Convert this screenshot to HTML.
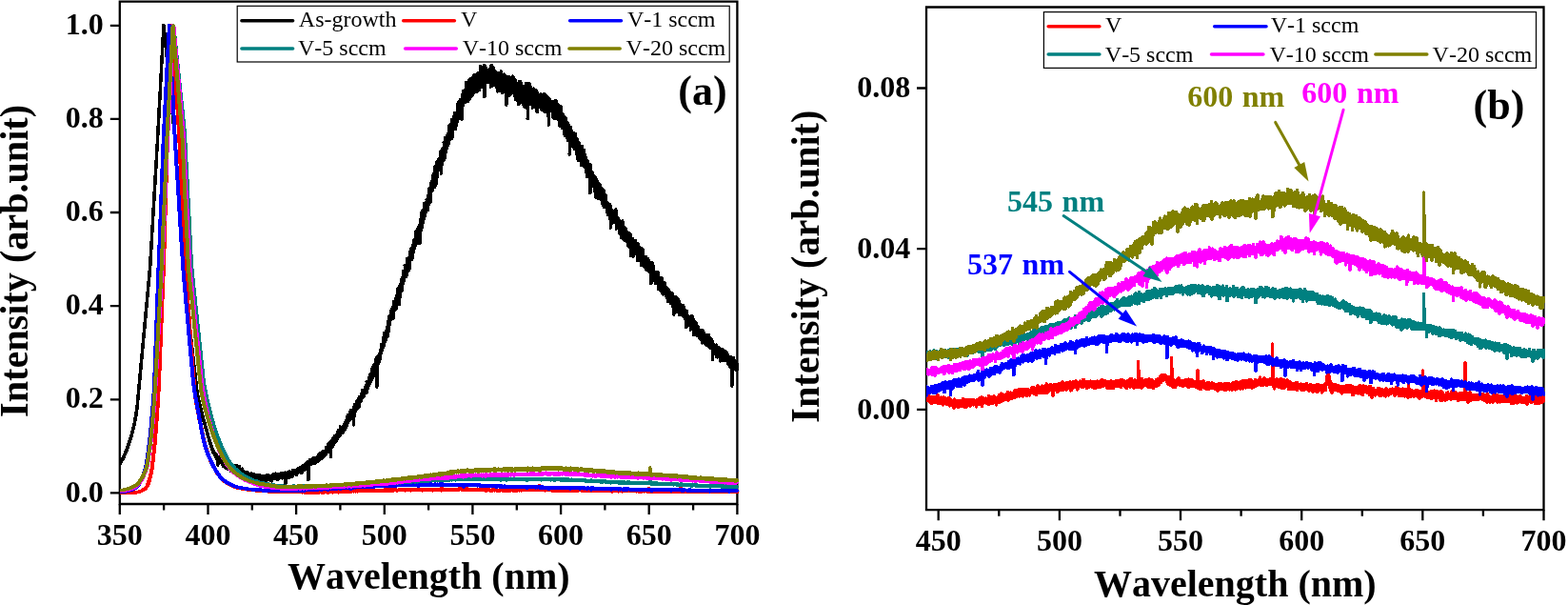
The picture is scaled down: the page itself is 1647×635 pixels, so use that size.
<!DOCTYPE html>
<html lang="en"><head><meta charset="utf-8"><title>PL spectra</title>
<style>
html,body{margin:0;padding:0;background:#fff;overflow:hidden;}
svg{display:block;}
text{font-family:"Liberation Serif","Times New Roman",serif;font-kerning:none;}
.tk{font-weight:bold;font-size:32px;}
.ti{font-weight:bold;font-size:40px;}
.lg{font-size:24px;}
.pl{font-weight:bold;font-size:44px;}
.an{word-spacing:1.6px;}
.c{fill:none;stroke-width:3.6;stroke-linejoin:round;stroke-linecap:butt;shape-rendering:crispEdges;}
.ax{stroke:#000;stroke-width:2.3;fill:none;}
</style></head>
<body>
<svg width="1647" height="635" viewBox="0 0 1647 635">
<rect width="1647" height="635" fill="#fff"/>
<defs><clipPath id="cl"><rect x="125.8" y="1.7" width="650.6" height="527.3"/></clipPath><clipPath id="cr"><rect x="973.0" y="7.5" width="650.3" height="527.7"/></clipPath></defs>
<g id="panel-a">
<path class="ax" stroke-linejoin="miter" d="M125.8 529.0V1.7H774.4V529.0Z"/>
<path class="ax" d="M125.8 529.0v11.1M218.5 529.0v11.1M311.1 529.0v11.1M403.8 529.0v11.1M496.4 529.0v11.1M589.1 529.0v11.1M681.7 529.0v11.1M774.4 529.0v11.1M172.1 529.0v6.6M264.8 529.0v6.6M357.4 529.0v6.6M450.1 529.0v6.6M542.8 529.0v6.6M635.4 529.0v6.6M728.1 529.0v6.6M125.8 517.4h-10M125.8 419.3h-10M125.8 321.2h-10M125.8 223.0h-10M125.8 124.9h-10M125.8 26.8h-10"/>
<text class="tk" x="125.8" y="571.8" text-anchor="middle">350</text>
<text class="tk" x="218.5" y="571.8" text-anchor="middle">400</text>
<text class="tk" x="311.1" y="571.8" text-anchor="middle">450</text>
<text class="tk" x="403.8" y="571.8" text-anchor="middle">500</text>
<text class="tk" x="496.4" y="571.8" text-anchor="middle">550</text>
<text class="tk" x="589.1" y="571.8" text-anchor="middle">600</text>
<text class="tk" x="681.7" y="571.8" text-anchor="middle">650</text>
<text class="tk" x="774.4" y="571.8" text-anchor="middle">700</text>
<text class="tk" x="108.7" y="526.5" text-anchor="end">0.0</text>
<text class="tk" x="108.7" y="428.4" text-anchor="end">0.2</text>
<text class="tk" x="108.7" y="330.3" text-anchor="end">0.4</text>
<text class="tk" x="108.7" y="232.1" text-anchor="end">0.6</text>
<text class="tk" x="108.7" y="134.0" text-anchor="end">0.8</text>
<text class="tk" x="108.7" y="35.9" text-anchor="end">1.0</text>
<text class="ti" x="450.2" y="618" text-anchor="middle">Wavelength (nm)</text>
<text class="ti" transform="translate(29.2 273.9) rotate(-90) scale(1.004 1.07)" text-anchor="middle">Intensity (arb.unit)</text>
<g clip-path="url(#cl)">
<path class="c" stroke="#000000" d="M125.8 487.0L125.8 487.0V486.7L126.3 486.6V485.9L126.8 485.7V485.1L127.3 485.0V484.3L127.8 484.2V483.3L128.3 483.1V482.4L128.8 482.3V481.3L129.3 481.2V480.4L129.8 480.2V479.4L130.3 479.2V478.2L130.8 478.0V477.2L131.3 477.0V475.9L131.8 475.6V474.7L132.3 474.5V473.5L132.8 473.3V472.0L133.3 471.7V470.7L133.8 470.4V469.1L134.3 468.8V467.7L134.8 467.4V466.3L135.3 466.0V464.6L135.8 464.3V463.2L136.3 462.9V461.5L136.8 461.2V460.0L137.3 459.7V458.5L137.8 458.2V456.7L138.3 456.4V455.1L138.8 454.7V453.0L139.3 452.7V451.2L139.8 450.8V449.3L140.3 448.9V446.9L140.8 446.5V444.8L141.3 444.3V442.5L141.8 442.0V439.5L142.3 439.0V436.8L142.8 436.3V433.3L143.3 432.7V430.0L143.8 429.2V425.9L144.3 425.1V420.5L144.8 419.5V415.7L145.3 414.7V409.9L145.8 408.9V404.9L146.3 403.9V399.9L146.8 398.8V393.8L147.3 392.8V388.8L147.8 387.8V382.7L148.3 381.7V377.7L148.8 376.7V372.7L149.3 371.6V366.6L149.8 365.6V361.6L150.3 360.6V355.5L150.8 354.5V350.5L151.3 349.5V345.4L151.8 344.4V339.4L152.3 338.4V334.4L152.8 333.4V328.3L153.3 327.3V323.3L153.8 322.3V318.2L154.3 317.2V312.2L154.8 311.2V307.2L155.3 306.1V301.1L155.8 300.1V296.1L156.3 295.1V291.0L156.8 290.0V285.0L157.3 284.0V279.9L157.8 278.4V270.5L158.3 268.9V262.6L158.8 261.1V254.8L159.3 253.2V245.3L159.8 243.7V237.4L160.3 235.9V228.0L160.8 226.4V220.1L161.3 218.5V212.2L161.8 210.7V202.8L162.3 201.2V194.9L162.8 193.4V185.5L163.3 183.9V177.6L163.8 176.0V169.7L164.3 168.2V160.3L164.8 158.7V152.4L165.3 150.8V142.8L165.8 141.1V134.2L166.3 132.4V125.5L166.8 123.8V115.1L167.3 113.4V106.5L167.8 104.7V97.8L168.3 96.1V87.4L168.8 85.7V78.7L169.3 77.0V68.4L169.8 66.6V59.7L170.3 58.0V51.0L170.8 49.3V40.7L171.3 38.9V32.0L171.8 30.3V26.8L172.3 30.5V34.1L172.8 35.0V38.7L173.3 39.6V44.2L173.8 45.1V48.7L174.3 49.6V54.2L174.8 55.1V58.8L175.3 59.7V63.4L175.8 64.3V68.8L176.3 69.8V73.4L176.8 74.3V78.9L177.3 79.8V83.5L177.8 84.4V88.0L178.3 88.9V93.5L178.8 94.4V98.1L179.3 99.0V103.6L179.8 104.5V108.1L180.3 109.1V112.7L180.8 113.6V118.2L181.3 119.1V122.8L181.8 123.7V128.2L182.3 129.2V132.8L182.8 133.7V137.4L183.3 138.3V144.6L183.8 146.1V152.0L184.3 153.5V161.0L184.8 162.4V168.4L185.3 169.9V175.8L185.8 177.3V184.8L186.3 186.2V192.2L186.8 193.7V201.1L187.3 202.6V208.6L187.8 210.0V216.0L188.3 217.5V224.9L188.8 226.4V232.4L189.3 233.8V241.3L189.8 242.8V248.7L190.3 250.2V256.2L190.8 257.6V265.1L191.3 266.6V272.5L191.8 274.0V280.8L192.3 281.6V284.9L192.8 285.7V289.0L193.3 289.8V293.9L193.8 294.8V298.1L194.3 298.9V302.2L194.8 303.0V307.1L195.3 307.9V311.2L195.8 312.0V316.2L196.3 317.0V320.3L196.8 321.1V324.4L197.3 325.2V329.3L197.8 330.1V333.4L198.3 334.3V338.4L198.8 339.2V342.5L199.3 343.3V346.6L199.8 347.4V351.5L200.3 352.4V355.7L200.8 356.5V360.6L201.3 361.4V364.7L201.8 365.5V368.8L202.3 369.6V373.8L202.8 374.6V377.9L203.3 378.7V382.8L203.8 383.6V386.9L204.3 387.7V391.0L204.8 391.9V396.0L205.3 396.8V400.1L205.8 400.9V405.0L206.3 405.8V409.1L206.8 410.0V412.0L207.3 412.5V414.9L207.8 415.4V417.2L208.3 417.7V419.9L208.8 420.3V422.0L209.3 422.5V424.1L209.8 424.5V426.5L210.3 426.9V428.4L210.8 428.8V430.7L211.3 431.0V432.5L211.8 432.9V434.3L212.3 434.6V436.3L212.8 436.7V438.0L213.3 438.4V440.0L213.8 440.4V441.7L214.3 442.0V443.3L214.8 443.7V445.3L215.3 445.6V446.9L215.8 447.2V448.9L216.3 449.2V450.5L216.8 450.9V452.2L217.3 452.5V454.1L217.8 454.5V455.8L218.3 456.1V457.7L218.8 458.0V459.3L219.3 459.6V460.9L219.8 461.2V462.6L220.3 462.9V464.5L220.8 464.3V465.8L221.3 466.1V467.6L221.8 467.5V468.9L222.3 468.8V469.9L222.8 470.4V471.6L223.3 471.3V472.3L223.8 472.6V474.2L224.3 474.1V475.2L224.8 474.6V475.9L225.3 476.6V475.0L225.8 476.3V477.9L226.3 477.1V479.0L226.8 479.4V477.1L227.3 477.6V480.4L227.8 481.3V479.2L228.3 480.1V481.8L228.8 479.6V488.1L229.3 482.3V479.6L229.8 480.6V482.8L230.3 482.9V481.8L230.8 480.9V483.8L231.3 485.4V481.6L231.8 483.0V485.3L232.3 485.4V484.0L232.8 482.6V486.0L233.3 486.6V484.9L233.8 485.6V488.0L234.3 488.6V486.5L234.8 485.3V489.3L235.3 488.0V484.8L235.8 485.5V488.3L236.3 489.2V486.3L236.8 487.1V489.1L237.3 491.3V486.8L237.8 486.7V489.4L238.3 489.4V485.8L238.8 486.9V490.9L239.3 489.9V487.6L239.8 488.7V492.3L240.3 490.8V486.4L240.8 487.1V491.3L241.3 492.7V487.4L241.8 490.1V492.2L242.3 494.0V489.9L242.8 489.6V491.4L243.3 492.4V488.8L243.8 489.3V493.3L244.3 491.2V489.1L244.8 489.2V495.2L245.3 491.9V488.5L245.8 489.6V493.8L246.3 494.2V491.9L246.8 489.1V495.1L247.3 493.1V491.0L247.8 490.7V495.0L248.3 493.0V488.9L248.8 492.2V495.2L249.3 494.7V491.8L249.8 491.6V494.6L250.3 495.0V491.5L250.8 492.7V495.9L251.3 494.6V489.7L251.8 493.5V497.3L252.3 495.3V491.9L252.8 492.3V497.3L253.3 497.0V494.8L253.8 494.4V496.9L254.3 496.5V492.1L254.8 493.1V497.1L255.3 496.4V498.7L255.8 497.4V495.7L256.3 495.1V497.0L256.8 497.4V495.8L257.3 496.1V498.0L257.8 498.7V495.8L258.3 496.3V498.6L258.8 498.1V495.6L259.3 497.4V499.6L259.8 499.8V497.9L260.3 496.1V499.8L260.8 500.3V498.1L261.3 499.0V502.4L261.8 499.8V498.1L262.3 498.1V500.3L262.8 500.8V497.7L263.3 498.8V500.7L263.8 499.5V496.9L264.3 497.3V502.2L264.8 501.3V498.1L265.3 499.9V504.8L265.8 502.0V498.1L266.3 499.1V500.9L266.8 500.1V497.9L267.3 498.2V502.6L267.8 502.8V498.3L268.3 499.2V500.7L268.8 498.3V503.8L269.3 500.8V499.3L269.8 499.6V501.9L270.3 502.3V499.5L270.8 498.6V503.4L271.3 503.1V499.1L271.8 499.6V503.4L272.3 502.9V500.3L272.8 498.8V502.5L273.3 503.8V499.5L273.8 500.9V504.0L274.3 503.3V499.6L274.8 501.1V503.7L275.3 504.9V500.1L275.8 501.4V505.2L276.3 503.6V499.7L276.8 499.4V504.1L277.3 503.8V500.6L277.8 501.0V506.1L278.3 504.4V500.5L278.8 499.8V504.1L279.3 505.0V500.4L279.8 498.9V504.1L280.3 501.9V498.9L280.8 498.9V502.4L281.3 503.1V500.3L281.8 498.6V502.6L282.3 503.6V499.9L282.8 500.1V503.6L283.3 502.8V500.6L283.8 501.5V502.5L284.3 504.0V500.6L284.8 499.9V503.7L285.3 504.7V500.0L285.8 499.7V503.0L286.3 500.9V499.7L286.8 501.0V498.3L287.3 497.6V501.6L287.8 501.8V498.2L288.3 499.3V501.3L288.8 500.7V498.1L289.3 497.3V500.8L289.8 502.5V498.3L290.3 499.1V502.3L290.8 502.9V497.8L291.3 498.8V500.8L291.8 499.5V503.1L292.3 500.3V498.5L292.8 498.3V501.5L293.3 500.5V497.6L293.8 497.4V501.7L294.3 501.7V497.7L294.8 497.6V500.6L295.3 499.6V497.5L295.8 496.5V500.8L296.3 501.8V497.1L296.8 497.3V499.3L297.3 500.4V498.0L297.8 496.9V499.9L298.3 501.5V496.7L298.8 498.4V500.1L299.3 499.6V496.1L299.8 497.0V507.4L300.3 499.2V497.1L300.8 497.1V499.5L301.3 498.5V501.7L301.8 499.7V497.2L302.3 495.9V499.4L302.8 500.2V495.9L303.3 496.6V501.4L303.8 498.9V496.7L304.3 498.3V494.9L304.8 495.4V499.3L305.3 498.1V495.3L305.8 496.7V499.0L306.3 498.2V496.2L306.8 495.0V500.4L307.3 497.4V493.3L307.8 494.6V497.3L308.3 496.5V494.2L308.8 495.3V497.7L309.3 497.7V493.6L309.8 495.7V496.8L310.3 495.4V493.7L310.8 494.6V496.6L311.3 498.5V494.1L311.8 493.8V496.0L312.3 495.0V492.5L312.8 492.5V496.0L313.3 494.5V492.0L313.8 492.6V494.8L314.3 495.1V492.0L314.8 491.0V494.7L315.3 493.5V492.0L315.8 492.8V494.2L316.3 492.9V490.2L316.8 491.1V496.7L317.3 493.8V490.0L317.8 489.8V494.2L318.3 492.9V488.8L318.8 489.7V492.2L319.3 493.6V490.1L319.8 487.9V492.5L320.3 491.1V487.9L320.8 487.5V490.6L321.3 491.8V486.4L321.8 487.7V489.7L322.3 489.4V486.1L322.8 487.6V488.7L323.3 487.8V484.5L323.8 484.6V503.7L324.3 488.5V485.3L324.8 485.1V488.8L325.3 486.4V484.0L325.8 482.7V487.0L326.3 487.1V484.6L326.8 484.3V487.2L327.3 486.6V482.5L327.8 483.0V485.5L328.3 485.3V481.7L328.8 482.0V484.8L329.3 485.7V480.5L329.8 480.9V486.7L330.3 482.8V482.0L330.8 481.4V486.2L331.3 483.7V481.4L331.8 482.0V485.8L332.3 484.1V480.9L332.8 480.4V484.9L333.3 483.4V479.3L333.8 480.3V482.8L334.3 484.1V478.9L334.8 477.4V482.0L335.3 480.4V478.3L335.8 476.2V481.6L336.3 481.7V478.1L336.8 477.3V480.4L337.3 479.6V475.4L337.8 475.8V479.3L338.3 481.1V475.8L338.8 473.9V479.2L339.3 479.2V475.1L339.8 473.5V477.0L340.3 478.8V473.4L340.8 475.2V477.6L341.3 476.5V474.9L341.8 473.2V477.6L342.3 476.2V474.5L342.8 473.9V469.6L343.3 470.5V474.3L343.8 473.9V469.8L344.3 469.4V474.3L344.8 472.2V468.4L345.3 465.7V471.5L345.8 469.5V467.0L346.3 466.6V469.3L346.8 469.0V464.8L347.3 465.5V479.4L347.8 467.7V463.4L348.3 463.6V468.2L348.8 465.3V462.5L349.3 461.0V468.8L349.8 466.9V462.5L350.3 459.5V466.3L350.8 463.7V459.7L351.3 460.0V463.3L351.8 460.0V457.5L352.3 459.8V464.1L352.8 462.2V459.3L353.3 457.6V462.3L353.8 461.4V456.7L354.3 459.3V453.5L354.8 453.2V459.5L355.3 457.1V454.1L355.8 456.9V451.3L356.3 451.8V457.6L356.8 457.0V452.6L357.3 454.8V448.0L357.8 450.4V455.3L358.3 454.9V448.3L358.8 448.3V454.6L359.3 454.6V449.5L359.8 450.5V452.4L360.3 454.1V448.5L360.8 447.1V452.9L361.3 450.7V445.6L361.8 445.4V450.0L362.3 451.2V444.0L362.8 442.9V448.4L363.3 449.0V443.1L363.8 441.5V445.7L364.3 446.8V441.3L364.8 443.1V436.9L365.3 437.0V443.4L365.8 442.9V435.4L366.3 436.9V439.8L366.8 440.0V435.6L367.3 436.4V441.1L367.8 440.7V432.6L368.3 431.1V438.1L368.8 437.8V432.6L369.3 430.9V438.4L369.8 435.1V431.0L370.3 433.2V438.5L370.8 435.6V430.8L371.3 429.3V445.8L371.8 436.5V429.2L372.3 425.9V433.6L372.8 432.7V424.6L373.3 426.9V431.7L373.8 430.4V424.6L374.3 423.3V430.0L374.8 428.3V422.7L375.3 420.5V426.0L375.8 428.8V423.0L376.3 423.8V421.1L376.8 417.9V427.1L377.3 426.4V419.2L377.8 421.1V416.7L378.3 417.2V421.8L378.8 421.2V416.0L379.3 417.4V414.5L379.8 413.3V418.7L380.3 416.2V409.6L380.8 412.4V415.5L381.3 416.5V412.0L381.8 410.8V416.9L382.3 412.9V409.2L382.8 409.4V412.7L383.3 410.8V406.6L383.8 406.2V412.4L384.3 409.3V405.2L384.8 404.1V412.4L385.3 411.5V400.5L385.8 402.4V408.5L386.3 407.4V402.0L386.8 403.2V405.8L387.3 401.5V396.4L387.8 395.9V403.7L388.3 401.8V398.4L388.8 401.5V393.7L389.3 392.3V400.5L389.8 399.5V393.8L390.3 393.6V398.0L390.8 394.4V388.4L391.3 385.8V397.0L391.8 395.4V387.6L392.3 389.1V393.1L392.8 391.3V383.4L393.3 385.0V389.9L393.8 392.4V382.3L394.3 381.4V386.3L394.8 384.6V379.0L395.3 375.8V389.5L395.8 377.0V406.1L396.3 382.2V377.5L396.8 374.0V383.0L397.3 377.6V373.9L397.8 373.0V380.2L398.3 378.1V371.7L398.8 372.6V377.7L399.3 374.3V367.3L399.8 366.9V371.6L400.3 371.1V366.0L400.8 368.8V361.5L401.3 362.5V367.9L401.8 365.2V362.0L402.3 363.2V358.8L402.8 354.5V363.9L403.3 359.1V354.8L403.8 359.7V349.3L404.3 351.9V358.3L404.8 357.2V350.1L405.3 350.2V355.7L405.8 353.9V346.9L406.3 347.4V350.6L406.8 353.9V344.0L407.3 341.9V349.5L407.8 347.8V337.8L408.3 339.3V347.4L408.8 341.2V332.6L409.3 334.4V337.7L409.8 336.2V332.7L410.3 330.5V336.1L410.8 335.2V326.8L411.3 324.8V331.4L411.8 332.2V327.9L412.3 324.7V333.9L412.8 334.5V322.2L413.3 323.0V328.7L413.8 324.4V316.7L414.3 317.3V326.1L414.8 324.2V317.4L415.3 318.5V320.7L415.8 324.4V313.8L416.3 312.1V323.2L416.8 314.6V310.3L417.3 310.0V316.4L417.8 311.7V305.3L418.3 302.2V311.7L418.8 311.8V306.5L419.3 300.8V319.7L419.8 310.9V301.0L420.3 298.9V304.4L420.8 303.5V300.6L421.3 302.8V293.2L421.8 296.3V305.9L422.3 300.2V292.3L422.8 291.1V297.2L423.3 298.2V290.6L423.8 293.4V284.7L424.3 286.0V295.1L424.8 291.1V284.4L425.3 285.9V278.5L425.8 281.9V288.8L426.3 283.5V279.5L426.8 280.5V290.0L427.3 285.0V271.7L427.8 274.9V283.4L428.3 281.3V273.1L428.8 276.2V284.9L429.3 280.6V270.2L429.8 271.2V282.3L430.3 274.7V267.1L430.8 264.6V272.7L431.3 268.9V261.6L431.8 261.9V271.5L432.3 270.4V260.5L432.8 261.7V272.1L433.3 267.8V259.6L433.8 257.2V265.3L434.3 261.7V255.4L434.8 256.4V251.8L435.3 251.6V260.9L435.8 258.5V251.2L436.3 250.2V254.3L436.8 253.2V243.7L437.3 245.1V254.5L437.8 255.7V243.0L438.3 240.9V250.7L438.8 250.4V245.7L439.3 249.7V238.3L439.8 238.8V245.1L440.3 243.9V236.2L440.8 236.2V255.4L441.3 240.1V238.6L441.8 243.2V230.6L442.3 233.0V238.8L442.8 235.2V223.0L443.3 226.9V238.9L443.8 233.5V224.7L444.3 220.1V231.5L444.8 228.2V226.6L445.3 229.5V218.5L445.8 213.5V227.4L446.3 227.1V219.3L446.8 219.4V223.8L447.3 218.6V214.5L447.8 212.4V219.1L448.3 221.1V209.5L448.8 210.3V214.0L449.3 220.3V205.8L449.8 206.2V215.4L450.3 210.4V205.4L450.8 211.4V198.2L451.3 202.5V211.1L451.8 212.8V201.0L452.3 201.7V210.0L452.8 200.7V195.3L453.3 190.8V199.9L453.8 200.8V190.0L454.3 191.2V198.3L454.8 196.5V184.6L455.3 190.5V196.5L455.8 194.8V182.3L456.3 185.5V196.4L456.8 194.0V177.6L457.3 174.4V194.6L457.8 193.4V176.9L458.3 183.3V170.4L458.8 175.3V179.8L459.3 186.0V171.9L459.8 169.4V180.0L460.3 176.2V167.6L460.8 168.5V176.7L461.3 173.4V166.3L461.8 170.1V174.3L462.3 176.9V160.0L462.8 159.0V172.5L463.3 163.6V182.0L463.8 171.8V160.5L464.3 158.8V172.7L464.8 166.7V156.5L465.3 155.4V165.4L465.8 168.6V158.5L466.3 159.7V149.5L466.8 154.1V162.0L467.3 165.2V150.8L467.8 144.4V161.0L468.3 153.1V146.2L468.8 147.5V151.4L469.3 155.9V145.2L469.8 142.2V153.3L470.3 146.5V143.6L470.8 140.6V152.0L471.3 146.7V138.4L471.8 132.3V147.7L472.3 139.8V132.4L472.8 131.7V142.7L473.3 140.3V130.1L473.8 130.1V137.6L474.3 136.7V125.4L474.8 127.8V145.1L475.3 140.9V126.3L475.8 126.2V134.2L476.3 135.9V123.2L476.8 121.8V133.2L477.3 134.8V119.0L477.8 122.4V130.0L478.3 135.2V123.2L478.8 121.7V133.0L479.3 129.1V118.9L479.8 120.3V129.0L480.3 126.4V121.0L480.8 122.0V109.6L481.3 112.5V123.5L481.8 118.6V111.2L482.3 106.1V118.0L482.8 112.5V109.6L483.3 105.6V124.4L483.8 116.4V104.4L484.3 106.2V117.1L484.8 112.1V105.1L485.3 103.3V125.0L485.8 109.6V98.9L486.3 100.5V110.0L486.8 107.0V95.8L487.3 97.8V106.7L487.8 100.1V96.5L488.3 96.2V105.0L488.8 107.0V94.1L489.3 101.5V105.9L489.8 100.2V86.3L490.3 94.9V103.1L490.8 101.0V90.8L491.3 96.0V106.7L491.8 98.8V91.4L492.3 89.6V100.9L492.8 100.8V93.0L493.3 83.6V103.9L493.8 101.2V86.8L494.3 96.1V101.4L494.8 97.1V82.5L495.3 86.2V95.4L495.8 100.2V82.0L496.3 85.4V99.1L496.8 95.5V87.9L497.3 79.8V97.7L497.8 90.8V85.4L498.3 78.4V96.3L498.8 90.3V83.7L499.3 80.1V94.0L499.8 96.1V83.2L500.3 83.4V95.3L500.8 95.9V83.8L501.3 78.7V95.9L501.8 89.2V77.2L502.3 76.5V91.0L502.8 93.2V78.2L503.3 76.8V94.6L503.8 90.8V82.1L504.3 85.0V73.3L504.8 69.5V85.1L505.3 85.7V79.5L505.8 74.4V91.0L506.3 88.8V77.6L506.8 76.4V82.8L507.3 89.1V72.1L507.8 77.1V83.5L508.3 87.9V68.9L508.8 68.4V101.3L509.3 83.2V72.9L509.8 78.4V84.1L510.3 87.2V71.4L510.8 74.2V86.8L511.3 82.9V76.7L511.8 74.0V84.8L512.3 83.8V75.9L512.8 76.5V80.2L513.3 77.4V86.3L513.8 85.2V78.3L514.3 78.7V84.7L514.8 84.9V72.1L515.3 73.6V91.0L515.8 88.5V79.0L516.3 68.6V90.3L516.8 82.4V73.9L517.3 74.4V82.5L517.8 85.8V70.5L518.3 75.0V87.1L518.8 85.9V77.3L519.3 74.1V85.3L519.8 89.6V74.2L520.3 78.6V89.2L520.8 88.5V77.6L521.3 79.9V91.3L521.8 85.4V79.7L522.3 76.5V95.9L522.8 90.3V81.6L523.3 76.4V95.2L523.8 94.2V80.2L524.3 79.5V95.4L524.8 85.3V78.3L525.3 79.5V90.0L525.8 93.8V81.5L526.3 74.9V90.1L526.8 90.0V82.3L527.3 79.1V88.6L527.8 83.3V97.4L528.3 88.8V82.9L528.8 82.7V92.9L529.3 93.3V86.1L529.8 78.1V95.1L530.3 92.5V87.2L530.8 82.7V93.3L531.3 87.7V80.0L531.8 84.0V110.0L532.3 100.1V84.5L532.8 83.9V93.2L533.3 97.1V85.2L533.8 80.5V95.8L534.3 100.2V88.0L534.8 89.7V95.9L535.3 95.8V85.3L535.8 81.2V99.5L536.3 94.6V84.2L536.8 84.4V90.3L537.3 93.7V81.3L537.8 85.3V94.2L538.3 97.3V80.3L538.8 80.2V91.3L539.3 92.0V83.8L539.8 86.4V91.1L540.3 95.5V84.2L540.8 83.9V99.6L541.3 101.2V87.6L541.8 89.6V104.2L542.3 94.4V89.9L542.8 87.8V100.9L543.3 102.0V93.8L543.8 93.9V100.3L544.3 107.3V90.1L544.8 95.1V109.8L545.3 103.7V85.7L545.8 94.3V101.4L546.3 105.5V94.1L546.8 86.0V102.8L547.3 99.9V95.3L547.8 97.2V104.1L548.3 102.8V93.5L548.8 97.4V107.5L549.3 104.5V94.0L549.8 91.0V110.0L550.3 104.1V95.6L550.8 92.1V112.0L551.3 101.4V94.2L551.8 98.4V103.0L552.3 104.7V87.8L552.8 90.4V103.7L553.3 113.1V93.6L553.8 96.4V100.3L554.3 89.3V124.6L554.8 99.6V91.0L555.3 91.6V107.1L555.8 109.8V87.4L556.3 93.6V108.0L556.8 108.9V92.8L557.3 90.8V102.8L557.8 105.2V97.4L558.3 93.2V106.2L558.8 104.0V97.5L559.3 93.7V113.2L559.8 112.4V99.6L560.3 97.3V105.5L560.8 101.2V93.2L561.3 95.1V104.7L561.8 99.2V112.6L562.3 107.5V95.9L562.8 94.8V109.4L563.3 112.3V97.5L563.8 97.0V111.0L564.3 117.7V97.7L564.8 100.0V109.4L565.3 111.0V102.3L565.8 100.5V112.9L566.3 110.2V100.1L566.8 102.3V111.9L567.3 103.9V100.2L567.8 98.8V110.1L568.3 112.2V102.9L568.8 104.7V115.0L569.3 115.4V106.3L569.8 102.3V112.9L570.3 112.8V102.1L570.8 101.1V114.5L571.3 107.9V101.2L571.8 98.6V115.5L572.3 117.3V107.7L572.8 102.3V114.4L573.3 116.0V108.0L573.8 103.9V114.7L574.3 115.9V101.0L574.8 103.7V113.2L575.3 107.5V121.6L575.8 117.7V102.9L576.3 105.3V131.0L576.8 111.6V103.6L577.3 111.5V116.6L577.8 113.5V107.7L578.3 107.2V116.5L578.8 114.9V107.8L579.3 106.8V115.8L579.8 114.6V111.8L580.3 109.1V116.8L580.8 122.8V106.8L581.3 110.7V116.8L581.8 118.7V109.6L582.3 108.2V124.3L582.8 117.7V110.8L583.3 114.7V119.3L583.8 120.3V105.4L584.3 110.0V119.6L584.8 115.5V124.0L585.3 118.5V110.8L585.8 109.6V121.7L586.3 121.0V125.0L586.8 125.7V114.0L587.3 114.4V131.1L587.8 131.7V111.4L588.3 117.4V126.9L588.8 126.7V111.6L589.3 114.8V132.0L589.8 128.1V118.5L590.3 123.1V133.5L590.8 134.5V121.4L591.3 119.9V131.9L591.8 130.3V125.5L592.3 126.6V140.6L592.8 132.2V124.8L593.3 123.2V142.4L593.8 140.7V123.7L594.3 130.9V139.1L594.8 141.7V133.3L595.3 134.0V144.5L595.8 141.8V133.4L596.3 129.3V147.1L596.8 141.2V130.6L597.3 133.7V146.3L597.8 145.1V134.4L598.3 134.3V162.0L598.8 143.5V134.7L599.3 133.7V147.0L599.8 148.2V136.3L600.3 138.3V146.4L600.8 153.0V138.9L601.3 140.6V147.9L601.8 148.9V140.3L602.3 142.8V149.8L602.8 154.1V142.0L603.3 140.3V156.5L603.8 155.1V142.0L604.3 140.4V156.0L604.8 155.1V151.3L605.3 150.8V161.8L605.8 162.0V145.6L606.3 150.1V166.7L606.8 163.6V152.7L607.3 150.8V163.6L607.8 168.1V149.3L608.3 158.8V164.7L608.8 164.4V159.1L609.3 157.9V166.4L609.8 167.6V154.8L610.3 160.3V170.6L610.8 173.3V162.3L611.3 170.7V153.5L611.8 160.2V168.3L612.3 167.7V161.2L612.8 168.6V170.6L613.3 172.6V157.5L613.8 166.7V174.3L614.3 174.9V162.8L614.8 167.2V171.3L615.3 165.7V180.1L615.8 178.3V169.1L616.3 169.8V185.0L616.8 182.9V169.1L617.3 169.4V180.0L617.8 181.1V174.9L618.3 177.3V172.2L618.8 176.0V186.0L619.3 185.5V174.5L619.8 172.7V202.3L620.3 187.7V179.2L620.8 181.0V188.5L621.3 192.1V180.2L621.8 184.6V188.4L622.3 192.7V181.6L622.8 183.1V195.4L623.3 195.1V185.6L623.8 187.2V195.6L624.3 196.1V187.1L624.8 185.7V197.5L625.3 201.3V187.5L625.8 187.3V203.1L626.3 207.3V188.2L626.8 189.4V200.6L627.3 198.4V207.8L627.8 205.3V194.0L628.3 195.4V200.8L628.8 194.8V208.6L629.3 207.6V197.6L629.8 193.2V203.8L630.3 201.1V208.2L630.8 206.8V196.6L631.3 200.3V209.8L631.8 207.8V198.9L632.3 200.9V213.3L632.8 212.6V204.8L633.3 200.2V211.1L633.8 215.3V199.2L634.3 205.9V217.5L634.8 213.2V203.2L635.3 209.8V215.7L635.8 217.3V207.2L636.3 205.0V216.9L636.8 216.9V210.9L637.3 216.0V220.0L637.8 223.1V212.4L638.3 214.1V222.6L638.8 225.5V214.2L639.3 214.6V223.8L639.8 221.4V218.9L640.3 218.1V224.4L640.8 230.0V215.0L641.3 220.1V239.0L641.8 229.3V224.8L642.3 228.7V220.7L642.8 223.3V228.9L643.3 233.8V223.0L643.8 222.0V231.4L644.3 231.8V222.6L644.8 221.4V231.0L645.3 232.8V226.2L645.8 224.1V230.1L646.3 232.4V223.6L646.8 220.0V232.1L647.3 230.2V240.0L647.8 239.6V228.3L648.3 228.3V237.5L648.8 238.8V228.2L649.3 230.9V239.0L649.8 239.6V232.4L650.3 237.4V243.1L650.8 244.9V232.0L651.3 232.2V242.1L651.8 243.1V240.0L652.3 242.9V232.9L652.8 234.5V249.3L653.3 245.8V233.0L653.8 232.0V241.5L654.3 244.2V237.8L654.8 239.5V247.8L655.3 251.7V240.5L655.8 239.9V248.3L656.3 246.9V240.9L656.8 239.2V252.8L657.3 251.4V246.3L657.8 246.8V242.2L658.3 247.6V253.6L658.8 253.3V247.5L659.3 244.0V251.3L659.8 250.0V252.9L660.3 258.4V246.9L660.8 250.5V257.4L661.3 257.0V248.4L661.8 245.2V259.4L662.3 257.6V250.9L662.8 251.4V268.8L663.3 261.5V251.5L663.8 250.4V257.8L664.3 260.4V250.8L664.8 253.0V260.8L665.3 254.4V269.1L665.8 264.2V253.8L666.3 255.7V263.0L666.8 266.3V258.5L667.3 264.0V252.3L667.8 258.7V266.3L668.3 265.3V255.6L668.8 257.7V265.1L669.3 262.6V273.1L669.8 272.1V256.0L670.3 258.1V265.6L670.8 260.4V271.0L671.3 273.1V265.0L671.8 269.3V259.1L672.3 263.6V270.8L672.8 271.3V265.0L673.3 265.4V274.8L673.8 278.4V267.2L674.3 267.3V273.0L674.8 274.8V261.1L675.3 265.9V272.1L675.8 272.0V278.0L676.3 275.0V269.1L676.8 269.1V277.8L677.3 280.4V270.0L677.8 269.7V278.5L678.3 274.4V269.9L678.8 275.0V283.1L679.3 283.5V275.8L679.8 277.2V283.1L680.3 282.7V274.0L680.8 272.0V282.1L681.3 281.5V274.3L681.8 275.5V282.6L682.3 285.7V275.2L682.8 275.4V285.9L683.3 283.6V276.9L683.8 278.2V297.5L684.3 286.5V278.0L684.8 275.5V285.1L685.3 285.3V283.3L685.8 285.0V291.8L686.3 285.0V279.6L686.8 285.7V294.2L687.3 290.6V286.9L687.8 285.5V290.9L688.3 291.4V286.9L688.8 287.0V297.7L689.3 295.5V291.7L689.8 290.8V297.2L690.3 296.2V290.3L690.8 285.5V295.9L691.3 296.3V287.0L691.8 290.3V303.3L692.3 296.0V292.2L692.8 296.5V301.8L693.3 304.3V296.7L693.8 296.1V302.7L694.3 304.9V292.4L694.8 291.4V303.5L695.3 303.4V297.3L695.8 296.6V304.8L696.3 308.8V299.6L696.8 301.3V305.5L697.3 302.5V297.1L697.8 296.6V306.6L698.3 307.8V302.3L698.8 301.6V305.9L699.3 305.0V307.3L699.8 310.6V301.3L700.3 305.4V312.0L700.8 313.1V305.1L701.3 305.7V309.5L701.8 303.4V316.4L702.3 313.9V306.4L702.8 308.5V315.4L703.3 315.9V306.0L703.8 307.1V310.7L704.3 312.0V318.0L704.8 317.4V310.9L705.3 308.7V315.4L705.8 314.9V307.9L706.3 308.3V321.7L706.8 320.6V311.3L707.3 311.6V314.4L707.8 314.7V330.0L708.3 321.6V312.4L708.8 311.5V320.9L709.3 322.3V313.3L709.8 315.9V320.5L710.3 323.8V312.0L710.8 312.3V324.2L711.3 326.9V319.3L711.8 318.3V325.8L712.3 324.5V317.7L712.8 314.9V325.9L713.3 327.3V319.5L713.8 319.7V330.5L714.3 328.9V319.3L714.8 319.2V329.2L715.3 328.5V324.0L715.8 320.5V330.1L716.3 328.7V322.4L716.8 322.8V329.3L717.3 330.9V325.1L717.8 320.8V330.7L718.3 331.0V324.3L718.8 327.7V331.1L719.3 334.1V325.0L719.8 326.4V330.7L720.3 327.4V335.4L720.8 331.5V343.8L721.3 335.3V326.6L721.8 331.0V334.2L722.3 334.8V337.3L722.8 337.7V334.5L723.3 333.7V340.8L723.8 339.7V332.9L724.3 334.0V336.4L724.8 335.4V338.7L725.3 335.4V346.0L725.8 340.9V334.8L726.3 333.9V341.6L726.8 338.3V331.6L727.3 338.6V345.6L727.8 341.6V336.2L728.3 335.5V342.6L728.8 339.4V351.8L729.3 345.3V338.8L729.8 337.5V348.9L730.3 350.9V339.4L730.8 344.6V347.8L731.3 349.0V339.4L731.8 344.2V351.6L732.3 349.8V342.6L732.8 343.7V352.4L733.3 348.2V343.6L733.8 345.5V351.6L734.3 350.2V345.8L734.8 346.4V354.9L735.3 355.1V346.3L735.8 348.6V356.1L736.3 354.0V348.5L736.8 350.5V355.9L737.3 354.6V348.9L737.8 347.4V359.9L738.3 357.3V347.0L738.8 349.7V357.9L739.3 355.7V351.2L739.8 350.0V356.3L740.3 356.5V351.4L740.8 353.3V357.6L741.3 361.9V352.7L741.8 352.0V359.2L742.3 360.8V353.1L742.8 351.6V360.4L743.3 362.1V354.5L743.8 355.3V362.8L744.3 359.2V351.7L744.8 360.3V363.3L745.3 362.2V357.4L745.8 359.5V363.6L746.3 365.4V360.5L746.8 362.3V355.2L747.3 358.1V364.1L747.8 366.1V357.9L748.3 359.3V377.4L748.8 366.7V363.7L749.3 365.0V361.4L749.8 361.4V368.3L750.3 367.2V363.4L750.8 364.3V371.5L751.3 370.1V366.5L751.8 364.9V370.1L752.3 373.0V362.2L752.8 366.0V374.5L753.3 374.9V366.3L753.8 367.1V373.6L754.3 374.4V369.3L754.8 365.2V374.3L755.3 373.3V364.9L755.8 365.2V372.1L756.3 367.7V378.9L756.8 373.8V369.5L757.3 370.3V374.0L757.8 375.6V368.2L758.3 373.1V375.2L758.8 377.2V366.6L759.3 370.9V378.2L759.8 375.6V369.5L760.3 371.9V378.5L760.8 376.7V372.0L761.3 369.3V376.4L761.8 378.7V370.0L762.3 370.0V378.3L762.8 378.6V369.1L763.3 374.5V377.4L763.8 378.1V371.9L764.3 374.7V380.0L764.8 382.0V373.9L765.3 374.9V379.2L765.8 381.6V375.0L766.3 377.5V381.7L766.8 384.8V378.3L767.3 374.7V383.8L767.8 383.8V376.4L768.3 381.3V387.2L768.8 377.8V405.0L769.3 386.1V376.2L769.8 376.4V386.7L770.3 387.4V375.5L770.8 378.2V381.9L771.3 380.8V384.5L771.8 387.6V378.7L772.3 379.8V384.5L772.8 383.4V387.8L773.3 387.4V381.1L773.8 381.4V388.6L774.3 386.2V381.9"/>
<path class="c" stroke="#ff0000" stroke-width="3.5" d="M125.8 517.4L125.8 517.4L126.8 517.4L127.8 517.4L128.8 517.4L129.8 517.4L130.8 517.4L131.8 517.3L132.8 517.3L133.8 517.3L134.8 517.3L135.8 517.2L136.8 517.2L137.8 517.1L138.8 517.1L139.8 517.1L140.8 517.0L141.8 516.9L142.8 516.9L143.8 516.8V516.6L144.8 516.6V516.4L145.8 516.4V516.1L146.8 516.1V515.7L147.8 515.7V515.4L148.8 515.3V514.9L149.8 514.8V514.3L150.8 514.3V513.7L151.8 513.7V513.0L152.8 513.0V512.3L153.8 512.2V510.9L154.8 510.8V508.7L155.8 508.4V505.7L156.8 505.4V502.4L157.8 502.1V498.4L158.8 498.0V493.3L159.8 492.7V485.7L160.8 484.9V476.5L161.8 475.6V467.5L162.8 466.6V456.1L163.8 454.9V443.1L164.8 441.9V429.0L165.8 427.6V412.6L166.8 410.9V390.6L167.8 388.4V365.8L168.8 363.5V340.9L169.8 338.7V316.1L170.8 313.8V291.2L171.8 289.0V264.1L172.8 260.9V229.1L173.8 225.9V194.2L174.8 191.0V159.2L175.8 156.0V129.2L176.8 127.1V107.4L177.8 105.3V83.5L178.8 81.3V59.5L179.8 57.3V35.5L180.8 35.5V26.8L181.8 37.0V51.5L182.8 53.0V67.5L183.8 68.9V83.5L184.8 84.9V99.4L185.8 100.9V114.0L186.8 115.4V130.0L187.8 131.4V148.1L188.8 150.1V170.1L189.8 172.1V192.1L190.8 194.1V212.0L191.8 214.0V234.0L192.8 236.0V256.0L193.8 258.0V278.0L194.8 279.9V292.2L195.8 293.4V304.5L196.8 305.7V318.0L197.8 319.2V331.5L198.8 332.7V345.0L199.8 346.2V358.4L200.8 359.7V370.7L201.8 371.9V384.2L202.8 385.4V397.7L203.8 398.9V410.7L204.8 411.4V417.8L205.8 418.4V423.5L206.8 424.0V429.0L207.8 429.5V434.2L208.8 434.7V439.4L209.8 439.9V444.1L210.8 444.6V449.3L211.8 449.7V454.3L212.8 454.7V459.0L213.8 459.4V463.3L214.8 463.7V466.8L215.8 467.1V470.1L216.8 470.4V473.2L217.8 473.5V476.1L218.8 476.3V478.7L219.8 479.0V481.0L220.8 481.2V483.4L221.8 483.6V485.5L222.8 485.7V487.6L223.8 487.7V489.5L224.8 489.6V491.1L225.8 491.3V492.9L226.8 493.1V494.6L227.8 494.8V496.3L228.8 496.5V497.9L229.8 498.0V499.2L230.8 499.4V500.6L231.8 500.8V501.9L232.8 502.0V503.0L233.8 503.1V503.9L234.8 504.0V504.7L235.8 504.8V505.4L236.8 505.5V506.1L237.8 506.2V506.8L238.8 506.9V507.4L239.8 507.4V508.0L240.8 508.0V508.6L241.8 508.6V509.1L242.8 509.2V509.6L243.8 509.7V510.1L244.8 510.1V510.5L245.8 510.5V510.9L246.8 510.9V511.3L247.8 511.3V511.6L248.8 511.6V511.9L249.8 511.9V512.2L250.8 512.2V512.4L251.8 512.4V512.6L252.8 512.6V512.8L253.8 512.8L254.8 512.9L255.8 513.1L256.8 513.2L257.8 513.4L258.8 513.5V513.7L259.8 513.7L260.8 513.7V513.9L261.8 513.8V514.1L262.8 514.1L263.8 514.0V514.3L264.8 514.3V514.1L265.8 514.1V514.4L266.8 514.6V514.3L267.8 514.3V514.7L268.8 514.7V514.4L269.8 514.5V514.9L270.8 514.8V514.5L271.8 514.5V515.0L272.8 515.1V514.6L273.8 514.9V515.2L274.8 515.2V514.8L275.8 514.9V515.4L276.8 515.2V514.8L277.8 514.8V515.3L278.8 515.5V514.9L279.8 515.1V515.6L280.8 515.6V515.1L281.8 515.3V515.9L282.8 515.8V515.4L283.8 515.3V516.0L284.8 515.8V515.2L285.8 515.4V516.1L286.8 516.0V515.2L287.8 515.3V516.0L288.8 516.0V515.2L289.8 515.4V516.0L290.8 516.1V515.5L291.8 515.7V516.4L292.8 516.2V515.5L293.8 515.4V516.1L294.8 515.7V516.6L295.8 516.4V515.8L296.8 515.7V516.3L297.8 516.2V515.8L298.8 515.7V516.4L299.8 516.3V515.7L300.8 515.8V516.6L301.8 516.6V515.9L302.8 515.7V516.3L303.8 516.4V515.8L304.8 516.0V516.5L305.8 516.6V515.9L306.8 516.0V516.5L307.8 516.5V515.8L308.8 515.8V516.4L309.8 516.5V515.8L310.8 515.7V516.7L311.8 516.6V516.1L312.8 515.9V516.7L313.8 516.6V516.0L314.8 515.9V516.8L315.8 516.4V516.0L316.8 516.0V516.7L317.8 516.8V516.0L318.8 516.0V516.7L319.8 516.9V516.0L320.8 516.2V516.9L321.8 516.8V516.3L322.8 516.1V517.2L323.8 516.8V516.3L324.8 516.4V516.9L325.8 517.1V516.3L326.8 516.4V517.1L327.8 517.0V516.3L328.8 516.3V517.0L329.8 516.9V516.1L330.8 516.2V517.0L331.8 517.1V516.2L332.8 516.2V517.0L333.8 516.9V516.2L334.8 516.3V516.9L335.8 516.9V516.2L336.8 516.3V516.7L337.8 516.8V516.2L338.8 516.3V516.8L339.8 517.1V516.5L340.8 516.2V516.7L341.8 516.6V516.1L342.8 516.0V516.8L343.8 516.8V515.9L344.8 516.1V517.0L345.8 516.7V516.0L346.8 516.1V516.4L347.8 516.6V516.1L348.8 516.1V516.5L349.8 516.8V515.7L350.8 516.0V516.5L351.8 516.3V515.8L352.8 516.0V516.7L353.8 516.4V515.8L354.8 516.0V516.5L355.8 516.8V515.9L356.8 515.8V516.5L357.8 516.5V515.6L358.8 515.5V516.4L359.8 516.3V515.5L360.8 515.7V516.3L361.8 516.2V515.7L362.8 515.5V516.0L363.8 516.0V515.2L364.8 515.4V516.3L365.8 516.0V515.5L366.8 515.3V516.0L367.8 516.0V515.5L368.8 515.4V515.9L369.8 515.9V515.0L370.8 515.1V515.8L371.8 515.7V515.1L372.8 515.0V515.8L373.8 515.7V514.9L374.8 515.2V515.7L375.8 515.8V514.9L376.8 514.9V515.6L377.8 515.6V515.1L378.8 515.0V515.7L379.8 515.6V515.0L380.8 515.1V515.7L381.8 515.4V514.8L382.8 514.7V515.3L383.8 515.3V514.9L384.8 514.7V515.4L385.8 515.6V514.7L386.8 514.5V515.3L387.8 515.4V514.8L388.8 514.8V515.4L389.8 515.1V514.7L390.8 514.5V515.1L391.8 515.4V514.5L392.8 514.7V515.0L393.8 515.4V514.3L394.8 514.5V515.0L395.8 515.1V514.5L396.8 514.3V515.0L397.8 515.0V514.5L398.8 514.5V515.7L399.8 515.1V514.3L400.8 514.5V515.0L401.8 515.2V514.4L402.8 514.6V515.2L403.8 515.0V514.2L404.8 514.4V514.9L405.8 515.1V514.1L406.8 514.1V514.8L407.8 514.8V514.2L408.8 514.1V515.0L409.8 514.8V514.1L410.8 514.3V514.7L411.8 515.1V514.0L412.8 514.1V515.0L413.8 514.8V514.2L414.8 514.0V514.7L415.8 514.6V513.9L416.8 514.2V515.0L417.8 514.7V514.3L418.8 514.1V514.6L419.8 514.5V513.9L420.8 514.0V514.6L421.8 514.6V513.8L422.8 513.8V514.5L423.8 514.5V514.0L424.8 514.1V514.8L425.8 514.7V514.1L426.8 514.0V514.6L427.8 514.6V513.9L428.8 514.0V514.7L429.8 514.6V514.0L430.8 514.0V514.7L431.8 514.7V514.0L432.8 513.9V514.7L433.8 514.5V514.1L434.8 514.0V514.7L435.8 514.5V513.8L436.8 514.0V514.5L437.8 514.5V513.8L438.8 514.0V514.5L439.8 514.7V514.0L440.8 514.0V514.7L441.8 514.4V514.0L442.8 513.9V514.8L443.8 514.8V514.0L444.8 514.0V514.8L445.8 514.6V514.2L446.8 514.4V513.9L447.8 514.0V514.5L448.8 514.6V513.9L449.8 513.9V514.4L450.8 514.7V513.8L451.8 513.8V514.5L452.8 514.5V513.9L453.8 514.0V514.6L454.8 514.8V514.1L455.8 513.9V514.5L456.8 514.2V513.9L457.8 513.7V514.6L458.8 514.3V513.6L459.8 514.1V514.5L460.8 514.7V514.0L461.8 513.8V514.5L462.8 514.4V513.9L463.8 514.7V511.5L464.8 513.8V514.5L465.8 514.6V513.8L466.8 513.7V514.7L467.8 514.6V513.9L468.8 513.8V514.4L469.8 514.4V513.7L470.8 514.0V514.5L471.8 514.7V514.0L472.8 513.7V514.6L473.8 514.7V513.9L474.8 513.8V514.4L475.8 514.7V513.9L476.8 514.1V514.6L477.8 514.5V513.8L478.8 513.6V514.4L479.8 514.4V513.7L480.8 514.1V513.4L481.8 513.2V514.1L482.8 513.9V513.2L483.8 513.2V513.7L484.8 513.7V513.2L485.8 513.3V513.9L486.8 514.3V513.4L487.8 513.8V514.3L488.8 514.4V513.8L489.8 514.6V511.0L490.8 513.7V514.6L491.8 514.4V513.9L492.8 513.9V514.7L493.8 514.4V513.8L494.8 513.6V514.3L495.8 514.4V513.8L496.8 513.9V514.5L497.8 514.5V514.1L498.8 513.9V514.5L499.8 514.4V514.1L500.8 513.7V514.4L501.8 514.3V514.0L502.8 513.7V514.6L503.8 514.6V513.9L504.8 513.7V514.5L505.8 514.6V514.0L506.8 514.0V514.6L507.8 514.7V514.0L508.8 514.0V514.7L509.8 514.8V512.7L510.8 514.2V514.9L511.8 514.9V514.0L512.8 514.1V514.7L513.8 514.6V513.9L514.8 514.1V514.8L515.8 514.9V514.3L516.8 514.1V514.9L517.8 514.9V514.1L518.8 514.2V514.8L519.8 514.7V514.2L520.8 514.1V514.7L521.8 514.8V514.3L522.8 514.4V514.9L523.8 514.9V514.4L524.8 514.3V515.1L525.8 514.8V514.2L526.8 514.3V514.7L527.8 514.9V514.5L528.8 514.3V514.9L529.8 514.9V514.4L530.8 514.2V515.0L531.8 514.7V514.2L532.8 514.2V514.8L533.8 514.9V514.3L534.8 514.4V514.9L535.8 515.0V514.3L536.8 514.1V514.8L537.8 514.6V514.1L538.8 514.3V514.9L539.8 514.8V514.0L540.8 514.2V514.8L541.8 514.9V514.2L542.8 514.0V514.7L543.8 514.8V514.0L544.8 513.8V514.7L545.8 514.7V513.8L546.8 514.0V514.7L547.8 514.7V513.9L548.8 513.8V514.6L549.8 514.6V513.9L550.8 513.8V514.6L551.8 514.7V514.0L552.8 514.0V514.7L553.8 514.5V513.8L554.8 513.8V514.4L555.8 514.4V513.7L556.8 513.8V514.3L557.8 514.4V513.5L558.8 513.9V514.4L559.8 514.4V513.7L560.8 513.5V514.3L561.8 514.3V513.9L562.8 513.8V514.4L563.8 514.2V513.7L564.8 513.7V514.3L565.8 514.3V513.7L566.8 514.3V509.4L567.8 513.6V514.8L568.8 514.5V513.9L569.8 513.7V514.5L570.8 514.3V513.8L571.8 513.8V514.7L572.8 514.7V513.7L573.8 514.0V514.8L574.8 514.4V513.8L575.8 513.8V514.8L576.8 514.5V513.9L577.8 513.8V514.5L578.8 514.5V514.1L579.8 514.0V514.9L580.8 514.9V514.1L581.8 514.3V514.9L582.8 514.7V514.2L583.8 514.3V514.9L584.8 515.0V514.1L585.8 514.1V515.0L586.8 514.7V514.3L587.8 514.4V514.8L588.8 515.0V514.3L589.8 514.6V515.0L590.8 515.0V514.6L591.8 514.3V514.9L592.8 514.9V514.2L593.8 514.4V515.0L594.8 515.1V514.5L595.8 514.4V514.9L596.8 514.9V514.4L597.8 514.4V515.2L598.8 515.0V514.5L599.8 514.5V515.2L600.8 515.2V514.3L601.8 514.3V515.2L602.8 515.1V514.6L603.8 514.4V515.1L604.8 515.3V514.4L605.8 514.6V515.1L606.8 515.0V514.4L607.8 514.4V513.7L608.8 513.3V514.0L609.8 513.8V513.1L610.8 513.8V514.7L611.8 514.2V515.3L612.8 515.2V514.7L613.8 515.0V514.4L614.8 514.3V515.1L615.8 514.9V514.6L616.8 514.4V515.1L617.8 515.1V514.6L618.8 514.6V515.2L619.8 515.4V514.8L620.8 514.6V515.2L621.8 515.2V514.7L622.8 514.5V515.2L623.8 515.2V514.4L624.8 514.5V515.2L625.8 515.3V514.4L626.8 514.5V515.2L627.8 515.6V514.5L628.8 514.7V515.4L629.8 515.3V514.7L630.8 514.7V515.3L631.8 515.4V514.6L632.8 514.8V515.3L633.8 515.1V514.5L634.8 514.5V515.4L635.8 515.6V514.6L636.8 514.5V515.3L637.8 515.2V514.5L638.8 514.8V515.3L639.8 515.4V514.7L640.8 514.7V515.6L641.8 515.5V514.6L642.8 514.8V515.9L643.8 515.6V514.8L644.8 515.1V515.5L645.8 515.6V515.1L646.8 515.0V515.5L647.8 515.4V514.8L648.8 514.9V515.7L649.8 515.7V515.1L650.8 514.9V515.6L651.8 515.5V515.1L652.8 515.0V515.8L653.8 515.7V514.9L654.8 515.1V515.5L655.8 515.6V515.0L656.8 514.9V515.5L657.8 515.4V515.0L658.8 514.9V515.3L659.8 515.5V515.1L660.8 514.8V515.7L661.8 515.5V514.7L662.8 514.8V515.5L663.8 515.7V515.0L664.8 514.9V515.6L665.8 515.7V515.1L666.8 514.9V515.4L667.8 515.1V515.8L668.8 515.7V514.9L669.8 515.0V515.6L670.8 515.9V514.4L671.8 514.9V515.8L672.8 515.9V515.2L673.8 515.1V515.7L674.8 515.8V515.1L675.8 515.2V515.7L676.8 515.7V515.0L677.8 515.1V515.8L678.8 515.5V515.2L679.8 515.2V516.0L680.8 515.8V515.1L681.8 515.8V512.7L682.8 515.2V515.8L683.8 515.7V515.1L684.8 515.3V515.9L685.8 515.9V515.3L686.8 515.3V515.9L687.8 515.7V515.2L688.8 515.3V516.0L689.8 515.8V515.2L690.8 515.1V516.0L691.8 516.3V515.2L692.8 515.2V516.0L693.8 515.9V515.4L694.8 515.5V516.2L695.8 516.3V515.1L696.8 515.3V515.9L697.8 515.9V515.6L698.8 515.7V516.3L699.8 516.1V515.3L700.8 515.3V516.1L701.8 516.0V515.6L702.8 515.5V516.0L703.8 516.2V515.2L704.8 515.3V516.0L705.8 515.8V515.2L706.8 515.3V516.0L707.8 516.1V515.5L708.8 515.5V516.3L709.8 516.2V515.5L710.8 515.4V516.1L711.8 516.0V515.6L712.8 515.4V516.2L713.8 516.0V515.5L714.8 516.1V511.7L715.8 515.5V516.2L716.8 516.5V515.7L717.8 515.3V516.3L718.8 516.2V515.6L719.8 515.7V516.2L720.8 516.2V515.6L721.8 515.6V516.2L722.8 516.2V515.6L723.8 515.6V516.2L724.8 516.1V515.7L725.8 515.6V516.1L726.8 516.1V515.5L727.8 515.5V516.2L728.8 516.2V515.6L729.8 515.7V516.4L730.8 516.5V515.8L731.8 515.5V516.3L732.8 516.3V515.8L733.8 515.8V516.5L734.8 516.2V515.9L735.8 515.7V516.5L736.8 516.3V515.5L737.8 515.8V516.1L738.8 516.5V515.6L739.8 515.7V516.4L740.8 516.5V515.9L741.8 515.8V516.3L742.8 516.4V515.8L743.8 515.7V516.3L744.8 516.3V515.7L745.8 515.5V516.5L746.8 516.3V515.7L747.8 515.9V516.4L748.8 516.5V515.6L749.8 515.8V516.6L750.8 516.2V515.9L751.8 515.7V516.6L752.8 516.5V515.7L753.8 515.9V516.6L754.8 516.5V516.2L755.8 516.5V515.8L756.8 515.8V516.4L757.8 516.5V516.0L758.8 516.0V516.5L759.8 516.5V516.0L760.8 516.0V516.5L761.8 516.7V515.7L762.8 515.9V516.4L763.8 516.3V515.9L764.8 516.0V516.5L765.8 516.4V515.9L766.8 515.7V516.3L767.8 516.0V516.7L768.8 516.5V515.8L769.8 516.0V516.6L770.8 516.6V515.8L771.8 516.0V516.5L772.8 516.5V515.9L773.8 515.8V516.3L774.8 516.1V516.0"/>
<path class="c" stroke="#0000ff" stroke-width="3.5" d="M125.8 516.4L125.8 516.4L126.8 516.4L127.8 516.4L128.8 516.3L129.8 516.2L130.8 516.1L131.8 515.9V515.7L132.8 515.7V515.5L133.8 515.5V515.3L134.8 515.3V515.0L135.8 515.0V514.7L136.8 514.7V514.4L137.8 514.3V514.0L138.8 514.0V513.6L139.8 513.6V513.2L140.8 513.2V512.8L141.8 512.7V512.3L142.8 512.3V511.7L143.8 511.6V510.7L144.8 510.6V509.4L145.8 509.3V507.9L146.8 507.7V506.1L147.8 505.9V504.2L148.8 504.0V501.9L149.8 501.7V499.4L150.8 499.2V496.6L151.8 496.4V493.4L152.8 493.0V489.1L153.8 488.6V483.0L154.8 482.4V475.8L155.8 475.1V468.1L156.8 467.3V460.3L157.8 459.4V449.9L158.8 448.8V438.3L159.8 437.3V426.8L160.8 425.8V414.2L161.8 412.8V392.5L162.8 390.0V365.0L163.8 362.5V337.5L164.8 335.0V310.0L165.8 307.5V282.4L166.8 279.9V258.3L167.8 255.8V231.7L168.8 229.3V205.2L169.8 202.8V178.7L170.8 176.3V152.2L171.8 149.8V131.3L172.8 129.5V111.8L173.8 110.0V92.3L174.8 90.5V72.8L175.8 71.1V53.4L176.8 51.6V35.7L177.8 38.1V26.8L178.8 40.0V58.9L179.8 60.8V79.7L180.8 81.6V98.6L181.8 100.5V119.4L182.8 121.2V140.1L183.8 141.6V156.5L184.8 158.0V172.9L185.8 174.3V187.7L186.8 189.2V204.1L187.8 205.6V220.5L188.8 221.9V236.8L189.8 238.3V253.2L190.8 254.7V268.0L191.8 269.5V283.1L192.8 284.1V294.5L193.8 295.5V305.9L194.8 306.9V317.3L195.8 318.3V327.6L196.8 328.7V339.0L197.8 340.0V350.4L198.8 351.4V361.8L199.8 362.8V373.2L200.8 374.2V383.6L201.8 384.6V395.0L202.8 396.0V404.2L203.8 404.8V410.9L204.8 411.5V416.9L205.8 417.5V422.1L206.8 422.6V427.5L207.8 428.0V433.0L208.8 433.5V438.7L209.8 439.2V443.9L210.8 444.5V449.6L211.8 450.1V455.0L212.8 455.5V460.0L213.8 460.4V464.2L214.8 464.6V467.4L215.8 467.7V470.6L216.8 470.9V473.6L217.8 473.9V476.3L218.8 476.6V478.9L219.8 479.1V481.0L220.8 481.2V483.2L221.8 483.4V485.3L222.8 485.5V487.3L223.8 487.5V489.2L224.8 489.3V490.8L225.8 491.0V492.6L226.8 492.8V494.4L227.8 494.5V496.0L228.8 496.2V497.6L229.8 497.7V498.9L230.8 499.1V500.3L231.8 500.4V501.5L232.8 501.6V502.6L233.8 502.6V503.4L234.8 503.5V504.1L235.8 504.2V504.9L236.8 504.9V505.5L237.8 505.6V506.2L238.8 506.3V506.8L239.8 506.8V507.4L240.8 507.4V507.9L241.8 508.0V508.5L242.8 508.5V509.0L243.8 509.0V509.4L244.8 509.4V509.8L245.8 509.9V510.3L246.8 510.3V510.6L247.8 510.7V511.0L248.8 511.0V511.3L249.8 511.3V511.5L250.8 511.6V511.8L251.8 511.8V512.0L252.8 512.0V512.2L253.8 512.2L254.8 512.4V512.5L255.8 512.5L256.8 512.7L257.8 512.9L258.8 513.0L259.8 513.1V513.3L260.8 513.2V513.4L261.8 513.4V513.6L262.8 513.6V513.5L263.8 513.6L264.8 513.6V514.0L265.8 514.1V513.8L266.8 513.9V514.1L267.8 514.1V513.9L268.8 514.0V514.3L269.8 514.4V514.1L270.8 514.2V514.5L271.8 514.6V514.2L272.8 514.3V514.6L273.8 514.6V514.2L274.8 514.3V514.6L275.8 514.8V514.3L276.8 514.3V514.9L277.8 515.1V514.4L278.8 514.6V514.9L279.8 515.0V514.2L280.8 514.5V515.0L281.8 515.0V514.5L282.8 514.5V515.1L283.8 515.1V514.5L284.8 514.3V514.9L285.8 515.1V514.5L286.8 514.7V515.4L287.8 515.5V514.6L288.8 514.5V515.2L289.8 515.4V514.6L290.8 514.6V515.2L291.8 515.3V514.8L292.8 514.8V515.4L293.8 515.5V514.9L294.8 514.9V515.4L295.8 515.4V514.7L296.8 515.0V515.5L297.8 515.5V514.8L298.8 514.8V515.4L299.8 515.5V514.9L300.8 514.8V515.5L301.8 515.6V515.0L302.8 514.6V515.3L303.8 515.3V515.0L304.8 514.8V515.4L305.8 515.3V514.6L306.8 514.6V515.4L307.8 515.3V514.7L308.8 514.4V515.4L309.8 515.0V514.7L310.8 514.4V515.1L311.8 515.0V514.4L312.8 514.5V515.0L313.8 514.8V514.1L314.8 514.1V514.9L315.8 515.3V514.0L316.8 514.3V514.8L317.8 514.8V514.2L318.8 514.1V514.6L319.8 513.9V515.6L320.8 514.4V514.1L321.8 514.0V514.8L322.8 514.4V513.8L323.8 513.8V514.3L324.8 514.5V514.0L325.8 513.9V514.4L326.8 514.6V513.7L327.8 513.9V514.3L328.8 514.5V513.7L329.8 513.6V514.3L330.8 514.4V513.6L331.8 513.5V514.2L332.8 514.0V513.5L333.8 513.5V514.0L334.8 513.7V513.2L335.8 513.4V513.8L336.8 513.8V513.3L337.8 513.2V513.9L338.8 513.7V513.2L339.8 513.2V513.7L340.8 513.6V512.9L341.8 512.7V513.8L342.8 513.6V513.1L343.8 513.0V513.6L344.8 514.4V512.8L345.8 512.6V513.4L346.8 513.5V512.8L347.8 512.6V513.1L348.8 513.1V512.6L349.8 512.8V513.4L350.8 513.0V512.4L351.8 512.5V513.1L352.8 512.9V512.3L353.8 512.2V513.0L354.8 512.8V512.1L355.8 512.2V512.7L356.8 512.7V512.3L357.8 512.4V512.9L358.8 512.7V512.2L359.8 512.5V511.8L360.8 511.9V512.4L361.8 512.3V511.8L362.8 511.8V512.2L363.8 512.3V511.8L364.8 511.6V512.1L365.8 512.3V511.7L366.8 511.4V512.1L367.8 512.3V511.3L368.8 511.5V513.2L369.8 512.0V511.3L370.8 511.5V511.7L371.8 511.7V511.1L372.8 511.3V511.7L373.8 511.8V511.2L374.8 510.9V511.5L375.8 511.6V510.8L376.8 510.8V511.4L377.8 511.4V510.8L378.8 510.8V511.4L379.8 511.5V510.8L380.8 510.8V511.3L381.8 511.2V510.5L382.8 510.5V511.5L383.8 511.3V510.6L384.8 510.4V511.0L385.8 510.8V510.2L386.8 510.3V511.2L387.8 511.0V510.3L388.8 510.2V511.1L389.8 510.7V510.3L390.8 510.2V510.9L391.8 511.0V510.0L392.8 510.1V511.7L393.8 510.5V510.2L394.8 510.2V510.7L395.8 510.5V510.0L396.8 510.1V510.8L397.8 510.4V509.8L398.8 510.0V510.4L399.8 510.5V509.9L400.8 509.6V510.3L401.8 510.3V509.8L402.8 509.7V510.4L403.8 510.2V509.6L404.8 509.8V510.1L405.8 510.2V509.4L406.8 509.4V510.1L407.8 510.1V509.3L408.8 509.5V510.0L409.8 509.9V509.5L410.8 509.4V510.0L411.8 510.0V509.2L412.8 509.1V509.7L413.8 510.0V509.2L414.8 509.4V509.9L415.8 509.5V510.5L416.8 509.7V509.0L417.8 509.3V509.7L418.8 509.6V509.2L419.8 509.0V509.5L420.8 509.6V508.9L421.8 509.0V509.4L422.8 509.7V508.9L423.8 509.0V509.5L424.8 509.3V508.6L425.8 508.9V509.4L426.8 509.2V508.8L427.8 508.8V509.4L428.8 509.1V508.7L429.8 508.6V509.3L430.8 509.2V508.6L431.8 508.9V509.4L432.8 509.1V508.6L433.8 508.4V509.4L434.8 509.0V508.4L435.8 508.5V509.1L436.8 509.0V508.4L437.8 508.5V509.2L438.8 509.1V508.5L439.8 508.5V510.3L440.8 509.4V508.6L441.8 508.5V509.0L442.8 509.1V508.4L443.8 508.3V509.0L444.8 508.9V508.4L445.8 508.4V508.8L446.8 509.0V508.3L447.8 508.2V508.9L448.8 509.0V508.5L449.8 508.4V509.0L450.8 509.0V508.4L451.8 508.2V508.8L452.8 508.9V508.1L453.8 508.4V509.0L454.8 509.1V508.3L455.8 508.3V508.9L456.8 509.1V508.2L457.8 508.4V509.0L458.8 509.1V508.5L459.8 508.2V508.9L460.8 509.0V508.5L461.8 508.2V508.9L462.8 509.5V508.1L463.8 508.3V508.8L464.8 509.0V508.2L465.8 508.4V509.0L466.8 509.0V508.3L467.8 508.3V509.1L468.8 508.9V508.5L469.8 508.5V509.0L470.8 509.1V508.4L471.8 508.4V509.0L472.8 509.0V508.4L473.8 508.5V508.9L474.8 509.0V508.6L475.8 508.3V509.1L476.8 509.2V508.4L477.8 508.6V509.1L478.8 509.1V508.4L479.8 508.6V508.9L480.8 509.2V508.4L481.8 508.6V509.3L482.8 509.2V508.7L483.8 508.4V509.3L484.8 509.2V508.8L485.8 508.6V509.4L486.8 508.5V511.1L487.8 509.3V509.0L488.8 508.8V509.4L489.8 509.5V508.8L490.8 508.7V509.3L491.8 509.4V508.8L492.8 508.6V509.4L493.8 509.7V508.9L494.8 509.0V509.7L495.8 509.6V509.1L496.8 508.9V509.6L497.8 509.5V509.0L498.8 509.1V509.6L499.8 509.6V509.1L500.8 509.2V509.6L501.8 509.8V509.1L502.8 509.1V509.8L503.8 509.8V509.1L504.8 509.3V510.0L505.8 510.2V509.5L506.8 509.4V510.0L507.8 510.2V509.5L508.8 509.4V510.2L509.8 509.7V510.8L510.8 510.1V509.4L511.8 509.7V510.1L512.8 509.8V510.5L513.8 510.3V509.6L514.8 509.8V510.3L515.8 510.2V509.9L516.8 509.9V510.6L517.8 510.3V509.8L518.8 510.1V510.4L519.8 510.6V509.8L520.8 510.1V510.6L521.8 511.2V510.0L522.8 510.1V510.5L523.8 510.7V510.1L524.8 510.2V511.0L525.8 510.8V510.2L526.8 510.1V511.0L527.8 510.8V510.3L528.8 510.4V510.9L529.8 511.1V510.2L530.8 510.3V510.9L531.8 511.3V510.4L532.8 510.4V511.0L533.8 511.0V510.5L534.8 510.5V511.1L535.8 511.2V510.5L536.8 510.6V511.1L537.8 511.2V510.7L538.8 510.8V511.3L539.8 511.4V510.8L540.8 510.6V511.2L541.8 511.2V510.6L542.8 510.6V511.3L543.8 511.2V510.8L544.8 510.6V511.2L545.8 511.3V510.9L546.8 510.7V511.4L547.8 511.2V510.8L548.8 510.7V511.3L549.8 511.5V510.8L550.8 510.8V511.5L551.8 511.4V510.9L552.8 510.8V511.4L553.8 510.9V512.6L554.8 511.4V510.9L555.8 511.0V511.6L556.8 511.5V511.0L557.8 510.9V511.5L558.8 511.5V511.1L559.8 511.0V511.3L560.8 511.6V511.0L561.8 510.8V511.7L562.8 511.8V511.2L563.8 510.8V511.8L564.8 511.8V510.9L565.8 511.1V511.6L566.8 512.0V511.2L567.8 511.4V511.7L568.8 511.8V511.2L569.8 511.1V512.0L570.8 511.8V511.5L571.8 511.5V511.9L572.8 512.0V511.4L573.8 511.4V512.2L574.8 512.0V511.4L575.8 511.4V512.2L576.8 511.6V513.2L577.8 512.2V511.5L578.8 511.7V512.2L579.8 512.1V511.6L580.8 511.5V512.2L581.8 512.2V511.6L582.8 511.4V512.2L583.8 512.2V511.6L584.8 511.6V512.2L585.8 512.6V511.6L586.8 511.7V512.3L587.8 512.3V511.6L588.8 511.7V512.5L589.8 512.3V511.7L590.8 511.8V512.3L591.8 512.3V511.8L592.8 511.7V512.2L593.8 512.3V511.8L594.8 511.8V512.2L595.8 512.2V511.7L596.8 511.9V512.5L597.8 512.5V511.9L598.8 511.9V513.1L599.8 512.5V511.7L600.8 512.0V512.5L601.8 512.7V511.7L602.8 511.9V512.4L603.8 512.3V511.7L604.8 511.9V512.6L605.8 512.4V511.9L606.8 512.0V512.4L607.8 512.7V512.1L608.8 512.1V512.9L609.8 512.7V512.2L610.8 512.1V512.8L611.8 512.6V511.9L612.8 512.3V512.7L613.8 512.8V512.2L614.8 512.2V512.7L615.8 512.8V512.3L616.8 512.2V512.9L617.8 512.7V512.1L618.8 512.3V512.7L619.8 513.0V512.3L620.8 512.1V513.9L621.8 512.8V512.2L622.8 512.1V512.9L623.8 512.9V512.5L624.8 512.5V513.3L625.8 513.1V512.5L626.8 512.6V513.2L627.8 513.0V512.4L628.8 512.5V513.1L629.8 513.1V512.4L630.8 512.6V513.3L631.8 513.2V512.6L632.8 512.5V513.3L633.8 513.1V512.4L634.8 512.8V513.4L635.8 513.4V512.7L636.8 512.8V513.8L637.8 513.4V512.7L638.8 512.9V513.5L639.8 513.4V512.8L640.8 512.7V513.4L641.8 512.9V514.1L642.8 513.5V513.0L643.8 512.7V513.4L644.8 513.4V512.9L645.8 513.0V513.6L646.8 513.5V513.1L647.8 513.1V513.5L648.8 513.2V513.8L649.8 513.8V513.2L650.8 513.1V513.7L651.8 513.8V513.1L652.8 513.3V513.7L653.8 513.9V513.3L654.8 513.1V513.7L655.8 513.8V513.1L656.8 513.3V513.8L657.8 514.2V513.1L658.8 513.4V513.8L659.8 513.7V513.1L660.8 513.2V513.8L661.8 513.8V513.3L662.8 513.3V514.4L663.8 513.9V513.4L664.8 513.3V513.8L665.8 513.9V513.4L666.8 513.3V514.1L667.8 513.8V513.5L668.8 513.3V513.9L669.8 514.0V513.5L670.8 513.4V514.1L671.8 514.0V513.4L672.8 513.3V513.9L673.8 514.0V513.3L674.8 513.3V513.9L675.8 514.0V513.4L676.8 513.5V514.1L677.8 514.2V513.6L678.8 513.6V514.1L679.8 514.2V513.3L680.8 513.5V514.4L681.8 514.0V513.5L682.8 513.5V514.2L683.8 514.1V513.4L684.8 513.7V515.2L685.8 514.2V513.7L686.8 513.6V514.2L687.8 514.2V513.6L688.8 513.5V514.3L689.8 514.3V513.6L690.8 513.9V514.3L691.8 514.2V513.8L692.8 513.7V514.1L693.8 513.9V514.4L694.8 514.3V514.0L695.8 513.7V514.3L696.8 514.4V513.7L697.8 513.9V514.6L698.8 514.6V514.1L699.8 513.9V514.8L700.8 514.5V513.9L701.8 514.0V514.7L702.8 514.6V514.0L703.8 513.7V514.6L704.8 515.0V513.9L705.8 514.0V514.6L706.8 514.4V513.9L707.8 513.8V514.5L708.8 514.5V513.9L709.8 514.0V514.5L710.8 514.5V514.0L711.8 514.0V514.6L712.8 514.5V514.1L713.8 514.0V514.6L714.8 514.7V514.1L715.8 514.2V514.9L716.8 514.8V514.2L717.8 514.2V514.9L718.8 514.9V514.2L719.8 514.2V514.6L720.8 514.7V514.4L721.8 514.3V514.9L722.8 515.0V514.4L723.8 514.2V515.0L724.8 514.8V514.0L725.8 514.3V515.5L726.8 514.9V514.3L727.8 514.5V514.9L728.8 515.2V514.5L729.8 514.4V514.9L730.8 515.1V514.6L731.8 514.4V514.8L732.8 515.1V514.6L733.8 514.4V515.3L734.8 515.3V514.4L735.8 514.6V515.0L736.8 515.3V514.6L737.8 514.6V514.9L738.8 515.0V514.5L739.8 514.6V515.1L740.8 515.3V514.6L741.8 514.5V515.2L742.8 515.2V514.6L743.8 514.5V515.1L744.8 514.9V515.5L745.8 515.8V514.7L746.8 514.7V515.0L747.8 515.2V514.6L748.8 514.6V515.4L749.8 515.3V514.5L750.8 514.7V515.5L751.8 515.4V514.7L752.8 514.7V515.4L753.8 515.2V514.7L754.8 514.7V515.3L755.8 515.3V514.8L756.8 514.7V515.3L757.8 515.4V514.8L758.8 514.8V515.2L759.8 515.2V514.8L760.8 514.7V515.3L761.8 515.1V514.6L762.8 514.8V515.3L763.8 515.4V514.7L764.8 515.0V515.4L765.8 516.1V514.6L766.8 514.8V515.5L767.8 515.5V514.8L768.8 514.7V515.5L769.8 515.7V514.9L770.8 514.8V515.6L771.8 515.6V514.9L772.8 515.0V515.4L773.8 515.5V514.8L774.8 515.2V515.5"/>
<path class="c" stroke="#008080" stroke-width="3.5" d="M125.8 514.5L125.8 514.5L126.8 514.5L127.8 514.4L128.8 514.3L129.8 514.2L130.8 514.0V513.9L131.8 513.9V513.6L132.8 513.6V513.4L133.8 513.4V513.1L134.8 513.1V512.8L135.8 512.8V512.4L136.8 512.4V512.1L137.8 512.0V511.7L138.8 511.7V511.3L139.8 511.2V510.8L140.8 510.8V510.4L141.8 510.3V509.8L142.8 509.8V509.3L143.8 509.2V508.4L144.8 508.4V507.4L145.8 507.3V506.2L146.8 506.1V504.8L147.8 504.7V503.3L148.8 503.2V501.5L149.8 501.4V499.5L150.8 499.3V497.3L151.8 497.1V494.8L152.8 494.6V492.3L153.8 492.0V488.1L154.8 487.6V482.1L155.8 481.5V475.0L156.8 474.3V468.0L157.8 467.3V459.9L158.8 459.1V450.4L159.8 449.4V439.5L160.8 438.4V427.1L161.8 425.8V413.5L162.8 412.0V396.7L163.8 395.0V377.8L164.8 376.1V358.9L165.8 357.2V340.0L166.8 338.3V322.9L167.8 321.2V304.0L168.8 302.3V285.1L169.8 283.4V262.5L170.8 260.3V238.4L171.8 236.3V216.6L172.8 214.4V192.6L173.8 190.4V168.5L174.8 166.3V144.5L175.8 142.3V126.0L176.8 124.4V110.2L177.8 108.6V92.9L178.8 91.3V75.6L179.8 74.0V58.3L180.8 56.7V42.5L181.8 41.0V26.8L182.8 28.6V37.6L183.8 38.5V47.5L184.8 48.4V57.4L185.8 58.3V66.4L186.8 67.3V76.3L187.8 77.2V86.2L188.8 87.1V96.1L189.8 97.0V106.0L190.8 106.8V114.9L191.8 115.8V124.8L192.8 125.7V134.7L193.8 135.6V149.1L194.8 150.9V168.8L195.8 170.6V186.7L196.8 188.5V206.5L197.8 208.2V226.2L198.8 228.0V245.9L199.8 247.7V265.6L200.8 267.4V281.7L201.8 282.6V291.4L202.8 292.3V301.2L203.8 302.0V310.9L204.8 311.8V320.6L205.8 321.5V329.4L206.8 330.3V339.2L207.8 340.0V348.9L208.8 349.8V358.6L209.8 359.5V367.4L210.8 368.3V377.2L211.8 378.1V386.9L212.8 387.8V396.6L213.8 397.5V404.0L214.8 404.5V408.9L215.8 409.4V413.9L216.8 414.3V418.5L217.8 418.9V422.8L218.8 423.2V427.0L219.8 427.4V430.8L220.8 431.1V434.8L221.8 435.1V438.6L222.8 438.9V442.2L223.8 442.6V445.7L224.8 446.0V448.7L225.8 449.0V451.8L226.8 452.1V454.7L227.8 455.0V457.6L228.8 457.9V460.4L229.8 460.6V462.8L230.8 463.0V465.3L231.8 465.5V467.7L232.8 467.9V470.0L233.8 470.2V472.0L234.8 472.2V474.1L235.8 474.3V476.1L236.8 476.3V478.1L237.8 478.3V480.0L238.8 480.2V481.7L239.8 481.9V483.4L240.8 483.6V485.0L241.8 485.2V486.5L242.8 486.6V487.8L243.8 487.9V488.8L244.8 488.9V489.9L245.8 490.0V491.0L246.8 491.0V492.0L247.8 492.1V492.9L248.8 493.0V493.8L249.8 493.9V494.7L250.8 494.8V495.5L251.8 495.6V496.3L252.8 496.4V497.1L253.8 497.2V497.8L254.8 497.8V498.5L255.8 498.5V499.1L256.8 499.2V499.8L257.8 499.8V500.3L258.8 500.4V500.9L259.8 500.9V501.4L260.8 501.4V502.0L261.8 501.9V502.4L262.8 502.3V502.8L263.8 502.8V503.2L264.8 503.2V503.7L265.8 503.7V504.1L266.8 504.1V504.5L267.8 504.3V505.0L268.8 504.8V505.3L269.8 505.1V505.7L270.8 505.5V506.0L271.8 505.8V506.3L272.8 506.2V506.6L273.8 506.5V507.0L274.8 506.8V507.2L275.8 507.4V506.8L276.8 507.1V507.5L277.8 507.8V507.2L278.8 507.5V508.1L279.8 508.2V507.7L280.8 507.7V508.8L281.8 508.8V507.9L282.8 508.2V508.9L283.8 509.1V508.4L284.8 508.7V509.2L285.8 508.9V509.6L286.8 509.6V508.8L287.8 509.0V509.9L288.8 509.8V509.3L289.8 509.4V510.1L290.8 510.0V509.4L291.8 509.7V510.4L292.8 510.4V509.8L293.8 510.1V510.7L294.8 510.7V510.1L295.8 509.9V510.7L296.8 510.7V510.2L297.8 510.2V510.9L298.8 511.1V510.4L299.8 510.2V511.0L300.8 511.0V510.4L301.8 510.4V510.9L302.8 511.0V510.4L303.8 510.3V510.9L304.8 511.0V510.3L305.8 510.4V510.8L306.8 510.8V510.3L307.8 510.2V510.9L308.8 511.0V510.2L309.8 510.3V511.1L310.8 510.9V510.4L311.8 510.3V511.0L312.8 510.7V510.2L313.8 510.2V510.7L314.8 510.8V510.2L315.8 510.4V511.0L316.8 510.9V510.2L317.8 510.2V510.8L318.8 511.1V510.2L319.8 510.4V510.7L320.8 510.8V510.0L321.8 510.0V510.6L322.8 510.8V510.1L323.8 510.2V510.5L324.8 510.6V510.1L325.8 510.1V510.6L326.8 510.5V510.0L327.8 510.1V510.6L328.8 510.7V510.1L329.8 510.0V510.6L330.8 510.7V510.1L331.8 510.2V510.7L332.8 510.8V510.1L333.8 510.2V510.5L334.8 510.5V510.1L335.8 509.8V510.5L336.8 510.5V509.8L337.8 509.8V510.4L338.8 510.2V509.6L339.8 509.8V510.3L340.8 510.2V509.7L341.8 509.6V510.4L342.8 510.3V509.7L343.8 509.4V510.2L344.8 509.6V510.9L345.8 510.2V509.6L346.8 509.4V510.3L347.8 510.1V509.2L348.8 509.5V510.1L349.8 510.0V509.5L350.8 509.2V510.2L351.8 509.9V509.3L352.8 509.3V510.0L353.8 509.8V509.3L354.8 509.2V510.0L355.8 509.7V509.0L356.8 508.8V509.6L357.8 509.6V509.2L358.8 509.5V508.9L359.8 508.8V509.4L360.8 509.6V508.8L361.8 508.9V509.4L362.8 509.2V508.7L363.8 508.7V509.5L364.8 509.2V508.9L365.8 508.9V509.3L366.8 509.4V508.8L367.8 508.7V509.3L368.8 509.5V508.6L369.8 508.5V509.3L370.8 509.2V508.5L371.8 508.5V509.0L372.8 508.5V509.6L373.8 509.0V508.3L374.8 508.4V508.9L375.8 509.0V508.3L376.8 508.1V508.8L377.8 508.7V508.3L378.8 508.2V508.8L379.8 508.8V508.2L380.8 508.1V508.9L381.8 508.6V508.1L382.8 507.9V508.6L383.8 508.6V507.8L384.8 507.7V508.5L385.8 508.7V507.8L386.8 507.8V508.5L387.8 508.2V507.6L388.8 507.6V508.0L389.8 508.2V507.4L390.8 507.4V507.9L391.8 508.2V507.4L392.8 507.2V507.9L393.8 507.8V507.3L394.8 507.3V508.0L395.8 508.0V507.4L396.8 507.7V507.0L397.8 507.1V507.8L398.8 507.5V507.0L399.8 507.1V507.5L400.8 507.5V507.0L401.8 506.9V507.5L402.8 507.8V506.8L403.8 506.8V507.6L404.8 507.4V506.9L405.8 506.8V507.6L406.8 507.4V506.6L407.8 506.4V507.2L408.8 507.3V506.4L409.8 506.7V507.2L410.8 507.3V506.2L411.8 506.3V507.2L412.8 507.5V506.4L413.8 506.3V507.1L414.8 506.9V506.2L415.8 506.0V507.3L416.8 506.8V506.3L417.8 506.4V506.9L418.8 506.7V505.9L419.8 506.1V506.8L420.8 506.8V505.7L421.8 505.7V506.6L422.8 506.5V505.9L423.8 505.6V506.3L424.8 506.3V505.6L425.8 505.6V506.5L426.8 506.5V505.7L427.8 505.4V506.2L428.8 506.1V505.4L429.8 505.4V506.1L430.8 506.0V505.3L431.8 505.3V506.0L432.8 505.8V505.2L433.8 505.0V505.6L434.8 505.7V505.1L435.8 504.8V506.0L436.8 505.7V505.0L437.8 504.8V505.8L438.8 505.7V504.9L439.8 504.9V505.5L440.8 505.6V504.7L441.8 504.8V505.4L442.8 505.1V504.5L443.8 504.4V505.3L444.8 505.0V504.5L445.8 504.4V505.2L446.8 504.9V504.2L447.8 504.0V504.8L448.8 504.9V504.2L449.8 504.2V504.7L450.8 504.7V504.0L451.8 503.9V504.6L452.8 504.4V503.8L453.8 503.9V504.5L454.8 504.7V503.8L455.8 503.9V504.4L456.8 504.3V503.6L457.8 503.7V504.7L458.8 504.6V503.6L459.8 503.7V504.2L460.8 504.4V503.4L461.8 503.2V504.3L462.8 504.5V503.6L463.8 503.4V504.1L464.8 504.4V503.1L465.8 503.3V504.1L466.8 504.1V503.3L467.8 503.4V504.0L468.8 504.2V503.3L469.8 503.2V503.9L470.8 503.8V502.9L471.8 503.1V503.9L472.8 503.9V503.0L473.8 502.9V503.8L474.8 503.8V502.9L475.8 502.6V503.7L476.8 503.5V502.9L477.8 502.8V503.4L478.8 503.8V502.9L479.8 503.0V503.5L480.8 503.5V502.7L481.8 502.9V503.8L482.8 503.4V502.7L483.8 502.7V503.3L484.8 503.3V502.6L485.8 502.7V503.5L486.8 503.3V502.6L487.8 502.6V503.3L488.8 503.3V502.6L489.8 502.6V503.1L490.8 503.3V502.7L491.8 502.5V503.0L492.8 503.0V502.4L493.8 502.6V502.9L494.8 503.0V502.3L495.8 502.5V503.1L496.8 503.1V502.3L497.8 502.6V503.3L498.8 502.9V502.6L499.8 502.6V503.0L500.8 503.1V502.5L501.8 502.4V503.3L502.8 503.2V502.6L503.8 502.4V503.4L504.8 503.3V502.2L505.8 502.4V503.1L506.8 503.1V502.3L507.8 502.3V502.9L508.8 502.9V502.4L509.8 502.2V503.2L510.8 503.0V502.4L511.8 502.5V503.2L512.8 503.4V502.3L513.8 502.8V503.5L514.8 503.3V502.6L515.8 502.5V503.1L516.8 503.1V502.4L517.8 502.4V503.1L518.8 503.3V502.5L519.8 502.6V503.5L520.8 503.2V502.5L521.8 502.8V503.4L522.8 503.3V502.5L523.8 502.6V503.4L524.8 503.5V502.3L525.8 502.7V503.9L526.8 503.3V502.4L527.8 502.5V503.3L528.8 503.5V502.3L529.8 502.6V502.9L530.8 502.6V503.3L531.8 504.1V502.3L532.8 502.8V503.3L533.8 503.5V502.6L534.8 502.7V503.5L535.8 503.4V502.7L536.8 502.4V503.5L537.8 503.6V502.8L538.8 502.7V503.4L539.8 503.3V502.6L540.8 502.8V503.7L541.8 503.5V502.8L542.8 502.7V503.5L543.8 503.7V502.5L544.8 502.5V503.4L545.8 503.6V502.9L546.8 502.8V503.6L547.8 503.5V502.7L548.8 502.9V503.7L549.8 503.6V502.8L550.8 502.8V503.6L551.8 503.4V502.7L552.8 502.9V503.6L553.8 502.8V504.4L554.8 503.5V502.8L555.8 502.9V503.7L556.8 503.5V502.7L557.8 502.5V503.3L558.8 503.3V502.5L559.8 502.8V503.6L560.8 503.7V502.7L561.8 502.4V503.4L562.8 503.5V502.5L563.8 502.6V503.5L564.8 503.6V502.8L565.8 503.0V503.7L566.8 503.6V502.6L567.8 502.8V503.6L568.8 503.8V502.7L569.8 503.0V503.7L570.8 503.6V502.9L571.8 502.9V503.7L572.8 503.4V502.9L573.8 502.8V503.6L574.8 503.5V502.7L575.8 502.7V503.8L576.8 503.5V502.9L577.8 502.6V503.8L578.8 503.7V503.0L579.8 502.7V503.5L580.8 503.4V502.7L581.8 502.8V503.8L582.8 504.1V502.8L583.8 503.0V503.5L584.8 503.7V502.8L585.8 502.8V503.5L586.8 503.6V502.9L587.8 502.7V503.7L588.8 503.8V503.0L589.8 502.9V504.2L590.8 503.6V502.9L591.8 502.7V503.9L592.8 504.1V502.9L593.8 503.3V503.6L594.8 503.9V503.0L595.8 503.3V504.0L596.8 504.0V503.0L597.8 503.1V504.0L598.8 503.9V503.4L599.8 503.4V504.0L600.8 504.3V503.2L601.8 503.5V504.5L602.8 504.2V503.6L603.8 503.6V504.3L604.8 504.5V503.6L605.8 503.8V504.5L606.8 504.6V503.8L607.8 503.6V504.3L608.8 504.5V503.5L609.8 503.8V504.6L610.8 504.7V503.8L611.8 503.7V504.5L612.8 504.6V504.1L613.8 504.1V504.7L614.8 504.7V503.9L615.8 504.4V504.9L616.8 504.9V504.3L617.8 504.4V505.0L618.8 505.0V504.5L619.8 504.3V504.8L620.8 505.0V504.1L621.8 504.5V505.1L622.8 505.3V504.3L623.8 504.6V505.0L624.8 505.3V504.7L625.8 504.6V505.3L626.8 505.7V504.8L627.8 504.9V505.6L628.8 505.6V504.9L629.8 505.0V505.7L630.8 505.7V505.1L631.8 505.0V505.9L632.8 506.0V505.4L633.8 505.7V505.0L634.8 505.0V505.7L635.8 506.0V505.0L636.8 505.1V506.0L637.8 506.1V505.3L638.8 505.3V506.3L639.8 506.3V505.3L640.8 505.5V506.3L641.8 506.8V505.3L642.8 505.5V506.2L643.8 506.4V505.8L644.8 505.7V506.3L645.8 506.4V505.7L646.8 505.9V506.4L647.8 506.6V505.8L648.8 505.7V506.8L649.8 506.8V506.1L650.8 506.2V506.9L651.8 506.7V506.0L652.8 505.9V506.9L653.8 506.7V506.0L654.8 506.2V506.9L655.8 506.7V506.0L656.8 506.4V506.8L657.8 506.9V506.3L658.8 506.1V507.1L659.8 506.9V506.3L660.8 506.1V506.9L661.8 507.3V506.5L662.8 506.6V507.4L663.8 507.2V506.6L664.8 506.6V507.1L665.8 507.6V506.4L666.8 506.7V507.3L667.8 507.4V506.4L668.8 506.5V507.2L669.8 507.4V506.5L670.8 506.5V507.3L671.8 507.2V506.5L672.8 506.6V507.2L673.8 507.6V506.6L674.8 506.6V507.2L675.8 507.5V506.8L676.8 506.8V507.6L677.8 507.4V506.9L678.8 506.9V507.6L679.8 507.5V507.0L680.8 506.9V507.4L681.8 507.6V506.9L682.8 507.6V503.3L683.8 507.2V507.7L684.8 507.3V508.5L685.8 507.5V507.1L686.8 507.2V507.9L687.8 507.7V507.1L688.8 507.3V508.1L689.8 508.1V507.2L690.8 507.4V508.1L691.8 508.2V507.5L692.8 507.4V508.1L693.8 508.1V507.5L694.8 507.4V508.4L695.8 508.1V507.6L696.8 507.7V508.3L697.8 508.0V507.6L698.8 507.7V508.4L699.8 508.3V507.8L700.8 507.9V508.4L701.8 508.4V507.7L702.8 507.7V508.5L703.8 508.6V507.7L704.8 507.8V508.5L705.8 508.4V507.8L706.8 507.8V508.7L707.8 508.8V508.0L708.8 508.1V508.6L709.8 508.7V508.0L710.8 508.1V508.9L711.8 508.8V508.1L712.8 508.3V508.9L713.8 508.8V508.3L714.8 508.1V509.0L715.8 509.2V508.4L716.8 508.2V509.1L717.8 509.3V508.3L718.8 508.5V509.4L719.8 508.9V508.5L720.8 508.7V509.2L721.8 509.3V508.9L722.8 508.8V509.4L723.8 509.7V508.8L724.8 508.8V509.5L725.8 509.9V508.9L726.8 509.0V509.7L727.8 509.7V509.0L728.8 509.1V509.5L729.8 509.6V508.9L730.8 509.0V509.9L731.8 509.8V509.1L732.8 509.2V509.9L733.8 509.8V509.3L734.8 509.3V509.9L735.8 509.9V509.4L736.8 509.5V510.2L737.8 510.0V509.3L738.8 509.3V510.1L739.8 510.1V509.7L740.8 509.4V510.2L741.8 510.0V509.7L742.8 509.6V510.2L743.8 510.4V509.5L744.8 509.4V510.4L745.8 511.1V509.7L746.8 509.6V510.3L747.8 510.2V509.8L748.8 509.7V510.3L749.8 509.9V510.8L750.8 510.5V509.9L751.8 509.9V510.7L752.8 510.6V510.0L753.8 510.0V510.8L754.8 510.6V510.3L755.8 509.9V510.8L756.8 510.5V510.2L757.8 510.2V510.9L758.8 511.0V510.2L759.8 510.1V510.6L760.8 510.9V510.1L761.8 510.3V510.9L762.8 510.9V510.2L763.8 510.0V510.8L764.8 510.9V510.4L765.8 510.3V511.5L766.8 511.0V510.1L767.8 510.4V511.1L768.8 510.9V510.4L769.8 510.2V511.1L770.8 511.0V510.4L771.8 510.1V510.9L772.8 510.8V510.1L773.8 510.2V511.1L774.8 510.3"/>
<path class="c" stroke="#ff00ff" stroke-width="3.5" d="M125.8 515.4L125.8 515.4L126.8 515.4L127.8 515.4L128.8 515.3L129.8 515.2L130.8 515.1V514.9L131.8 514.9V514.7L132.8 514.7V514.5L133.8 514.5V514.3L134.8 514.2V514.0L135.8 514.0V513.7L136.8 513.6V513.3L137.8 513.3V513.0L138.8 513.0V512.6L139.8 512.6V512.2L140.8 512.2V511.8L141.8 511.8V511.3L142.8 511.3V510.8L143.8 510.7V509.9L144.8 509.8V508.9L145.8 508.8V507.6L146.8 507.5V506.1L147.8 506.0V504.6L148.8 504.4V502.7L149.8 502.5V500.6L150.8 500.4V498.3L151.8 498.1V495.8L152.8 495.6V493.4L153.8 493.1V489.9L154.8 489.5V484.8L155.8 484.3V478.5L156.8 477.9V472.0L157.8 471.3V464.5L158.8 463.8V455.8L159.8 454.9V445.6L160.8 444.6V434.1L161.8 433.0V421.8L162.8 420.5V406.1L163.8 404.6V388.5L164.8 386.8V370.1L165.8 368.4V351.7L166.8 350.1V335.0L167.8 333.4V316.7L168.8 315.0V298.3L169.8 296.6V279.9L170.8 277.8V255.9L171.8 253.7V234.1L172.8 231.9V210.0L173.8 207.9V186.0L174.8 183.8V162.0L175.8 159.8V138.4L176.8 136.6V120.7L177.8 118.9V101.2L178.8 99.4V81.7L179.8 79.9V62.2L180.8 60.4V44.5L181.8 42.7V26.8L182.8 28.8V38.9L183.8 40.0V50.1L184.8 51.1V61.2L185.8 62.2V71.3L186.8 72.3V82.5L187.8 83.5V93.6L188.8 94.6V104.7L189.8 105.7V115.8L190.8 116.9V126.0L191.8 127.0V137.1L192.8 138.1V155.7L193.8 157.6V177.0L194.8 179.0V198.4L195.8 200.3V217.8L196.8 219.7V239.2L197.8 241.1V260.5L198.8 262.5V280.8L199.8 281.7V290.7L200.8 291.6V299.7L201.8 300.6V309.6L202.8 310.4V319.4L203.8 320.3V329.3L204.8 330.2V339.2L205.8 340.0V348.1L206.8 349.0V358.0L207.8 358.9V367.9L208.8 368.8V377.7L209.8 378.6V386.7L210.8 387.6V396.6L211.8 397.5V404.4L212.8 405.0V410.7L213.8 411.3V416.5L214.8 417.0V421.4L215.8 421.9V426.4L216.8 426.9V431.1L217.8 431.5V435.5L218.8 435.9V439.7L219.8 440.1V443.3L220.8 443.6V447.0L221.8 447.3V450.5L222.8 450.8V453.8L223.8 454.1V456.9L224.8 457.2V459.6L225.8 459.8V462.4L226.8 462.7V465.1L227.8 465.4V467.7L228.8 468.0V470.2L229.8 470.4V472.3L230.8 472.5V474.5L231.8 474.7V476.6L232.8 476.8V478.6L233.8 478.8V480.3L234.8 480.5V482.2L235.8 482.4V484.0L236.8 484.2V485.7L237.8 485.9V487.3L238.8 487.5V488.7L239.8 488.8V490.1L240.8 490.2V491.3L241.8 491.4V492.4L242.8 492.5V493.4L243.8 493.5V494.3L244.8 494.4V495.3L245.8 495.3V496.2L246.8 496.2V497.0L247.8 497.1V497.9L248.8 498.0V498.6L249.8 498.7V499.4L250.8 499.4V500.1L251.8 500.2V500.8L252.8 500.9V501.4L253.8 501.5V502.0L254.8 502.1V502.6L255.8 502.6V503.1L256.8 503.2V503.7L257.8 503.7V504.2L258.8 504.2V504.6L259.8 504.6V505.0L260.8 505.1V505.5L261.8 505.5V506.0L262.8 505.9V506.3L263.8 506.4V506.8L264.8 506.7V507.1L265.8 507.2V507.5L266.8 507.4V507.9L267.8 507.8V508.3L268.8 508.1V508.6L269.8 508.3V509.1L270.8 509.2V508.8L271.8 509.0V509.7L272.8 509.9V509.3L273.8 509.4V509.9L274.8 509.8V510.1L275.8 510.4V509.8L276.8 510.0V510.7L277.8 510.9V510.1L278.8 510.4V510.8L279.8 510.5V511.3L280.8 511.3V510.7L281.8 510.6V511.4L282.8 511.7V510.8L283.8 511.2V511.7L284.8 511.9V511.3L285.8 511.4V512.1L286.8 512.1V511.5L287.8 511.5V512.0L288.8 512.2V511.7L289.8 511.8V512.3L290.8 512.4V511.7L291.8 511.9V512.4L292.8 512.6V512.1L293.8 512.2V512.6L294.8 512.8V512.2L295.8 512.2V513.0L296.8 513.0V512.3L297.8 512.5V513.1L298.8 513.0V512.3L299.8 512.4V513.0L300.8 513.0V512.5L301.8 512.5V513.0L302.8 513.0V512.6L303.8 512.6V513.1L304.8 513.0V512.5L305.8 512.3V513.0L306.8 513.1V512.2L307.8 512.3V512.9L308.8 513.2V512.3L309.8 512.3V512.9L310.8 512.9V512.5L311.8 512.4V512.9L312.8 512.8V512.3L313.8 512.3V512.8L314.8 512.7V512.1L315.8 512.1V513.0L316.8 512.7V512.2L317.8 512.1V512.7L318.8 512.9V512.0L319.8 512.1V512.6L320.8 512.6V512.2L321.8 512.1V512.9L322.8 512.7V512.1L323.8 511.9V512.7L324.8 512.5V511.9L325.8 512.0V512.6L326.8 512.4V511.9L327.8 511.8V512.5L328.8 512.3V511.9L329.8 512.2V511.6L330.8 512.0V512.4L331.8 512.4V511.6L332.8 511.6V512.3L333.8 512.4V511.7L334.8 511.7V512.3L335.8 512.3V511.4L336.8 511.5V512.1L337.8 512.2V511.3L338.8 511.6V512.0L339.8 511.9V511.3L340.8 511.3V511.9L341.8 511.9V511.5L342.8 511.3V512.0L343.8 511.8V511.3L344.8 511.1V512.5L345.8 511.7V511.3L346.8 511.1V511.8L347.8 511.8V511.1L348.8 511.0V511.7L349.8 511.6V510.7L350.8 510.9V511.4L351.8 511.4V510.7L352.8 510.6V511.3L353.8 511.2V510.7L354.8 510.7V511.5L355.8 511.1V510.4L356.8 510.6V511.2L357.8 511.2V510.6L358.8 510.6V511.2L359.8 511.0V510.5L360.8 510.2V510.8L361.8 510.9V510.3L362.8 510.1V510.8L363.8 510.5V510.0L364.8 510.1V510.9L365.8 510.6V509.8L366.8 510.0V510.5L367.8 510.6V510.1L368.8 509.5V511.1L369.8 510.3V509.7L370.8 509.6V510.2L371.8 510.4V509.7L372.8 509.8V510.3L373.8 510.0V509.4L374.8 509.5V510.2L375.8 510.3V509.3L376.8 509.5V510.0L377.8 509.9V509.4L378.8 509.2V510.0L379.8 509.9V509.2L380.8 509.1V509.8L381.8 509.6V509.0L382.8 508.9V510.1L383.8 509.5V508.9L384.8 508.8V509.5L385.8 509.1V508.7L386.8 508.5V509.2L387.8 509.0V508.2L388.8 508.6V509.2L389.8 509.3V508.5L390.8 508.2V508.8L391.8 508.8V508.4L392.8 508.3V508.7L393.8 508.4V508.0L394.8 508.0V508.6L395.8 508.7V508.0L396.8 507.9V508.3L397.8 508.4V507.5L398.8 507.8V508.6L399.8 508.2V507.5L400.8 507.5V508.2L401.8 508.2V507.4L402.8 507.4V508.0L403.8 507.9V507.4L404.8 507.2V508.0L405.8 508.0V507.2L406.8 507.0V507.8L407.8 507.8V507.1L408.8 507.0V507.7L409.8 507.6V506.8L410.8 506.8V507.6L411.8 507.3V506.4L412.8 506.3V507.1L413.8 507.1V506.3L414.8 506.5V506.9L415.8 506.9V506.2L416.8 506.0V506.7L417.8 506.7V506.0L418.8 505.7V506.8L419.8 506.2V505.6L420.8 505.5V506.3L421.8 506.2V505.4L422.8 505.2V506.1L423.8 505.7V505.1L424.8 504.9V505.4L425.8 505.3V504.9L426.8 504.4V505.3L427.8 505.2V504.4L428.8 504.3V505.1L429.8 505.2V504.4L430.8 504.1V505.0L431.8 504.5V503.9L432.8 503.9V504.7L433.8 504.6V503.7L434.8 503.2V504.3L435.8 503.9V503.1L436.8 503.1V504.4L437.8 504.2V503.2L438.8 502.8V504.1L439.8 504.4V503.0L440.8 502.6V503.6L441.8 503.5V502.7L442.8 502.6V503.4L443.8 503.3V502.6L444.8 502.8V503.5L445.8 503.6V502.5L446.8 502.4V503.3L447.8 503.2V502.5L448.8 502.9V502.0L449.8 502.1V503.0L450.8 503.0V502.0L451.8 501.9V502.8L452.8 502.7V502.0L453.8 501.9V502.5L454.8 502.6V501.5L455.8 501.8V502.8L456.8 502.5V501.8L457.8 501.4V502.5L458.8 502.4V501.3L459.8 501.5V502.2L460.8 502.2V501.3L461.8 501.2V501.9L462.8 501.8V501.2L463.8 500.8V501.7L464.8 502.1V500.8L465.8 500.9V501.7L466.8 501.5V500.6L467.8 501.0V502.3L468.8 501.6V500.7L469.8 500.8V501.6L470.8 502.4V500.4L471.8 500.3V501.2L472.8 501.4V500.0L473.8 500.3V500.9L474.8 500.7V500.0L475.8 500.1V501.1L476.8 501.1V499.9L477.8 499.9V501.2L478.8 501.0V499.5L479.8 499.7V500.4L480.8 500.6V499.5L481.8 499.4V500.4L482.8 500.1V499.4L483.8 499.1V500.1L484.8 500.4V499.3L485.8 499.0V500.7L486.8 500.7V499.1L487.8 499.0V500.2L488.8 500.0V499.0L489.8 499.1V499.8L490.8 499.8V499.0L491.8 498.9V499.6L492.8 499.6V498.9L493.8 498.7V499.6L494.8 499.9V498.6L495.8 498.7V499.6L496.8 499.2V498.5L497.8 498.4V499.5L498.8 499.6V498.6L499.8 498.2V499.7L500.8 499.3V498.5L501.8 498.7V499.5L502.8 499.2V498.5L503.8 498.4V499.4L504.8 499.3V498.4L505.8 498.2V499.0L506.8 499.7V498.3L507.8 498.2V499.3L508.8 499.5V498.3L509.8 498.1V500.0L510.8 499.3V497.9L511.8 498.1V499.4L512.8 499.0V498.4L513.8 498.5V499.2L514.8 499.6V497.9L515.8 498.1V498.8L516.8 499.0V498.0L517.8 497.9V499.0L518.8 498.8V497.6L519.8 497.9V498.9L520.8 498.7V497.8L521.8 497.9V498.9L522.8 499.1V498.1L523.8 498.3V498.9L524.8 498.9V498.2L525.8 498.2V498.7L526.8 499.2V497.7L527.8 498.1V498.7L528.8 498.7V498.0L529.8 497.8V498.8L530.8 498.9V497.6L531.8 498.0V498.9L532.8 499.1V497.7L533.8 497.5V498.7L534.8 498.8V497.5L535.8 497.4V498.4L536.8 498.8V497.6L537.8 497.8V498.5L538.8 498.7V497.6L539.8 497.9V498.9L540.8 498.6V497.7L541.8 497.8V498.7L542.8 498.5V497.6L543.8 497.7V498.5L544.8 498.7V497.5L545.8 497.4V498.8L546.8 498.5V497.4L547.8 497.4V498.4L548.8 498.4V497.4L549.8 497.4V498.6L550.8 498.4V497.4L551.8 497.3V498.3L552.8 498.2V497.3L553.8 497.6V498.8L554.8 498.3V497.3L555.8 497.3V498.0L556.8 498.2V496.9L557.8 497.1V498.5L558.8 498.0V497.2L559.8 496.9V498.3L560.8 498.2V497.2L561.8 497.3V498.2L562.8 498.5V497.6L563.8 497.4V498.6L564.8 498.4V497.4L565.8 497.1V498.2L566.8 498.4V497.5L567.8 497.5V498.5L568.8 497.9V497.2L569.8 496.8V497.9L570.8 497.9V497.1L571.8 496.9V497.7L572.8 497.6V496.8L573.8 496.3V497.5L574.8 498.0V496.8L575.8 496.7V497.7L576.8 498.2V496.5L577.8 496.4V497.7L578.8 497.7V496.3L579.8 496.5V497.6L580.8 497.6V496.6L581.8 496.8V497.9L582.8 497.6V496.6L583.8 496.6V497.7L584.8 498.1V496.6L585.8 496.9V497.7L586.8 498.1V496.8L587.8 496.8V498.0L588.8 497.9V496.8L589.8 496.7V497.7L590.8 497.8V496.8L591.8 497.0V497.7L592.8 497.6V496.5L593.8 496.6V497.7L594.8 498.2V497.1L595.8 497.0V497.9L596.8 498.0V497.0L597.8 497.0V497.9L598.8 498.4V496.9L599.8 497.1V497.9L600.8 497.9V497.1L601.8 497.1V497.8L602.8 497.9V497.1L603.8 497.0V498.4L604.8 498.1V497.1L605.8 497.1V498.1L606.8 498.3V497.2L607.8 497.4V498.4L608.8 498.5V497.2L609.8 497.7V498.3L610.8 498.4V497.4L611.8 497.8V498.5L612.8 498.7V497.7L613.8 498.0V498.7L614.8 499.3V498.2L615.8 498.1V499.5L616.8 499.1V498.2L617.8 498.2V499.3L618.8 499.3V498.3L619.8 498.4V499.1L620.8 499.2V498.3L621.8 498.6V499.2L622.8 499.7V498.5L623.8 498.4V499.4L624.8 499.3V498.6L625.8 498.6V500.3L626.8 499.6V498.6L627.8 498.8V499.5L628.8 499.6V498.7L629.8 498.9V499.7L630.8 499.7V498.9L631.8 498.7V499.9L632.8 499.6V499.1L633.8 498.9V500.3L634.8 500.0V499.0L635.8 499.0V500.0L636.8 500.3V499.3L637.8 499.2V500.3L638.8 500.6V499.6L639.8 499.3V500.4L640.8 500.3V499.6L641.8 499.3V501.0L642.8 500.2V499.4L643.8 499.4V500.8L644.8 500.6V499.4L645.8 499.9V500.9L646.8 500.6V499.9L647.8 499.6V500.3L648.8 500.8V499.8L649.8 499.8V500.4L650.8 500.7V500.0L651.8 499.8V501.1L652.8 501.2V499.9L653.8 500.2V500.8L654.8 500.7V500.0L655.8 500.5V501.3L656.8 501.0V500.3L657.8 500.2V501.2L658.8 500.9V500.4L659.8 500.4V501.1L660.8 501.3V500.2L661.8 500.0V500.8L662.8 501.4V500.1L663.8 500.6V501.4L664.8 501.5V500.2L665.8 500.5V501.4L666.8 501.4V500.6L667.8 500.5V501.3L668.8 501.3V500.5L669.8 500.4V502.1L670.8 501.4V500.8L671.8 500.6V501.2L672.8 501.0V501.5L673.8 501.5V500.7L674.8 500.9V501.6L675.8 502.0V501.0L676.8 500.7V501.5L677.8 501.5V500.9L678.8 501.0V502.0L679.8 501.8V501.1L680.8 501.1V502.0L681.8 502.0V501.3L682.8 501.9V497.9L683.8 501.4V502.0L684.8 502.5V501.4L685.8 501.3V502.0L686.8 502.2V501.5L687.8 501.4V502.1L688.8 502.1V501.4L689.8 501.6V502.2L690.8 502.4V501.7L691.8 502.0V502.6L692.8 502.7V502.0L693.8 501.7V502.3L694.8 502.4V501.7L695.8 501.6V502.9L696.8 502.9V502.1L697.8 501.9V502.8L698.8 502.8V502.1L699.8 501.9V503.0L700.8 502.8V502.3L701.8 502.3V503.1L702.8 503.3V502.3L703.8 502.4V503.0L704.8 502.5V504.1L705.8 503.3V502.6L706.8 502.6V503.4L707.8 503.5V502.6L708.8 502.6V503.5L709.8 503.4V502.8L710.8 502.5V503.5L711.8 503.7V502.9L712.8 502.9V503.8L713.8 503.7V502.9L714.8 502.8V504.0L715.8 503.8V503.0L716.8 503.0V503.9L717.8 503.9V502.9L718.8 503.3V503.9L719.8 503.9V503.4L720.8 503.1V504.2L721.8 504.1V503.5L722.8 503.2V504.4L723.8 504.4V503.3L724.8 503.5V504.4L725.8 504.3V503.8L726.8 503.7V504.5L727.8 504.8V503.9L728.8 503.8V504.7L729.8 504.9V504.0L730.8 504.0V504.8L731.8 504.8V503.9L732.8 504.0V504.6L733.8 504.7V504.1L734.8 504.3V504.9L735.8 505.0V504.2L736.8 504.0V505.0L737.8 505.4V504.2L738.8 504.3V505.1L739.8 505.4V504.6L740.8 504.3V505.7L741.8 505.4V504.7L742.8 504.4V505.3L743.8 505.5V504.7L744.8 504.8V505.6L745.8 506.1V504.9L746.8 504.9V505.6L747.8 505.9V505.1L748.8 505.3V506.1L749.8 506.1V505.3L750.8 505.3V506.2L751.8 506.3V505.3L752.8 505.5V506.4L753.8 506.0V505.5L754.8 505.4V506.2L755.8 506.2V505.6L756.8 505.7V506.5L757.8 506.3V505.9L758.8 505.7V506.3L759.8 506.6V505.7L760.8 505.9V506.7L761.8 506.7V505.9L762.8 506.1V506.8L763.8 506.7V506.0L764.8 505.8V506.8L765.8 507.2V506.0L766.8 506.1V506.8L767.8 506.9V506.0L768.8 506.4V507.0L769.8 507.4V506.3L770.8 506.2V507.0L771.8 507.0V506.3L772.8 506.3V507.0L773.8 506.9V506.2L774.8 506.8"/>
<path class="c" stroke="#808000" stroke-width="3.5" d="M125.8 514.5L125.8 514.5L126.8 514.5L127.8 514.4L128.8 514.3L129.8 514.2L130.8 514.0V513.9L131.8 513.9V513.6L132.8 513.6V513.4L133.8 513.4V513.1L134.8 513.1V512.8L135.8 512.8V512.4L136.8 512.4V512.1L137.8 512.0V511.7L138.8 511.7V511.3L139.8 511.2V510.8L140.8 510.8V510.4L141.8 510.3V509.8L142.8 509.8V509.3L143.8 509.2V508.4L144.8 508.4V507.4L145.8 507.3V506.2L146.8 506.1V504.8L147.8 504.7V503.3L148.8 503.2V501.5L149.8 501.4V499.5L150.8 499.3V497.3L151.8 497.1V494.8L152.8 494.6V492.3L153.8 492.0V488.1L154.8 487.6V482.1L155.8 481.5V475.0L156.8 474.3V468.0L157.8 467.3V459.9L158.8 459.1V450.4L159.8 449.4V439.5L160.8 438.4V427.1L161.8 425.8V413.5L162.8 412.0V396.7L163.8 395.0V377.8L164.8 376.1V358.9L165.8 357.2V340.0L166.8 338.3V322.9L167.8 321.2V304.0L168.8 302.3V285.1L169.8 283.4V262.5L170.8 260.3V238.4L171.8 236.3V216.6L172.8 214.4V192.6L173.8 190.4V168.5L174.8 166.3V144.5L175.8 142.3V124.2L176.8 122.4V106.5L177.8 104.7V87.0L178.8 85.2V67.5L179.8 65.8V48.0L180.8 46.3V30.3L181.8 26.8V36.6L182.8 37.7V48.6L183.8 49.7V60.6L184.8 61.7V72.6L185.8 73.7V83.5L186.8 84.6V95.5L187.8 96.5V107.4L188.8 108.5V119.4L189.8 120.5V131.4L190.8 132.5V144.0L191.8 146.0V165.4L192.8 167.3V186.7L193.8 188.7V208.1L194.8 210.0V229.5L195.8 231.4V248.9L196.8 250.8V270.2L197.8 272.2V285.4L198.8 286.3V295.3L199.8 296.2V305.2L200.8 306.1V314.3L201.8 315.2V324.2L202.8 325.1V334.1L203.8 335.0V344.1L204.8 345.0V354.0L205.8 354.9V363.0L206.8 363.9V372.9L207.8 373.8V382.9L208.8 383.8V392.8L209.8 393.7V401.8L210.8 402.7V411.0L211.8 411.5V416.1L212.8 416.5V420.7L213.8 421.1V424.8L214.8 425.2V428.3L215.8 428.6V431.9L216.8 432.2V435.5L217.8 435.8V439.0L218.8 439.3V442.4L219.8 442.7V445.4L220.8 445.7V448.6L221.8 448.9V451.6L222.8 451.9V454.5L223.8 454.8V457.3L224.8 457.5V459.7L225.8 460.0V462.4L226.8 462.6V465.0L227.8 465.2V467.5L228.8 467.7V469.9L229.8 470.1V472.0L230.8 472.2V474.2L231.8 474.4V476.2L232.8 476.4V478.2L233.8 478.3V479.8L234.8 480.0V481.6L235.8 481.8V483.3L236.8 483.5V485.0L237.8 485.1V486.5L238.8 486.7V487.9L239.8 488.0V489.2L240.8 489.4V490.5L241.8 490.6V491.6L242.8 491.7V492.6L243.8 492.7V493.5L244.8 493.6V494.4L245.8 494.5V495.3L246.8 495.4V496.2L247.8 496.3V497.1L248.8 497.1V497.8L249.8 497.9V498.6L250.8 498.6V499.3L251.8 499.4V500.0L252.8 500.0V500.6L253.8 500.7V501.2L254.8 501.3V501.8L255.8 501.8V502.3L256.8 502.4V502.9L257.8 502.9V503.4L258.8 503.3V503.7L259.8 503.7V504.1L260.8 504.2V504.5L261.8 504.5V504.9L262.8 504.8V505.1L263.8 505.1V505.3L264.8 505.5V505.7L265.8 505.7V506.0L266.8 506.1V506.4L267.8 506.4V506.7L268.8 506.6V507.0L269.8 506.8V507.3L270.8 507.5V507.0L271.8 507.2V507.8L272.8 508.0V507.6L273.8 507.6V508.3L274.8 508.3V507.8L275.8 508.1V508.3L276.8 508.2V508.7L277.8 509.0V508.2L278.8 508.6V509.1L279.8 509.3V508.8L280.8 508.8V509.2L281.8 509.6V508.8L282.8 509.0V509.8L283.8 509.8V509.2L284.8 509.2V510.3L285.8 510.6V509.6L286.8 509.4V510.2L287.8 510.5V509.7L288.8 509.9V510.5L289.8 510.8V509.9L290.8 510.1V511.0L291.8 510.8V510.3L292.8 510.5V511.0L293.8 511.0V510.3L294.8 510.3V511.0L295.8 511.1V510.5L296.8 510.5V511.0L297.8 511.3V510.6L298.8 510.8V511.3L299.8 511.5V510.8L300.8 510.6V511.2L301.8 511.6V510.7L302.8 510.8V511.4L303.8 511.1V510.4L304.8 510.6V511.3L305.8 511.2V510.7L306.8 510.9V510.4L307.8 510.3V511.2L308.8 511.0V510.5L309.8 510.4V511.1L310.8 511.3V510.4L311.8 510.4V510.8L312.8 511.0V510.3L313.8 510.0V511.1L314.8 510.6V510.3L315.8 510.2V510.9L316.8 510.8V510.2L317.8 510.3V510.9L318.8 510.8V510.3L319.8 510.5V511.3L320.8 510.8V510.1L321.8 510.1V510.8L322.8 511.0V510.2L323.8 510.1V510.7L324.8 511.0V510.2L325.8 510.1V510.9L326.8 510.6V510.3L327.8 509.9V510.9L328.8 510.6V509.9L329.8 510.1V510.7L330.8 510.7V510.1L331.8 509.9V510.9L332.8 510.6V509.8L333.8 509.7V510.6L334.8 510.3V509.8L335.8 509.9V510.4L336.8 510.4V509.7L337.8 509.6V510.4L338.8 510.1V509.6L339.8 509.5V510.2L340.8 510.0V509.4L341.8 509.3V510.0L342.8 509.7V509.2L343.8 509.4V509.9L344.8 510.0V509.3L345.8 509.4V509.9L346.8 510.1V509.0L347.8 509.0V509.7L348.8 509.8V509.0L349.8 509.2V509.7L350.8 509.5V509.1L351.8 508.7V509.6L352.8 509.7V508.8L353.8 508.6V509.5L354.8 509.6V508.7L355.8 508.4V509.3L356.8 509.4V508.5L357.8 508.7V509.5L358.8 509.4V508.4L359.8 508.4V509.0L360.8 508.9V508.3L361.8 508.2V508.7L362.8 508.8V508.1L363.8 508.0V509.0L364.8 508.7V507.9L365.8 508.2V508.8L366.8 508.5V507.9L367.8 507.5V508.7L368.8 509.0V507.7L369.8 507.7V508.3L370.8 508.6V507.7L371.8 507.4V508.1L372.8 508.1V507.4L373.8 507.2V508.0L374.8 508.1V507.2L375.8 507.4V508.0L376.8 507.9V506.8L377.8 506.9V507.6L378.8 507.7V506.9L379.8 506.7V507.5L380.8 507.6V506.8L381.8 506.6V507.2L382.8 507.4V506.7L383.8 506.5V507.1L384.8 507.3V506.3L385.8 506.0V507.0L386.8 507.5V506.3L387.8 506.1V506.8L388.8 506.7V505.6L389.8 505.9V506.5L390.8 506.5V505.4L391.8 505.4V506.6L392.8 506.6V505.5L393.8 505.3V506.3L394.8 506.1V505.0L395.8 505.2V506.0L396.8 506.0V505.1L397.8 504.9V505.8L398.8 505.8V504.9L399.8 504.9V505.5L400.8 505.6V504.3L401.8 504.3V505.6L402.8 505.3V504.1L403.8 504.7V505.3L404.8 505.1V504.7L405.8 505.0V504.2L406.8 504.2V505.1L407.8 505.1V503.7L408.8 503.9V504.6L409.8 504.6V503.7L410.8 503.6V504.8L411.8 504.6V503.0L412.8 503.2V504.3L413.8 504.0V503.1L414.8 502.9V503.8L415.8 503.9V502.9L416.8 502.5V503.8L417.8 503.5V502.6L418.8 502.5V503.3L419.8 503.3V502.4L420.8 502.4V503.3L421.8 502.8V502.1L422.8 502.0V503.2L423.8 502.8V501.6L424.8 501.7V502.6L425.8 502.8V501.4L426.8 501.4V502.3L427.8 502.1V501.5L428.8 501.0V502.1L429.8 501.9V501.1L430.8 500.9V502.2L431.8 502.3V501.1L432.8 501.0V502.1L433.8 501.7V500.7L434.8 500.6V501.6L435.8 501.3V500.3L436.8 500.5V501.1L437.8 501.5V500.3L438.8 500.2V501.4L439.8 500.7V499.5L440.8 499.5V500.8L441.8 500.8V500.0L442.8 499.5V501.1L443.8 500.8V499.8L444.8 499.6V500.7L445.8 500.4V499.1L446.8 499.2V500.4L447.8 500.3V499.2L448.8 498.9V500.4L449.8 500.2V498.8L450.8 498.9V499.6L451.8 499.4V498.5L452.8 498.2V499.2L453.8 499.3V498.5L454.8 499.0V497.9L455.8 497.8V499.1L456.8 499.1V497.9L457.8 497.5V498.6L458.8 498.6V497.6L459.8 497.4V498.8L460.8 498.4V497.1L461.8 496.9V498.4L462.8 498.8V497.0L463.8 496.7V497.8L464.8 498.2V497.0L465.8 496.5V497.6L466.8 497.7V496.5L467.8 496.3V497.3L468.8 497.1V496.5L469.8 495.9V497.2L470.8 496.8V496.2L471.8 495.7V496.9L472.8 496.9V495.1L473.8 495.2V496.8L474.8 497.2V495.3L475.8 495.7V494.5L476.8 494.5V495.8L477.8 495.8V494.9L478.8 494.9V495.7L479.8 495.8V494.6L480.8 494.1V495.6L481.8 495.8V494.4L482.8 494.4V495.2L483.8 495.0V494.1L484.8 493.8V494.9L485.8 495.3V493.9L486.8 494.0V495.4L487.8 495.2V493.4L488.8 493.7V495.1L489.8 494.8V493.7L490.8 493.2V494.8L491.8 494.5V493.3L492.8 493.3V494.3L493.8 493.5V495.7L494.8 494.4V493.6L495.8 494.1V494.7L496.8 495.1V493.7L497.8 493.4V494.8L498.8 494.5V493.0L499.8 492.8V494.4L500.8 494.3V493.2L501.8 493.0V494.8L502.8 494.9V493.0L503.8 493.3V494.5L504.8 494.2V492.8L505.8 492.7V494.0L506.8 494.3V492.8L507.8 492.4V494.3L508.8 494.4V492.3L509.8 492.8V494.7L510.8 493.9V492.9L511.8 493.0V494.1L512.8 494.1V492.9L513.8 492.5V494.3L514.8 494.2V492.5L515.8 492.6V493.6L516.8 493.6V492.4L517.8 492.5V493.8L518.8 493.8V492.3L519.8 492.0V493.7L520.8 494.2V492.7L521.8 492.9V493.7L522.8 493.5V492.3L523.8 492.2V493.4L524.8 493.5V492.5L525.8 492.9V493.5L526.8 493.9V492.6L527.8 492.4V493.5L528.8 493.6V492.1L529.8 492.7V493.5L530.8 493.8V492.1L531.8 492.3V493.6L532.8 493.9V492.1L533.8 492.5V494.0L534.8 493.7V491.9L535.8 492.3V493.4L536.8 493.8V491.9L537.8 492.0V494.0L538.8 493.5V492.3L539.8 492.3V493.1L540.8 493.8V492.1L541.8 492.0V493.5L542.8 493.6V491.9L543.8 491.9V493.2L544.8 493.5V492.2L545.8 492.0V493.7L546.8 493.5V492.4L547.8 492.0V493.7L548.8 493.2V491.7L549.8 492.3V493.8L550.8 493.2V492.0L551.8 491.7V493.1L552.8 492.9V491.7L553.8 491.7V494.1L554.8 492.8V491.2L555.8 492.0V493.1L556.8 492.8V492.1L557.8 492.0V492.9L558.8 492.9V491.8L559.8 491.3V492.8L560.8 492.9V491.9L561.8 491.5V492.7L562.8 492.7V491.5L563.8 491.5V492.9L564.8 492.7V491.4L565.8 491.5V492.8L566.8 493.9V491.6L567.8 491.6V493.2L568.8 492.7V491.0L569.8 490.9V492.5L570.8 492.4V491.0L571.8 490.8V492.3L572.8 492.7V491.3L573.8 490.9V492.5L574.8 492.2V491.3L575.8 491.0V492.5L576.8 492.3V491.3L577.8 491.0V492.1L578.8 492.1V490.5L579.8 490.8V491.7L580.8 492.2V490.7L581.8 491.2V492.2L582.8 492.6V490.9L583.8 491.3V492.5L584.8 492.6V490.8L585.8 490.6V492.7L586.8 492.7V490.9L587.8 491.3V492.5L588.8 492.7V491.2L589.8 491.0V492.7L590.8 492.5V491.2L591.8 491.8V493.1L592.8 492.7V491.5L593.8 491.6V492.9L594.8 492.7V491.2L595.8 491.6V493.2L596.8 492.7V491.6L597.8 491.3V492.9L598.8 493.7V491.4L599.8 491.2V492.6L600.8 492.8V491.5L601.8 491.6V492.8L602.8 492.8V491.6L603.8 491.5V493.1L604.8 493.1V491.4L605.8 492.3V493.1L606.8 493.8V492.2L607.8 492.3V493.5L608.8 493.3V492.4L609.8 492.0V493.7L610.8 493.6V492.8L611.8 492.3V493.5L612.8 493.7V492.4L613.8 492.7V494.0L614.8 493.6V492.4L615.8 492.6V494.0L616.8 494.2V492.9L617.8 492.7V494.4L618.8 494.8V492.9L619.8 492.7V494.3L620.8 494.6V493.1L621.8 492.9V494.5L622.8 494.6V493.2L623.8 493.5V495.4L624.8 494.7V493.4L625.8 493.6V494.6L626.8 494.9V493.8L627.8 494.2V495.4L628.8 494.9V493.6L629.8 493.9V494.9L630.8 495.3V493.7L631.8 494.0V495.5L632.8 495.2V494.3L633.8 494.0V495.2L634.8 495.2V494.1L635.8 494.3V495.7L636.8 495.6V494.5L637.8 494.5V495.9L638.8 495.6V495.0L639.8 494.8V495.9L640.8 495.8V495.1L641.8 495.1V496.8L642.8 496.1V495.0L643.8 495.3V496.4L644.8 496.7V495.2L645.8 495.4V496.6L646.8 496.8V495.3L647.8 495.7V496.5L648.8 496.6V495.7L649.8 495.4V496.9L650.8 496.7V495.9L651.8 495.8V497.0L652.8 497.5V495.7L653.8 496.0V497.0L654.8 497.3V496.1L655.8 496.3V497.4L656.8 497.3V496.2L657.8 495.9V497.2L658.8 497.1V495.6L659.8 496.0V497.0L660.8 497.2V496.1L661.8 495.9V497.7L662.8 497.7V496.3L663.8 496.8V497.3L664.8 497.7V496.6L665.8 496.6V497.5L666.8 498.0V496.4L667.8 496.7V498.1L668.8 497.7V496.5L669.8 496.4V497.7L670.8 498.1V496.2L671.8 496.7V497.8L672.8 497.7V496.7L673.8 496.6V497.8L674.8 498.0V496.3L675.8 496.8V497.7L676.8 497.9V496.5L677.8 497.1V498.2L678.8 498.6V497.2L679.8 497.1V498.1L680.8 498.2V497.3L681.8 497.3V498.6L682.8 498.3V490.9L683.8 497.1V498.7L684.8 499.2V497.3L685.8 497.7V498.8L686.8 498.4V497.3L687.8 497.4V498.5L688.8 499.2V497.4L689.8 497.8V498.7L690.8 498.7V497.7L691.8 497.7V498.8L692.8 499.3V498.2L693.8 498.7V497.6L694.8 498.0V499.7L695.8 498.9V498.4L696.8 498.5V499.3L697.8 499.4V498.5L698.8 498.5V499.4L699.8 499.6V498.3L700.8 498.4V499.8L701.8 499.6V498.5L702.8 498.8V499.4L703.8 499.9V498.3L704.8 499.1V500.7L705.8 500.1V498.3L706.8 498.7V499.5L707.8 500.1V498.8L708.8 498.9V499.8L709.8 500.1V498.8L710.8 499.1V500.2L711.8 500.7V499.3L712.8 499.5V500.6L713.8 500.1V499.3L714.8 499.3V500.2L715.8 500.6V499.4L716.8 499.8V500.9L717.8 500.9V499.9L718.8 500.2V500.8L719.8 500.9V499.7L720.8 500.1V501.0L721.8 501.2V499.9L722.8 500.7V501.4L723.8 501.6V500.6L724.8 500.9V501.6L725.8 500.9V502.4L726.8 501.7V500.8L727.8 500.6V501.7L728.8 502.4V500.6L729.8 501.1V502.4L730.8 502.2V501.2L731.8 501.2V501.8L732.8 501.9V501.3L733.8 501.3V502.2L734.8 502.4V501.3L735.8 501.1V502.2L736.8 502.3V501.3L737.8 501.5V502.5L738.8 502.3V501.4L739.8 501.5V502.7L740.8 502.7V501.8L741.8 501.9V503.1L742.8 502.5V501.8L743.8 501.8V502.9L744.8 503.3V502.1L745.8 502.1V502.8L746.8 503.4V502.0L747.8 502.3V503.1L748.8 503.5V502.2L749.8 502.2V503.1L750.8 503.5V502.4L751.8 502.3V503.5L752.8 503.6V502.3L753.8 502.4V503.7L754.8 503.7V502.8L755.8 502.8V503.9L756.8 503.6V502.7L757.8 502.7V504.0L758.8 503.9V502.8L759.8 502.9V504.0L760.8 504.2V502.8L761.8 503.1V504.0L762.8 504.4V502.9L763.8 503.3V503.9L764.8 504.2V503.3L765.8 503.4V504.7L766.8 504.1V503.5L767.8 503.6V504.4L768.8 504.5V503.7L769.8 503.6V504.6L770.8 504.4V503.7L771.8 503.7V505.0L772.8 505.0V503.9L773.8 503.8V504.7L774.8 503.8V503.5"/>
</g>
<rect x="249.2" y="6.3" width="517" height="58.7" fill="#fff" stroke="#000" stroke-width="1.2"/>
<line x1="253.89999999999998" y1="21.7" x2="307.6" y2="21.7" stroke="#000000" stroke-width="3.5" stroke-linecap="round"/>
<text class="lg" x="313.8" y="28.1">As-growth</text>
<line x1="423.7" y1="21.7" x2="477.40000000000003" y2="21.7" stroke="#ff0000" stroke-width="3.5" stroke-linecap="round"/>
<text class="lg" x="483.9" y="28.1">V</text>
<line x1="598.6" y1="21.7" x2="652.5" y2="21.7" stroke="#0000ff" stroke-width="3.5" stroke-linecap="round"/>
<text class="lg" x="658.9" y="28.1">V-1 sccm</text>
<line x1="253.89999999999998" y1="51.0" x2="307.6" y2="51.0" stroke="#008080" stroke-width="3.5" stroke-linecap="round"/>
<text class="lg" x="313.0" y="58.2">V-5 sccm</text>
<line x1="425.59999999999997" y1="51.0" x2="479.3" y2="51.0" stroke="#ff00ff" stroke-width="3.5" stroke-linecap="round"/>
<text class="lg" x="485.7" y="58.2">V-10 sccm</text>
<line x1="597.9000000000001" y1="51.0" x2="651.1999999999999" y2="51.0" stroke="#808000" stroke-width="3.5" stroke-linecap="round"/>
<text class="lg" x="657.6" y="58.2">V-20 sccm</text>
<text class="pl" x="738" y="109.6" text-anchor="middle">(a)</text>
</g>
<g id="panel-b">
<path class="ax" stroke-linejoin="miter" d="M973.0 535.2V7.5H1621.5V535.2Z"/>
<path class="ax" d="M985.7 535.2v11.1M1112.9 535.2v11.1M1240.0 535.2v11.1M1367.2 535.2v11.1M1494.3 535.2v11.1M1621.5 535.2v11.1M1049.3 535.2v6.6M1176.5 535.2v6.6M1303.6 535.2v6.6M1430.8 535.2v6.6M1557.9 535.2v6.6M973.0 429.9h-10M973.0 261.2h-10M973.0 92.5h-10"/>
<text class="tk" x="985.7" y="577.8" text-anchor="middle">450</text>
<text class="tk" x="1112.9" y="577.8" text-anchor="middle">500</text>
<text class="tk" x="1240.0" y="577.8" text-anchor="middle">550</text>
<text class="tk" x="1367.2" y="577.8" text-anchor="middle">600</text>
<text class="tk" x="1494.3" y="577.8" text-anchor="middle">650</text>
<text class="tk" x="1621.5" y="577.8" text-anchor="middle">700</text>
<text class="tk" x="956.3" y="439.7" text-anchor="end">0.00</text>
<text class="tk" x="956.3" y="271.0" text-anchor="end">0.04</text>
<text class="tk" x="956.3" y="102.3" text-anchor="end">0.08</text>
<text class="ti" x="1297.3" y="626" text-anchor="middle">Wavelength (nm)</text>
<text class="ti" transform="translate(860 279.7) rotate(-90) scale(1.004 1.07)" text-anchor="middle">Intensity (arb.unit)</text>
<g clip-path="url(#cr)">
<path class="c" stroke="#ff0000" d="M973.0 416.7L973.0 416.7V418.6L973.5 418.3V420.6L974.0 420.2V419.2L974.5 420.4V415.8L975.0 415.6V419.7L975.5 419.7V417.1L976.0 415.9V421.5L976.5 420.3V416.4L977.0 417.5V422.3L977.5 421.0V419.5L978.0 421.1V417.0L978.5 418.7V423.2L979.0 421.4V418.2L979.5 418.7V419.7L980.0 418.2V422.1L980.5 421.2V417.0L981.0 416.5V420.7L981.5 420.2V422.2L982.0 421.6V417.7L982.5 417.9V420.6L983.0 420.9V416.3L983.5 418.2V421.4L984.0 420.5V416.2L984.5 419.2V421.9L985.0 423.5V415.0L985.5 419.6V422.1L986.0 421.5V418.5L986.5 420.9V422.5L987.0 423.0V418.8L987.5 419.7V422.2L988.0 423.5V417.8L988.5 417.3V422.2L989.0 421.6V418.2L989.5 418.2V423.3L990.0 423.1V420.0L990.5 419.1V424.9L991.0 421.9V416.8L991.5 419.9V422.4L992.0 421.4V417.7L992.5 418.2V420.9L993.0 423.5V417.6L993.5 418.5V422.4L994.0 423.4V421.2L994.5 421.2V424.4L995.0 423.9V422.6L995.5 423.9V418.1L996.0 418.4V423.6L996.5 423.3V419.7L997.0 418.1V424.1L997.5 425.9V418.1L998.0 418.7V422.8L998.5 422.5V419.5L999.0 421.6V423.1L999.5 425.3V420.5L1000.0 421.1V424.3L1000.5 422.6V421.4L1001.0 422.0V426.2L1001.5 424.2V421.4L1002.0 421.6V428.2L1002.5 424.4V419.1L1003.0 421.1V423.9L1003.5 425.1V420.5L1004.0 421.2V425.0L1004.5 425.8V421.4L1005.0 422.5V422.9L1005.5 422.9V421.0L1006.0 420.7V427.4L1006.5 427.4V424.5L1007.0 426.6V421.4L1007.5 423.5V425.4L1008.0 426.0V423.9L1008.5 423.5V426.4L1009.0 426.6V420.4L1009.5 422.2V426.6L1010.0 424.5V423.2L1010.5 424.6V420.8L1011.0 421.6V425.6L1011.5 425.7V418.5L1012.0 421.5V425.2L1012.5 426.8V419.9L1013.0 422.7V424.5L1013.5 423.2V421.9L1014.0 419.4V427.1L1014.5 426.0V421.6L1015.0 421.6V424.8L1015.5 423.2V426.8L1016.0 425.5V419.9L1016.5 419.6V424.8L1017.0 424.7V421.5L1017.5 420.8V425.1L1018.0 425.2V420.6L1018.5 421.2V424.6L1019.0 423.5V425.9L1019.5 421.6V419.3L1020.0 422.0V424.3L1020.5 424.1V422.1L1021.0 422.5V420.1L1021.5 421.6V423.1L1022.0 422.6V419.6L1022.5 421.9V425.0L1023.0 423.2V420.9L1023.5 420.1V424.6L1024.0 424.0V420.6L1024.5 423.3V424.1L1025.0 423.4V422.2L1025.5 421.8V427.0L1026.0 422.8V420.1L1026.5 422.3V423.6L1027.0 424.2V419.8L1027.5 420.4V422.2L1028.0 423.4V419.0L1028.5 419.4V422.5L1029.0 422.7V417.8L1029.5 421.0V424.6L1030.0 424.1V421.3L1030.5 420.2V424.5L1031.0 422.7V417.0L1031.5 421.7V426.2L1032.0 420.2V419.6L1032.5 418.5V423.0L1033.0 423.5V418.0L1033.5 419.5V423.0L1034.0 421.3V419.7L1034.5 419.0V421.0L1035.0 421.1V418.8L1035.5 418.4V422.8L1036.0 422.9V418.8L1036.5 418.5V422.0L1037.0 420.6V419.2L1037.5 418.9V421.2L1038.0 421.9V419.3L1038.5 421.3V415.5L1039.0 419.3V424.6L1039.5 421.2V417.5L1040.0 419.7V421.4L1040.5 422.5V420.1L1041.0 419.6V416.5L1041.5 417.1V418.2L1042.0 419.4V420.2L1042.5 419.5V423.6L1043.0 423.4V419.6L1043.5 419.4V416.5L1044.0 416.1V421.7L1044.5 420.7V417.7L1045.0 419.5V421.9L1045.5 421.1V418.1L1046.0 418.9V422.5L1046.5 424.9V417.3L1047.0 417.6V419.8L1047.5 421.4V418.0L1048.0 418.0V416.9L1048.5 416.3V418.5L1049.0 415.9V422.1L1049.5 419.7V414.3L1050.0 414.4V420.8L1050.5 421.8V417.6L1051.0 414.6V421.5L1051.5 421.0V413.2L1052.0 415.4V417.8L1052.5 416.1V420.5L1053.0 418.4V413.6L1053.5 418.1V420.1L1054.0 418.1V415.2L1054.5 416.2V419.2L1055.0 418.9V415.3L1055.5 415.7V419.5L1056.0 418.3V415.1L1056.5 414.5V417.7L1057.0 417.6V416.1L1057.5 416.4V413.0L1058.0 414.1V415.9L1058.5 417.7V411.3L1059.0 413.6V420.1L1059.5 413.9V412.3L1060.0 413.6V416.7L1060.5 417.7V413.4L1061.0 414.6V416.8L1061.5 418.2V412.2L1062.0 414.3V418.2L1062.5 417.6V413.9L1063.0 413.2V417.4L1063.5 417.7V414.5L1064.0 413.5V417.2L1064.5 416.8V414.3L1065.0 413.7V417.1L1065.5 417.1V412.5L1066.0 413.9V410.4L1066.5 412.6V416.6L1067.0 413.2V409.2L1067.5 410.3V415.3L1068.0 415.9V410.7L1068.5 410.4V414.4L1069.0 412.5V412.0L1069.5 411.2V415.2L1070.0 414.0V409.1L1070.5 411.3V415.9L1071.0 415.1V412.0L1071.5 413.5V408.3L1072.0 411.7V415.0L1072.5 415.0V413.4L1073.0 412.1V415.5L1073.5 413.4V410.9L1074.0 408.6V415.3L1074.5 415.9V411.9L1075.0 411.2V413.9L1075.5 414.3V410.8L1076.0 411.6V414.2L1076.5 414.4V408.8L1077.0 411.3V414.8L1077.5 414.6V410.2L1078.0 411.2V415.5L1078.5 413.9V409.3L1079.0 411.0V415.1L1079.5 413.9V408.9L1080.0 409.1V412.7L1080.5 412.1V414.1L1081.0 411.6V410.1L1081.5 410.6V414.9L1082.0 413.1V411.4L1082.5 410.6V412.9L1083.0 412.6V409.9L1083.5 411.9V407.4L1084.0 406.9V412.1L1084.5 411.0V409.3L1085.0 408.0V411.6L1085.5 412.1V408.3L1086.0 407.0V412.1L1086.5 413.1V409.8L1087.0 408.1V411.5L1087.5 411.4V408.3L1088.0 408.1V411.2L1088.5 414.4V407.0L1089.0 408.5V412.3L1089.5 411.3V409.3L1090.0 410.7V404.8L1090.5 410.3V412.4L1091.0 410.8V407.8L1091.5 410.2V411.8L1092.0 410.3V407.2L1092.5 407.2V412.6L1093.0 411.2V406.3L1093.5 407.3V409.7L1094.0 409.0V406.7L1094.5 405.3V409.8L1095.0 408.3V405.7L1095.5 407.5V410.4L1096.0 412.6V406.3L1096.5 408.0V410.3L1097.0 407.7V405.2L1097.5 406.9V409.3L1098.0 408.1V407.0L1098.5 406.3V409.0L1099.0 412.3V404.8L1099.5 403.0V410.6L1100.0 412.3V404.9L1100.5 406.2V409.3L1101.0 409.7V405.8L1101.5 405.2V409.8L1102.0 409.9V406.6L1102.5 405.3V408.3L1103.0 408.3V405.2L1103.5 406.1V409.2L1104.0 406.8V403.4L1104.5 404.7V407.7L1105.0 408.9V404.9L1105.5 405.2V407.8L1106.0 407.8V414.9L1106.5 409.4V405.7L1107.0 405.8V410.1L1107.5 409.7V406.3L1108.0 407.0V403.3L1108.5 405.0V407.3L1109.0 409.3V405.1L1109.5 403.8V409.3L1110.0 409.6V406.5L1110.5 406.5V411.2L1111.0 407.4V405.8L1111.5 407.3V410.6L1112.0 409.0V406.7L1112.5 409.1V402.6L1113.0 404.9V405.5L1113.5 404.1V407.9L1114.0 406.8V404.4L1114.5 403.9V405.6L1115.0 404.0V408.3L1115.5 406.2V405.5L1116.0 409.8V401.1L1116.5 401.9V405.3L1117.0 404.2V407.4L1117.5 406.0V404.1L1118.0 405.6V406.5L1118.5 407.9V402.5L1119.0 403.4V406.7L1119.5 406.4V404.9L1120.0 401.7V409.3L1120.5 407.8V401.4L1121.0 401.6V406.0L1121.5 404.5V403.2L1122.0 402.9V405.0L1122.5 404.7V407.1L1123.0 406.9V404.4L1123.5 405.3V401.4L1124.0 400.5V406.0L1124.5 409.8V401.7L1125.0 401.7V407.6L1125.5 409.6V403.8L1126.0 403.2V407.0L1126.5 404.8V402.8L1127.0 402.2V407.2L1127.5 405.3V404.4L1128.0 405.6V400.4L1128.5 403.9V406.5L1129.0 404.5V402.8L1129.5 401.9V406.2L1130.0 405.7V399.8L1130.5 404.4V407.0L1131.0 404.8V402.9L1131.5 403.7V408.9L1132.0 405.2V403.0L1132.5 403.1V407.1L1133.0 404.2V401.5L1133.5 402.4V405.2L1134.0 405.7V402.0L1134.5 400.2V404.2L1135.0 404.9V402.8L1135.5 403.9V400.6L1136.0 401.8V406.0L1136.5 403.5V400.5L1137.0 401.8V403.1L1137.5 404.7V398.7L1138.0 401.2V406.0L1138.5 403.3V398.9L1139.0 401.5V405.0L1139.5 403.5V400.6L1140.0 401.2V402.8L1140.5 403.6V400.3L1141.0 403.3V405.3L1141.5 407.2V402.3L1142.0 401.2V405.2L1142.5 405.6V403.4L1143.0 405.4V401.2L1143.5 403.5V406.3L1144.0 403.2V401.8L1144.5 400.7V405.5L1145.0 403.6V400.6L1145.5 400.1V403.6L1146.0 402.5V405.5L1146.5 403.8V400.5L1147.0 400.7V404.5L1147.5 406.5V402.3L1148.0 400.6V405.9L1148.5 404.6V401.1L1149.0 404.6V406.0L1149.5 407.0V401.0L1150.0 403.6V405.3L1150.5 404.0V400.7L1151.0 402.6V406.9L1151.5 404.7V400.4L1152.0 403.6V404.9L1152.5 406.3V400.0L1153.0 403.0V403.4L1153.5 403.9V401.2L1154.0 401.3V403.4L1154.5 402.8V404.9L1155.0 405.1V402.9L1155.5 402.3V406.5L1156.0 403.5V400.3L1156.5 399.3V405.2L1157.0 405.1V401.7L1157.5 398.8V404.7L1158.0 405.2V401.9L1158.5 401.0V402.9L1159.0 401.2V405.1L1159.5 403.8V402.7L1160.0 404.6V399.2L1160.5 400.6V403.4L1161.0 402.6V404.6L1161.5 404.0V401.5L1162.0 400.8V404.5L1162.5 403.3V401.8L1163.0 401.4V406.8L1163.5 407.0V401.2L1164.0 400.6V405.9L1164.5 406.9V402.5L1165.0 402.0V404.4L1165.5 404.4V400.3L1166.0 400.9V404.9L1166.5 405.5V403.6L1167.0 399.9V407.6L1167.5 406.4V400.4L1168.0 400.6V406.2L1168.5 407.3V400.8L1169.0 401.4V404.3L1169.5 407.3V400.8L1170.0 400.3V405.9L1170.5 404.3V403.6L1171.0 402.8V404.8L1171.5 403.5V400.8L1172.0 400.8V402.2L1172.5 402.5V399.4L1173.0 400.7V403.1L1173.5 405.3V400.5L1174.0 400.0V404.2L1174.5 403.3V401.1L1175.0 401.1V405.6L1175.5 403.0V400.2L1176.0 400.8V402.6L1176.5 401.9V403.8L1177.0 402.9V399.1L1177.5 402.5V406.3L1178.0 403.7V401.3L1178.5 400.9V405.0L1179.0 402.3V398.7L1179.5 401.1V404.1L1180.0 403.7V399.5L1180.5 399.8V404.6L1181.0 404.0V400.5L1181.5 401.8V403.6L1182.0 401.1V406.3L1182.5 403.4V402.3L1183.0 401.3V403.9L1183.5 402.2V407.2L1184.0 404.7V400.2L1184.5 399.6V404.6L1185.0 403.1V399.5L1185.5 400.8V402.4L1186.0 401.8V400.8L1186.5 402.5V403.8L1187.0 405.9V397.8L1187.5 399.8V404.2L1188.0 402.8V401.1L1188.5 403.1V397.5L1189.0 400.8V401.9L1189.5 401.3V404.8L1190.0 404.9V402.4L1190.5 402.1V404.9L1191.0 407.0V400.8L1191.5 400.9V405.4L1192.0 403.9V398.9L1192.5 400.3V404.7L1193.0 402.7V400.3L1193.5 400.7V404.4L1194.0 403.4V401.2L1194.5 401.2V400.1L1195.0 400.7V406.8L1195.5 404.9V379.6L1196.0 399.9V404.2L1196.5 404.2V398.9L1197.0 399.6V405.3L1197.5 403.4V399.9L1198.0 398.9V405.5L1198.5 403.6V399.6L1199.0 403.0V407.1L1199.5 402.5V397.8L1200.0 401.2V404.4L1200.5 405.5V399.5L1201.0 400.3V402.2L1201.5 401.9V403.6L1202.0 404.1V400.0L1202.5 400.1V403.7L1203.0 403.9V399.0L1203.5 399.6V403.5L1204.0 402.1V398.2L1204.5 400.8V404.5L1205.0 405.2V400.6L1205.5 401.1V405.4L1206.0 403.9V400.4L1206.5 401.5V406.5L1207.0 404.0V401.2L1207.5 398.0V404.9L1208.0 405.6V400.3L1208.5 400.0V402.9L1209.0 401.7V406.8L1209.5 404.6V401.5L1210.0 399.0V404.3L1210.5 404.2V402.9L1211.0 403.2V401.4L1211.5 400.0V407.1L1212.0 403.1V400.8L1212.5 401.3V403.7L1213.0 405.4V401.5L1213.5 401.2V403.6L1214.0 403.0V399.9L1214.5 398.7V404.1L1215.0 405.1V398.5L1215.5 399.9V401.0L1216.0 398.9V403.8L1216.5 401.6V397.6L1217.0 399.4V403.9L1217.5 402.5V399.7L1218.0 401.1V398.0L1218.5 400.4V395.4L1219.0 397.3V399.5L1219.5 401.5V394.2L1220.0 395.6V398.4L1220.5 398.3V395.1L1221.0 398.3V399.7L1221.5 398.7V394.1L1222.0 393.5V396.8L1222.5 398.5V395.1L1223.0 394.9V397.4L1223.5 396.4V393.8L1224.0 394.2V397.3L1224.5 398.0V394.2L1225.0 394.5V399.2L1225.5 399.3V395.8L1226.0 395.5V401.1L1226.5 401.1V396.2L1227.0 398.6V402.9L1227.5 402.0V395.6L1228.0 399.0V403.0L1228.5 402.2V399.9L1229.0 398.7V404.4L1229.5 403.3V399.8L1230.0 399.0V402.8L1230.5 403.4V375.3L1231.0 399.9V404.6L1231.5 405.4V398.4L1232.0 400.4V403.5L1232.5 406.1V398.3L1233.0 401.1V403.7L1233.5 402.8V400.5L1234.0 399.4V402.0L1234.5 400.5V406.4L1235.0 405.4V400.1L1235.5 399.4V403.6L1236.0 402.5V398.5L1236.5 399.5V403.9L1237.0 402.6V399.7L1237.5 400.1V402.8L1238.0 403.5V397.1L1238.5 399.5V402.9L1239.0 403.9V399.1L1239.5 399.8V403.6L1240.0 403.0V400.0L1240.5 399.7V403.9L1241.0 404.7V401.6L1241.5 401.2V402.8L1242.0 402.2V404.8L1242.5 405.2V401.9L1243.0 402.8V400.6L1243.5 399.9V404.1L1244.0 403.9V401.8L1244.5 401.2V402.6L1245.0 401.9V404.3L1245.5 402.9V401.6L1246.0 403.9V398.4L1246.5 399.2V404.5L1247.0 402.2V400.7L1247.5 400.6V403.1L1248.0 400.7V406.0L1248.5 403.0V398.2L1249.0 401.1V404.2L1249.5 406.0V399.9L1250.0 401.8V404.9L1250.5 405.1V400.5L1251.0 398.8V402.7L1251.5 401.6V404.8L1252.0 402.4V398.4L1252.5 404.1V405.7L1253.0 404.1V400.4L1253.5 400.9V404.3L1254.0 405.6V402.2L1254.5 400.8V405.1L1255.0 405.2V402.6L1255.5 401.9V404.0L1256.0 406.3V400.5L1256.5 400.4V403.1L1257.0 401.2V406.4L1257.5 404.0V400.8L1258.0 407.2V389.1L1258.5 403.0V404.9L1259.0 407.0V402.4L1259.5 402.5V405.5L1260.0 405.3V408.2L1260.5 404.6L1261.0 403.0V406.5L1261.5 408.4V400.4L1262.0 402.5V405.5L1262.5 405.6V401.8L1263.0 401.5V406.7L1263.5 403.8V401.0L1264.0 400.0V406.2L1264.5 406.3V401.8L1265.0 403.8V407.5L1265.5 406.7V402.9L1266.0 403.6V405.4L1266.5 407.6V402.9L1267.0 406.2V408.5L1267.5 404.6V402.7L1268.0 403.1V405.0L1268.5 401.8V408.2L1269.0 405.1V404.4L1269.5 401.9V408.5L1270.0 407.3V402.3L1270.5 402.2V407.1L1271.0 406.7V402.4L1271.5 402.4V406.4L1272.0 406.2V403.9L1272.5 402.8V406.9L1273.0 406.4V401.6L1273.5 402.6V406.2L1274.0 407.1V404.2L1274.5 405.4V402.8L1275.0 404.9V407.6L1275.5 406.2V403.8L1276.0 404.2V408.3L1276.5 407.0V405.8L1277.0 407.1V403.8L1277.5 405.0V408.2L1278.0 405.7V403.9L1278.5 404.1V405.6L1279.0 405.0V410.0L1279.5 407.8V403.6L1280.0 403.5V406.1L1280.5 406.2V404.0L1281.0 404.7V402.2L1281.5 404.2V406.9L1282.0 406.2V404.8L1282.5 402.9V408.5L1283.0 408.4V404.7L1283.5 405.0V407.2L1284.0 408.4V403.4L1284.5 403.6V408.4L1285.0 407.2V404.9L1285.5 404.0V406.1L1286.0 405.6V408.2L1286.5 407.8V402.3L1287.0 405.7V409.6L1287.5 408.8V406.2L1288.0 405.4V403.7L1288.5 403.7V406.6L1289.0 406.7V402.8L1289.5 403.8V407.8L1290.0 407.4V405.0L1290.5 406.7V402.8L1291.0 404.3V407.4L1291.5 408.7V404.4L1292.0 403.3V407.7L1292.5 406.7V404.4L1293.0 404.7V408.2L1293.5 408.6V405.7L1294.0 402.9V408.9L1294.5 405.9V404.8L1295.0 406.1V402.5L1295.5 401.9V407.4L1296.0 407.2V402.1L1296.5 401.9V404.8L1297.0 405.7V403.2L1297.5 401.1V406.6L1298.0 408.8V403.1L1298.5 405.6V406.7L1299.0 406.8V400.6L1299.5 403.5V407.6L1300.0 405.3V403.5L1300.5 403.8V407.6L1301.0 406.9V404.2L1301.5 404.5V402.8L1302.0 402.9V407.8L1302.5 406.6V403.3L1303.0 400.9V408.5L1303.5 407.0V401.8L1304.0 402.7V406.5L1304.5 407.6V404.0L1305.0 405.0V400.3L1305.5 400.8V407.9L1306.0 404.3V399.3L1306.5 400.3V406.4L1307.0 406.7V400.7L1307.5 400.6V403.5L1308.0 403.4V399.2L1308.5 400.7V407.0L1309.0 406.3V402.0L1309.5 401.5V404.2L1310.0 403.6V399.5L1310.5 401.7V406.4L1311.0 403.9V401.3L1311.5 399.7V405.8L1312.0 402.5V401.6L1312.5 398.7V406.2L1313.0 404.1V402.2L1313.5 399.7V404.7L1314.0 405.0V401.6L1314.5 403.2V399.2L1315.0 403.2V405.7L1315.5 407.0V401.3L1316.0 400.3V406.0L1316.5 404.7V401.1L1317.0 400.6V406.4L1317.5 403.0V400.4L1318.0 401.7V403.3L1318.5 402.2V398.7L1319.0 398.9V404.8L1319.5 404.8V399.3L1320.0 400.3V404.1L1320.5 403.6V401.9L1321.0 403.3V400.1L1321.5 401.7V403.8L1322.0 402.3V398.5L1322.5 399.2V403.2L1323.0 402.9V399.9L1323.5 401.0V396.1L1324.0 399.0V403.9L1324.5 403.2V398.3L1325.0 399.1V403.6L1325.5 403.7V400.1L1326.0 400.6V403.9L1326.5 401.3V398.6L1327.0 397.9V402.1L1327.5 403.8V398.9L1328.0 396.7V402.6L1328.5 401.7V399.2L1329.0 399.9V403.5L1329.5 403.5V402.3L1330.0 402.8V399.6L1330.5 399.4V404.5L1331.0 400.9V398.8L1331.5 399.3V402.7L1332.0 402.6V398.5L1332.5 399.1V402.0L1333.0 403.7V398.8L1333.5 398.2V402.1L1334.0 401.2V398.4L1334.5 398.0V400.9L1335.0 401.1V398.6L1335.5 398.6V403.2L1336.0 400.8V398.6L1336.5 401.5V361.1L1337.0 397.7V402.9L1337.5 402.7V401.2L1338.0 397.6V405.1L1338.5 407.8V402.0L1339.0 399.8V404.9L1339.5 401.3V399.4L1340.0 400.0V403.4L1340.5 405.4V398.0L1341.0 397.9V404.0L1341.5 403.3V399.2L1342.0 399.6V401.4L1342.5 400.6V403.5L1343.0 406.3V398.6L1343.5 401.3V405.1L1344.0 403.2V399.3L1344.5 399.3V406.4L1345.0 402.5V400.4L1345.5 402.6V397.9L1346.0 400.7V403.8L1346.5 400.8V407.2L1347.0 403.7V402.0L1347.5 403.8V399.2L1348.0 400.4V402.5L1348.5 403.3V398.5L1349.0 403.0V407.6L1349.5 404.1V401.0L1350.0 400.0V403.9L1350.5 405.0V400.6L1351.0 401.4V404.3L1351.5 404.9V401.2L1352.0 399.0V404.3L1352.5 404.8V401.7L1353.0 402.4V404.3L1353.5 404.5V402.4L1354.0 402.6V408.6L1354.5 404.4V402.3L1355.0 400.9V405.2L1355.5 408.0V401.4L1356.0 403.7V405.1L1356.5 405.1V402.7L1357.0 404.0V408.4L1357.5 406.7V404.9L1358.0 402.7V407.3L1358.5 405.2V404.8L1359.0 406.4V403.0L1359.5 403.1V408.3L1360.0 406.6V404.1L1360.5 403.7V408.7L1361.0 406.2V401.7L1361.5 401.9V408.9L1362.0 406.8V402.4L1362.5 401.8V409.3L1363.0 405.9V402.6L1363.5 403.4V405.9L1364.0 407.0V403.5L1364.5 404.1V405.7L1365.0 406.4V404.3L1365.5 405.3V407.7L1366.0 407.3V404.7L1366.5 403.3V408.9L1367.0 406.6V404.2L1367.5 405.1V407.3L1368.0 406.9V405.6L1368.5 406.0V409.6L1369.0 408.2V407.1L1369.5 408.3V405.5L1370.0 403.4V409.6L1370.5 407.3V406.2L1371.0 406.5V403.6L1371.5 403.3V408.1L1372.0 408.0V404.7L1372.5 402.5V407.5L1373.0 407.1V404.7L1373.5 404.1V409.0L1374.0 408.5V404.2L1374.5 404.9V408.7L1375.0 410.1V406.3L1375.5 405.4V408.7L1376.0 408.3V406.5L1376.5 408.3V403.8L1377.0 404.0V408.2L1377.5 408.0V404.2L1378.0 405.5V408.8L1378.5 407.9V407.4L1379.0 404.4V411.3L1379.5 409.6V404.9L1380.0 406.2V409.1L1380.5 407.0V404.7L1381.0 404.7V409.3L1381.5 409.7V404.7L1382.0 406.5V408.7L1382.5 410.9V404.7L1383.0 408.6V411.1L1383.5 408.9V406.2L1384.0 409.0V403.2L1384.5 405.9V410.8L1385.0 410.0V409.2L1385.5 409.8V408.5L1386.0 409.7V406.3L1386.5 406.2V408.8L1387.0 408.2V404.4L1387.5 404.9V408.8L1388.0 409.7V407.6L1388.5 408.8V412.0L1389.0 407.8V404.3L1389.5 405.9V406.5L1390.0 407.1V409.9L1390.5 409.9V405.6L1391.0 404.2V407.8L1391.5 408.4V404.9L1392.0 403.3V409.7L1392.5 404.5V402.6L1393.0 402.8V404.5L1393.5 402.0V397.8L1394.0 395.4V400.9L1394.5 398.0V394.7L1395.0 396.0V392.8L1395.5 393.0V396.5L1396.0 395.3V399.3L1396.5 398.6V400.6L1397.0 399.9V406.7L1397.5 405.9V402.8L1398.0 405.7V410.1L1398.5 408.9V405.8L1399.0 403.0V412.2L1399.5 410.0V408.2L1400.0 407.1V410.5L1400.5 408.6V406.4L1401.0 408.4V404.0L1401.5 406.3V409.3L1402.0 408.5V406.6L1402.5 405.6V408.0L1403.0 409.7V403.5L1403.5 406.5V407.5L1404.0 408.2V405.5L1404.5 406.4V409.8L1405.0 409.9V404.7L1405.5 404.4V409.0L1406.0 409.6V406.2L1406.5 406.0V409.4L1407.0 410.5V405.7L1407.5 408.0V410.2L1408.0 411.2V407.3L1408.5 405.4V410.4L1409.0 411.2V407.6L1409.5 407.2V412.8L1410.0 412.2V406.3L1410.5 406.9V411.2L1411.0 408.7V405.9L1411.5 407.2V409.7L1412.0 408.6V406.4L1412.5 407.0V411.3L1413.0 409.5V405.8L1413.5 406.5V410.0L1414.0 411.2V405.0L1414.5 406.6V408.4L1415.0 408.9V404.2L1415.5 406.4V411.1L1416.0 407.8V405.1L1416.5 408.9V410.9L1417.0 407.9V404.2L1417.5 406.1V409.8L1418.0 411.4V406.7L1418.5 406.8V409.0L1419.0 410.4V405.0L1419.5 406.8V410.6L1420.0 411.8V405.2L1420.5 407.5V409.4L1421.0 406.4V414.7L1421.5 409.3V406.3L1422.0 406.6V412.6L1422.5 411.9V408.0L1423.0 407.0V410.7L1423.5 411.2V409.3L1424.0 409.7V407.1L1424.5 409.4V411.7L1425.0 412.2V407.4L1425.5 408.8V411.3L1426.0 409.6V407.5L1426.5 406.2V412.9L1427.0 411.5V407.4L1427.5 408.3V410.3L1428.0 410.2V404.6L1428.5 405.1V406.9L1429.0 406.2V410.0L1429.5 413.0V405.2L1430.0 408.1V411.7L1430.5 412.0V405.8L1431.0 405.9V411.5L1431.5 414.2V407.0L1432.0 405.0V410.2L1432.5 409.1V411.4L1433.0 410.1V408.0L1433.5 408.3V411.5L1434.0 410.8V407.0L1434.5 405.4V409.0L1435.0 408.0V411.6L1435.5 410.2V408.2L1436.0 407.8V409.5L1436.5 412.6V406.3L1437.0 408.8V411.8L1437.5 412.1V408.1L1438.0 408.4V411.4L1438.5 414.2V406.7L1439.0 405.4V410.6L1439.5 413.6V407.4L1440.0 407.8V411.7L1440.5 411.9V409.2L1441.0 407.3V417.4L1441.5 411.0V409.2L1442.0 409.5V411.5L1442.5 414.8V407.3L1443.0 409.5V412.2L1443.5 411.6V413.0L1444.0 413.8V410.0L1444.5 411.0V414.8L1445.0 414.1V410.3L1445.5 409.9V412.5L1446.0 411.3V413.8L1446.5 412.1V409.8L1447.0 409.2V410.6L1447.5 409.9V411.4L1448.0 412.1V407.3L1448.5 411.3V413.8L1449.0 415.4V411.3L1449.5 411.6V408.8L1450.0 411.7V413.9L1450.5 415.5V410.5L1451.0 411.4V412.9L1451.5 414.8V408.8L1452.0 409.0V413.3L1452.5 413.3V410.1L1453.0 409.8V411.6L1453.5 410.9V412.4L1454.0 411.6V414.4L1454.5 414.8V409.7L1455.0 411.6V415.8L1455.5 415.9V411.6L1456.0 413.4V408.1L1456.5 408.9V413.5L1457.0 411.7V409.8L1457.5 410.2V413.8L1458.0 413.4V410.3L1458.5 410.8V414.8L1459.0 411.4V409.2L1459.5 409.2V412.6L1460.0 410.6V408.7L1460.5 409.9V413.6L1461.0 411.6V409.4L1461.5 410.4V413.0L1462.0 412.7V411.0L1462.5 409.8V408.2L1463.0 409.1V412.2L1463.5 412.3V410.9L1464.0 410.3V413.5L1464.5 412.2V409.9L1465.0 411.3V415.1L1465.5 414.4V408.3L1466.0 407.8V411.9L1466.5 412.5V406.9L1467.0 410.3V413.6L1467.5 412.4V407.1L1468.0 411.0V413.5L1468.5 413.9V407.7L1469.0 408.3V411.8L1469.5 411.7V415.6L1470.0 412.6V408.9L1470.5 409.8V414.4L1471.0 413.4V408.5L1471.5 411.3V414.2L1472.0 415.1V411.3L1472.5 410.3V413.7L1473.0 415.1V408.8L1473.5 408.1V412.1L1474.0 411.9V409.9L1474.5 411.1V412.5L1475.0 410.0V415.8L1475.5 415.7V410.8L1476.0 412.6V415.2L1476.5 415.5V412.2L1477.0 412.4V408.3L1477.5 412.4V414.3L1478.0 413.6V409.1L1478.5 409.7V412.7L1479.0 410.2V417.0L1479.5 412.5V404.0L1480.0 411.6V416.0L1480.5 415.0V410.8L1481.0 408.6V415.9L1481.5 412.5V410.9L1482.0 412.9V416.6L1482.5 413.8V411.4L1483.0 410.2V412.8L1483.5 412.7V415.5L1484.0 413.2V411.4L1484.5 411.5V412.8L1485.0 410.5V415.9L1485.5 412.8V410.8L1486.0 410.9V414.5L1486.5 412.7V411.1L1487.0 409.6V415.6L1487.5 412.9V410.6L1488.0 410.8V415.3L1488.5 414.6V411.8L1489.0 410.0V414.4L1489.5 416.5V411.7L1490.0 412.1V413.8L1490.5 413.9V411.8L1491.0 411.3V418.0L1491.5 416.3V413.0L1492.0 414.6V410.9L1492.5 412.7V414.9L1493.0 413.7V416.1L1493.5 415.4V410.3L1494.0 411.2V415.1L1494.5 416.0V389.1L1495.0 412.3V414.0L1495.5 415.2V411.5L1496.0 410.7V415.8L1496.5 413.2V411.4L1497.0 409.9V413.8L1497.5 415.1V411.7L1498.0 413.2V416.7L1498.5 416.9V411.5L1499.0 413.4V414.6L1499.5 414.8V412.0L1500.0 411.7V416.9L1500.5 414.5V412.3L1501.0 411.4V413.6L1501.5 412.6V416.8L1502.0 415.3V413.6L1502.5 413.5V411.8L1503.0 411.0V413.5L1503.5 413.3V418.2L1504.0 415.9V411.8L1504.5 414.7V417.4L1505.0 415.6V410.9L1505.5 413.5V416.1L1506.0 415.9V411.5L1506.5 410.1V416.8L1507.0 417.6V412.1L1507.5 412.5V415.0L1508.0 414.7V412.1L1508.5 411.1V420.6L1509.0 417.7V413.0L1509.5 412.8V416.6L1510.0 415.1V410.9L1510.5 414.5V416.6L1511.0 414.8V413.1L1511.5 414.4V415.2L1512.0 413.6V418.3L1512.5 419.6V414.6L1513.0 417.2V412.0L1513.5 412.6V415.6L1514.0 420.6V410.4L1514.5 414.7V417.2L1515.0 415.3V412.0L1515.5 413.0V416.4L1516.0 416.4V414.6L1516.5 414.2V417.2L1517.0 416.5V415.0L1517.5 415.2V417.9L1518.0 420.2V415.6L1518.5 414.4V417.7L1519.0 418.4V415.0L1519.5 414.9V412.3L1520.0 415.0V415.8L1520.5 418.9V412.0L1521.0 414.8V417.4L1521.5 417.6V415.8L1522.0 414.5V417.7L1522.5 416.9V415.0L1523.0 415.4V417.6L1523.5 416.5V413.7L1524.0 415.4V419.5L1524.5 418.5V414.3L1525.0 411.0V418.2L1525.5 416.4V413.9L1526.0 412.2V417.8L1526.5 418.0V412.5L1527.0 413.4V414.7L1527.5 416.1V411.2L1528.0 415.7V416.4L1528.5 418.0V414.5L1529.0 411.5V418.1L1529.5 416.4V413.2L1530.0 413.6V417.0L1530.5 418.7V414.8L1531.0 414.3V416.5L1531.5 413.5V420.1L1532.0 418.5V414.2L1532.5 414.6V416.9L1533.0 417.2V413.7L1533.5 414.5V419.6L1534.0 418.8V412.4L1534.5 413.0V418.2L1535.0 415.7V414.1L1535.5 414.8V417.6L1536.0 417.9V414.9L1536.5 414.2V419.2L1537.0 419.7V416.2L1537.5 416.9V412.4L1538.0 414.5V417.8L1538.5 416.8V413.3L1539.0 417.0V380.6L1539.5 415.7V418.4L1540.0 416.9V411.6L1540.5 414.5V419.9L1541.0 418.6V413.3L1541.5 414.8V419.2L1542.0 422.1V415.2L1542.5 416.3V419.1L1543.0 418.2V414.9L1543.5 417.5V420.4L1544.0 419.1V412.1L1544.5 416.1V418.1L1545.0 419.8V414.1L1545.5 415.1V417.5L1546.0 418.5V415.4L1546.5 416.3V419.6L1547.0 418.4V415.5L1547.5 418.2V419.1L1548.0 419.5V415.3L1548.5 414.7V418.4L1549.0 418.4V414.8L1549.5 414.5V416.3L1550.0 416.3V419.6L1550.5 419.2V416.3L1551.0 415.0V417.8L1551.5 418.9V414.6L1552.0 414.8V419.7L1552.5 417.5V415.0L1553.0 415.6V419.0L1553.5 418.3V416.3L1554.0 416.4V418.4L1554.5 418.0V414.3L1555.0 414.8V418.3L1555.5 416.8V413.5L1556.0 415.7V418.6L1556.5 418.6V414.7L1557.0 415.4V419.4L1557.5 417.1V413.9L1558.0 414.2V418.3L1558.5 419.9V415.5L1559.0 417.2V419.0L1559.5 419.0V414.7L1560.0 415.2V419.8L1560.5 417.9V415.1L1561.0 417.4V421.4L1561.5 419.0V416.0L1562.0 418.6V422.4L1562.5 418.9V413.9L1563.0 416.1V418.6L1563.5 420.7V415.3L1564.0 416.3V420.8L1564.5 418.6V417.0L1565.0 417.1V422.1L1565.5 419.6V417.4L1566.0 416.3V419.1L1566.5 421.1V416.7L1567.0 417.4V419.8L1567.5 419.7V417.1L1568.0 418.2V421.9L1568.5 416.6V415.1L1569.0 416.3V418.9L1569.5 419.6V414.8L1570.0 413.2V418.0L1570.5 418.0V420.2L1571.0 418.8V416.2L1571.5 417.4V417.8L1572.0 416.7V420.0L1572.5 420.0V414.5L1573.0 415.1V422.1L1573.5 416.7V415.1L1574.0 417.1V420.9L1574.5 419.3V416.2L1575.0 417.3V421.1L1575.5 421.9V417.8L1576.0 418.1V416.7L1576.5 415.9V419.0L1577.0 419.3V415.8L1577.5 418.4V420.0L1578.0 419.4V416.6L1578.5 416.5V421.1L1579.0 420.2V417.1L1579.5 416.6V420.8L1580.0 420.7V415.0L1580.5 417.8V420.2L1581.0 418.8V415.3L1581.5 416.3V419.0L1582.0 421.8V414.0L1582.5 413.2V418.5L1583.0 418.8V414.7L1583.5 415.0V417.7L1584.0 417.3V420.8L1584.5 419.9V418.6L1585.0 418.7V417.2L1585.5 418.0V421.4L1586.0 420.1V417.5L1586.5 418.6V420.2L1587.0 422.5V414.0L1587.5 416.3V423.1L1588.0 421.0V418.7L1588.5 419.6V417.0L1589.0 417.6V419.2L1589.5 419.7V417.5L1590.0 415.8V420.2L1590.5 423.0V416.8L1591.0 415.5V421.4L1591.5 421.6V415.2L1592.0 417.0V421.9L1592.5 420.0V415.6L1593.0 417.8V421.0L1593.5 422.7V418.5L1594.0 419.2V420.7L1594.5 419.7V422.0L1595.0 422.3V419.5L1595.5 422.0V416.1L1596.0 417.2V420.5L1596.5 420.2V417.0L1597.0 416.2V420.6L1597.5 421.4V419.5L1598.0 418.7V422.3L1598.5 420.8V417.7L1599.0 419.1V422.0L1599.5 421.9V418.4L1600.0 418.2V421.6L1600.5 422.5V419.0L1601.0 418.4V422.6L1601.5 422.4V417.5L1602.0 417.7V422.6L1602.5 420.5V419.4L1603.0 418.3V421.8L1603.5 422.3V415.5L1604.0 419.1V424.2L1604.5 421.2V416.6L1605.0 418.9V421.2L1605.5 419.9V418.8L1606.0 416.7V421.1L1606.5 420.3V416.7L1607.0 418.5V420.7L1607.5 419.6V417.2L1608.0 417.5V419.8L1608.5 419.2V422.4L1609.0 421.2V418.1L1609.5 416.7V420.5L1610.0 421.5V418.9L1610.5 419.1V420.3L1611.0 420.1V416.6L1611.5 415.0V418.5L1612.0 419.3V420.8L1612.5 421.2V418.9L1613.0 417.7V423.6L1613.5 422.6V418.6L1614.0 416.0V422.3L1614.5 422.5V419.5L1615.0 417.5V423.3L1615.5 423.4V418.8L1616.0 419.4V422.3L1616.5 422.7V419.2L1617.0 416.1V422.9L1617.5 422.1V421.5L1618.0 421.5V419.2L1618.5 420.5V417.7L1619.0 419.0V420.2L1619.5 421.4V417.1L1620.0 419.2V422.5L1620.5 419.7V416.3L1621.0 416.8V420.7L1621.5 419.0V417.7"/>
<path class="c" stroke="#0000ff" d="M973.0 409.2L973.0 409.2V410.8L973.5 410.8V414.8L974.0 409.9V406.2L974.5 409.6V412.2L975.0 411.4V409.3L975.5 409.3V411.6L976.0 412.2V409.7L976.5 407.6V412.6L977.0 409.9V407.7L977.5 408.3V411.1L978.0 411.6V407.9L978.5 405.5V411.5L979.0 410.0V407.8L979.5 407.5V409.6L980.0 412.3V405.4L980.5 408.4V411.7L981.0 411.6V407.1L981.5 406.7V410.4L982.0 412.5V407.2L982.5 407.3V410.3L983.0 412.3V404.4L983.5 406.3V408.8L984.0 408.1V406.6L984.5 407.4V409.0L985.0 408.9V406.2L985.5 404.3V410.4L986.0 408.6V406.3L986.5 404.8V409.4L987.0 406.9V404.0L987.5 405.0V408.0L988.0 409.2V405.2L988.5 405.5V407.6L989.0 406.7V404.0L989.5 405.4V407.6L990.0 405.5V401.9L990.5 402.3V407.0L991.0 408.8V401.8L991.5 405.6V408.1L992.0 411.8V404.2L992.5 407.3V401.0L993.0 403.3V407.6L993.5 405.8V403.4L994.0 402.9V406.6L994.5 407.5V402.0L995.0 403.5V405.7L995.5 407.2V403.9L996.0 404.5V403.2L996.5 402.5V404.5L997.0 405.0V401.3L997.5 402.5V406.6L998.0 404.6V400.2L998.5 401.2V414.3L999.0 403.9V401.8L999.5 401.9V404.4L1000.0 404.0V401.8L1000.5 400.9V403.7L1001.0 402.7V407.6L1001.5 404.1V400.3L1002.0 401.4V398.8L1002.5 401.7V403.9L1003.0 403.3V401.2L1003.5 400.9V399.5L1004.0 399.0V404.6L1004.5 403.1V400.9L1005.0 403.3V405.4L1005.5 404.5V401.0L1006.0 399.9V403.0L1006.5 404.3V398.0L1007.0 399.4V405.8L1007.5 401.5V399.9L1008.0 400.2V401.6L1008.5 400.7V403.2L1009.0 402.6V400.0L1009.5 400.7V405.2L1010.0 403.2V398.4L1010.5 399.9V400.3L1011.0 401.0V396.8L1011.5 400.7V403.1L1012.0 402.1V397.7L1012.5 399.9V401.7L1013.0 404.1V397.0L1013.5 396.0V401.1L1014.0 402.3V399.0L1014.5 400.6V397.1L1015.0 396.1V400.4L1015.5 399.2V397.6L1016.0 396.4V400.7L1016.5 400.7V398.3L1017.0 397.7V400.3L1017.5 400.2V396.5L1018.0 397.2V395.0L1018.5 394.2V397.9L1019.0 398.0V396.4L1019.5 395.8V398.9L1020.0 396.9V396.0L1020.5 395.7V399.0L1021.0 399.3V394.5L1021.5 395.9V397.9L1022.0 399.0V396.4L1022.5 394.2V399.5L1023.0 398.4V394.0L1023.5 395.7V396.3L1024.0 398.1V394.1L1024.5 394.8V396.2L1025.0 394.9V397.7L1025.5 397.2V393.9L1026.0 393.6V396.8L1026.5 395.1V391.6L1027.0 391.5V397.2L1027.5 398.1V389.7L1028.0 392.9V399.2L1028.5 397.1V394.1L1029.0 393.9V394.3L1029.5 393.8V397.5L1030.0 397.5V392.7L1030.5 392.5V393.2L1031.0 393.0V395.5L1031.5 394.3V390.0L1032.0 393.0V403.9L1032.5 393.5V391.2L1033.0 390.5V395.2L1033.5 392.9V388.2L1034.0 390.9V393.7L1034.5 391.7V396.0L1035.0 392.8V390.3L1035.5 389.7V392.5L1036.0 392.1V388.8L1036.5 388.4V392.7L1037.0 392.6V388.9L1037.5 389.5V392.1L1038.0 391.2V388.3L1038.5 390.2V393.2L1039.0 391.0V395.4L1039.5 392.9V390.4L1040.0 389.8V391.3L1040.5 389.6V386.8L1041.0 388.9V392.9L1041.5 392.2V387.9L1042.0 388.2V388.8L1042.5 387.6V391.2L1043.0 390.4V389.3L1043.5 390.9V386.5L1044.0 387.6V391.8L1044.5 392.1V385.2L1045.0 387.0V391.2L1045.5 390.1V388.5L1046.0 389.6V384.3L1046.5 385.9V389.2L1047.0 388.8V385.1L1047.5 388.7V389.8L1048.0 389.9V386.6L1048.5 386.7V387.9L1049.0 388.6V385.8L1049.5 386.7V387.5L1050.0 387.8V391.0L1050.5 389.6V386.7L1051.0 385.4V388.2L1051.5 388.3V386.5L1052.0 385.1V383.1L1052.5 381.4V387.8L1053.0 384.9V383.5L1053.5 382.7V385.4L1054.0 386.5V383.5L1054.5 382.4V386.2L1055.0 384.5V382.3L1055.5 382.4V385.7L1056.0 384.2V381.6L1056.5 381.4V384.9L1057.0 385.2V382.9L1057.5 381.9V384.4L1058.0 385.1V383.1L1058.5 382.4V386.3L1059.0 384.2V382.7L1059.5 382.9V379.7L1060.0 380.5V384.9L1060.5 386.0V383.4L1061.0 383.3V381.8L1061.5 382.6V379.9L1062.0 378.4V383.7L1062.5 384.1V378.3L1063.0 377.4V382.8L1063.5 385.6V379.8L1064.0 379.2V383.4L1064.5 383.7V379.3L1065.0 379.7V393.6L1065.5 382.3V378.8L1066.0 377.9V380.8L1066.5 379.3V383.1L1067.0 381.3V379.3L1067.5 378.8V380.2L1068.0 380.4V379.6L1068.5 380.1V376.7L1069.0 378.2V380.5L1069.5 380.8V376.1L1070.0 378.8V380.6L1070.5 378.8V377.2L1071.0 377.2V380.4L1071.5 381.7V377.5L1072.0 376.2V379.7L1072.5 377.7V374.5L1073.0 377.3V379.4L1073.5 378.3V374.0L1074.0 372.8V379.2L1074.5 379.9V373.0L1075.0 375.1V376.9L1075.5 378.2V375.1L1076.0 375.0V377.9L1076.5 377.4V373.1L1077.0 375.5V378.7L1077.5 378.4V374.6L1078.0 373.5V377.5L1078.5 377.8V374.2L1079.0 373.6V378.0L1079.5 377.8V372.9L1080.0 375.0V379.0L1080.5 376.0V374.2L1081.0 373.2V377.2L1081.5 375.2V373.2L1082.0 374.9V377.1L1082.5 376.1V371.6L1083.0 370.8V377.0L1083.5 373.6V372.0L1084.0 372.7V379.3L1084.5 378.0V370.5L1085.0 372.0V375.8L1085.5 377.5V371.5L1086.0 371.8V376.3L1086.5 373.2V372.5L1087.0 374.6V369.5L1087.5 369.9V372.4L1088.0 373.5V368.1L1088.5 370.1V372.4L1089.0 372.5V376.4L1089.5 373.4V368.5L1090.0 369.8V372.4L1090.5 371.6V373.6L1091.0 374.9V371.5L1091.5 368.8V374.5L1092.0 375.7V367.6L1092.5 370.3V374.3L1093.0 371.7V369.8L1093.5 369.1V371.9L1094.0 371.6V369.4L1094.5 368.9V373.7L1095.0 372.0V369.3L1095.5 367.7V371.1L1096.0 373.7V366.3L1096.5 370.6V374.6L1097.0 369.3V368.1L1097.5 367.5V373.4L1098.0 370.6V366.8L1098.5 368.0V381.3L1099.0 370.8V368.3L1099.5 368.8V370.8L1100.0 370.6V368.8L1100.5 367.7V370.0L1101.0 368.0V372.1L1101.5 369.6V366.4L1102.0 369.8V370.9L1102.5 372.8V367.8L1103.0 367.3V370.5L1103.5 370.1V368.7L1104.0 366.7V370.8L1104.5 370.0V366.3L1105.0 364.9V369.2L1105.5 368.6V366.1L1106.0 365.9V369.8L1106.5 368.0V366.6L1107.0 366.9V366.3L1107.5 366.2V371.0L1108.0 369.7V365.6L1108.5 367.4V362.4L1109.0 365.1V369.1L1109.5 367.6V365.4L1110.0 365.3V368.0L1110.5 369.2V364.8L1111.0 364.5V368.8L1111.5 368.8V363.7L1112.0 367.1V369.8L1112.5 367.9V364.7L1113.0 363.3V367.2L1113.5 366.7V365.0L1114.0 365.0V367.1L1114.5 367.0V364.4L1115.0 366.6V361.4L1115.5 363.8V366.5L1116.0 367.9V362.9L1116.5 362.2V367.1L1117.0 365.0V361.5L1117.5 363.8V367.0L1118.0 364.5V362.9L1118.5 365.2V366.9L1119.0 365.6V360.0L1119.5 363.2V366.4L1120.0 365.4V362.5L1120.5 361.7V363.8L1121.0 362.8V365.7L1121.5 364.2V362.0L1122.0 363.1V365.6L1122.5 365.5V362.1L1123.0 361.3V366.2L1123.5 363.7V360.5L1124.0 361.8V366.2L1124.5 364.3V358.6L1125.0 359.4V363.8L1125.5 363.6V360.9L1126.0 360.6V364.0L1126.5 366.6V360.5L1127.0 359.7V365.2L1127.5 365.8V361.6L1128.0 361.0V363.8L1128.5 362.7V365.7L1129.0 364.3V362.6L1129.5 361.8V370.2L1130.0 363.0V361.7L1130.5 362.7V360.1L1131.0 361.6V357.9L1131.5 360.6V364.1L1132.0 362.8V361.0L1132.5 360.5V362.2L1133.0 362.4V359.2L1133.5 360.7V361.4L1134.0 363.1V359.1L1134.5 358.0V361.4L1135.0 360.3V359.2L1135.5 358.1V361.3L1136.0 361.5V358.9L1136.5 356.8V361.3L1137.0 362.6V359.4L1137.5 357.9V361.1L1138.0 360.4V357.6L1138.5 357.2V361.3L1139.0 363.4V357.4L1139.5 357.3V361.3L1140.0 358.9V357.5L1140.5 359.8V362.3L1141.0 360.9V357.3L1141.5 354.6V360.2L1142.0 359.3V356.2L1142.5 356.9V358.6L1143.0 359.3V357.7L1143.5 357.5V361.2L1144.0 358.9V356.4L1144.5 356.2V359.2L1145.0 358.3V356.8L1145.5 357.4V360.7L1146.0 359.6V356.0L1146.5 355.2V360.4L1147.0 358.2V355.0L1147.5 355.6V357.8L1148.0 357.5V354.3L1148.5 355.5V359.9L1149.0 356.9V355.2L1149.5 354.3V358.9L1150.0 359.2V355.6L1150.5 355.2V359.8L1151.0 360.7V357.7L1151.5 357.9V361.2L1152.0 359.8V356.8L1152.5 357.2V354.5L1153.0 354.7V358.7L1153.5 360.9V355.7L1154.0 353.4V360.3L1154.5 356.6V352.9L1155.0 355.5V357.3L1155.5 356.8V352.9L1156.0 354.7V356.4L1156.5 356.5V353.7L1157.0 353.1V358.4L1157.5 356.7V354.9L1158.0 355.4V352.4L1158.5 352.8V357.9L1159.0 357.2V355.2L1159.5 353.4V359.6L1160.0 358.5V353.1L1160.5 353.2V355.9L1161.0 356.1V354.5L1161.5 354.0V358.6L1162.0 357.2V354.1L1162.5 354.4V369.2L1163.0 355.4V353.4L1163.5 354.0V360.7L1164.0 354.8V354.0L1164.5 354.3V356.2L1165.0 357.7V353.4L1165.5 353.1V355.8L1166.0 355.8V353.3L1166.5 352.4V358.3L1167.0 356.2V354.8L1167.5 356.2V351.6L1168.0 353.0V356.0L1168.5 357.5V354.2L1169.0 353.5V356.2L1169.5 356.8V353.3L1170.0 352.4V355.2L1170.5 355.0V356.3L1171.0 357.1V353.0L1171.5 352.8V357.1L1172.0 354.4V352.0L1172.5 351.9V357.6L1173.0 356.7V350.4L1173.5 352.6V355.6L1174.0 354.9V356.7L1174.5 357.9V353.1L1175.0 354.8V357.5L1175.5 356.4V355.3L1176.0 357.9V352.2L1176.5 355.1V356.4L1177.0 357.8V352.7L1177.5 352.6V354.5L1178.0 355.6V351.6L1178.5 351.9V356.2L1179.0 356.2V351.0L1179.5 352.4V356.1L1180.0 356.6V354.3L1180.5 355.5V350.3L1181.0 353.8V357.1L1181.5 356.4V352.1L1182.0 353.5V357.6L1182.5 355.4V354.4L1183.0 355.3V358.4L1183.5 355.5V351.8L1184.0 352.1V356.9L1184.5 357.1V353.6L1185.0 351.0V358.4L1185.5 355.5V353.7L1186.0 352.5V355.9L1186.5 355.5V353.0L1187.0 352.5V357.5L1187.5 355.6V353.2L1188.0 353.9V356.7L1188.5 358.8V353.6L1189.0 353.8V356.2L1189.5 357.0V351.1L1190.0 352.3V355.3L1190.5 355.9V353.1L1191.0 353.5V356.2L1191.5 357.5V353.8L1192.0 356.7V350.7L1192.5 354.4V355.8L1193.0 355.8V350.2L1193.5 354.2V357.2L1194.0 354.7V353.1L1194.5 351.3V361.7L1195.0 355.8V352.9L1195.5 352.6V355.9L1196.0 357.7V351.9L1196.5 351.5V356.0L1197.0 356.9V350.8L1197.5 353.3V357.6L1198.0 355.9V354.0L1198.5 352.1V356.8L1199.0 357.3V353.5L1199.5 353.6V352.5L1200.0 352.0V355.5L1200.5 355.1V351.8L1201.0 352.3V358.9L1201.5 355.0V353.8L1202.0 356.4V357.3L1202.5 356.5V353.0L1203.0 354.0V356.0L1203.5 356.1V353.5L1204.0 353.7V357.5L1204.5 358.1V354.5L1205.0 353.0V358.4L1205.5 356.4V352.8L1206.0 355.6V357.6L1206.5 355.8V353.8L1207.0 352.8V355.3L1207.5 357.6V352.7L1208.0 353.2V357.1L1208.5 357.2V353.0L1209.0 354.2V357.1L1209.5 356.4V353.9L1210.0 354.2V357.3L1210.5 357.7V354.2L1211.0 354.6V355.5L1211.5 355.3V351.8L1212.0 352.1V358.4L1212.5 359.4V356.2L1213.0 356.3V354.5L1213.5 352.9V357.5L1214.0 355.9V354.5L1214.5 354.9V358.5L1215.0 357.0V355.6L1215.5 356.0V354.6L1216.0 354.5V356.2L1216.5 358.5V352.3L1217.0 353.9V355.7L1217.5 354.7V357.1L1218.0 357.3V352.7L1218.5 356.2V359.5L1219.0 357.4V354.7L1219.5 354.9V360.3L1220.0 359.2V354.7L1220.5 354.5V359.1L1221.0 359.0V355.6L1221.5 355.5V359.1L1222.0 358.3V355.1L1222.5 355.8V357.2L1223.0 358.6V352.9L1223.5 358.1V360.2L1224.0 357.7V356.1L1224.5 356.4V358.8L1225.0 358.8V357.6L1225.5 360.8V354.2L1226.0 356.5V375.6L1226.5 360.4V353.7L1227.0 354.5V359.2L1227.5 359.6V355.4L1228.0 358.0V360.0L1228.5 360.6V359.0L1229.0 361.0V356.8L1229.5 356.4V359.5L1230.0 359.1V360.8L1230.5 362.0V355.9L1231.0 358.1V358.5L1231.5 358.1V359.2L1232.0 360.0V358.3L1232.5 360.3V354.8L1233.0 356.8V357.8L1233.5 358.3V355.9L1234.0 356.8V360.8L1234.5 359.7V356.4L1235.0 354.1V359.3L1235.5 361.3V356.9L1236.0 356.6V360.4L1236.5 359.4V363.4L1237.0 360.5V357.7L1237.5 358.0V364.1L1238.0 363.5V359.3L1238.5 359.8V358.8L1239.0 358.2V360.7L1239.5 359.9V362.9L1240.0 361.6V358.4L1240.5 358.0V360.8L1241.0 362.9V356.5L1241.5 359.0V361.3L1242.0 361.3V358.1L1242.5 357.7V362.0L1243.0 361.8V358.8L1243.5 358.8V363.2L1244.0 362.1V360.6L1244.5 359.8V363.1L1245.0 361.2V358.2L1245.5 360.2V363.0L1246.0 362.3V360.0L1246.5 359.2V362.8L1247.0 362.4V358.4L1247.5 360.0V364.7L1248.0 363.9V360.8L1248.5 358.2V364.3L1249.0 364.8V362.9L1249.5 364.3V360.9L1250.0 363.1V358.7L1250.5 361.2V363.0L1251.0 364.0V360.0L1251.5 361.9V364.7L1252.0 363.4V366.1L1252.5 367.9V361.8L1253.0 364.2V364.6L1253.5 363.9V366.0L1254.0 364.7V362.3L1254.5 360.8V365.3L1255.0 364.9V361.9L1255.5 362.9V364.7L1256.0 363.2V368.0L1256.5 364.1V362.9L1257.0 364.6V367.7L1257.5 373.4V361.2L1258.0 364.3V369.1L1258.5 365.9V363.6L1259.0 363.3V367.5L1259.5 367.0V360.9L1260.0 362.7V364.9L1260.5 367.1V362.3L1261.0 363.7V366.0L1261.5 365.8V364.3L1262.0 366.7V367.9L1262.5 366.3V370.2L1263.0 368.9V364.6L1263.5 365.6V368.2L1264.0 369.0V365.8L1264.5 367.6V363.1L1265.0 366.8V368.5L1265.5 368.6V364.5L1266.0 365.1V367.4L1266.5 366.6V368.4L1267.0 368.0V366.2L1267.5 367.3V371.1L1268.0 368.6V367.8L1268.5 369.8V365.0L1269.0 364.5V366.9L1269.5 366.2V367.7L1270.0 369.2V364.8L1270.5 367.7V368.7L1271.0 369.6V367.1L1271.5 365.8V371.2L1272.0 369.8V364.6L1272.5 368.2V369.8L1273.0 371.6V367.8L1273.5 366.8V371.3L1274.0 371.5V370.3L1274.5 368.4V376.6L1275.0 371.4V366.0L1275.5 366.9V374.0L1276.0 369.9V367.2L1276.5 367.7V370.8L1277.0 372.1V367.5L1277.5 370.2V371.8L1278.0 370.5V368.6L1278.5 368.6V374.9L1279.0 372.8V368.6L1279.5 367.7V372.3L1280.0 372.8V370.1L1280.5 368.6V373.1L1281.0 371.8V367.4L1281.5 369.0V374.7L1282.0 370.8V369.1L1282.5 370.0V372.6L1283.0 372.5V368.9L1283.5 370.7V372.8L1284.0 373.8V369.5L1284.5 371.3V372.9L1285.0 372.3V370.0L1285.5 368.4V375.8L1286.0 371.1V370.4L1286.5 368.7V372.6L1287.0 374.4V369.1L1287.5 370.3V374.0L1288.0 372.3V370.1L1288.5 371.6V376.5L1289.0 377.7V369.9L1289.5 369.6V374.1L1290.0 371.5V370.7L1290.5 371.1V374.7L1291.0 373.1V371.1L1291.5 371.0V374.9L1292.0 373.9V370.4L1292.5 373.4V374.8L1293.0 373.8V375.7L1293.5 375.0V370.9L1294.0 370.5V375.3L1294.5 376.2V374.3L1295.0 373.5V375.6L1295.5 374.5V371.1L1296.0 373.6V375.8L1296.5 376.3V372.9L1297.0 371.9V376.4L1297.5 376.0V373.6L1298.0 373.4V377.7L1298.5 375.9V372.8L1299.0 374.2V377.1L1299.5 375.9V373.5L1300.0 374.6V378.1L1300.5 373.9V371.8L1301.0 372.3V376.7L1301.5 376.7V372.8L1302.0 373.7V376.2L1302.5 375.6V374.4L1303.0 376.0V371.6L1303.5 372.0V375.5L1304.0 377.4V371.7L1304.5 373.6V376.3L1305.0 375.8V373.3L1305.5 374.3V376.2L1306.0 375.6V373.2L1306.5 371.2V376.1L1307.0 376.5V373.6L1307.5 375.6V377.4L1308.0 376.6V374.2L1308.5 372.7V376.7L1309.0 378.4V372.7L1309.5 372.8V376.0L1310.0 376.3V374.0L1310.5 374.5V376.4L1311.0 376.8V373.3L1311.5 372.2V375.3L1312.0 377.8V372.4L1312.5 374.8V379.0L1313.0 378.0V372.9L1313.5 373.4V377.5L1314.0 377.3V373.4L1314.5 375.5V377.2L1315.0 378.9V375.2L1315.5 375.0V377.5L1316.0 376.6V374.3L1316.5 374.3V378.1L1317.0 377.4V373.8L1317.5 373.6V378.5L1318.0 378.6V374.7L1318.5 374.1V376.4L1319.0 374.3V388.9L1319.5 377.9V373.9L1320.0 375.9V377.2L1320.5 376.7V374.4L1321.0 376.5V378.1L1321.5 380.0V375.2L1322.0 374.7V379.0L1322.5 379.5V375.5L1323.0 375.0V378.6L1323.5 377.6V375.9L1324.0 374.3V378.8L1324.5 379.2V374.3L1325.0 375.6V378.7L1325.5 378.3V376.7L1326.0 375.5V379.2L1326.5 377.8V374.5L1327.0 375.1V376.8L1327.5 377.3V375.9L1328.0 375.3V379.9L1328.5 379.5V375.6L1329.0 375.6V378.2L1329.5 380.6V375.7L1330.0 373.6V379.2L1330.5 380.0V374.6L1331.0 376.6V382.2L1331.5 380.3V377.9L1332.0 377.9V380.3L1332.5 380.8V374.4L1333.0 373.5V382.1L1333.5 377.1V374.4L1334.0 377.5V381.4L1334.5 381.0V376.6L1335.0 377.1V380.0L1335.5 380.1V376.1L1336.0 377.1V379.3L1336.5 381.1V376.9L1337.0 377.5V383.1L1337.5 380.3V378.7L1338.0 378.6V380.9L1338.5 379.4V378.0L1339.0 377.4V381.5L1339.5 381.2V380.0L1340.0 380.6V376.9L1340.5 379.9V380.4L1341.0 383.8V375.8L1341.5 378.9V381.2L1342.0 382.1V379.3L1342.5 379.7V381.3L1343.0 382.0V380.0L1343.5 379.2V381.6L1344.0 382.9V378.9L1344.5 378.6V383.3L1345.0 382.4V380.0L1345.5 379.4V385.1L1346.0 383.4V378.6L1346.5 379.0V383.5L1347.0 381.0V378.5L1347.5 379.2V383.5L1348.0 382.0V379.3L1348.5 379.9V382.6L1349.0 385.0V377.9L1349.5 380.6V384.9L1350.0 380.8V394.2L1350.5 382.7V379.8L1351.0 381.6V384.2L1351.5 383.9V379.6L1352.0 380.1V382.4L1352.5 382.3V385.1L1353.0 385.0V382.1L1353.5 381.2V383.6L1354.0 382.0V380.5L1354.5 381.0V383.7L1355.0 383.9V380.0L1355.5 379.6V384.5L1356.0 383.1V381.7L1356.5 380.9V385.1L1357.0 383.2V381.0L1357.5 380.9V384.0L1358.0 384.8V380.2L1358.5 378.6V385.4L1359.0 385.1V381.7L1359.5 380.0V385.3L1360.0 383.9V380.5L1360.5 381.9V383.9L1361.0 384.3V380.3L1361.5 381.5V384.9L1362.0 384.3V381.0L1362.5 381.7V388.4L1363.0 385.2V380.5L1363.5 380.5V383.8L1364.0 386.0V381.5L1364.5 380.9V383.7L1365.0 385.9V381.5L1365.5 380.0V385.5L1366.0 385.8V381.3L1366.5 381.7V388.2L1367.0 384.5V381.3L1367.5 382.4V384.6L1368.0 384.0V385.9L1368.5 386.2V383.1L1369.0 381.0V386.1L1369.5 385.7V381.5L1370.0 382.4V385.0L1370.5 384.8V381.8L1371.0 382.7V385.9L1371.5 385.3V383.4L1372.0 384.9V381.1L1372.5 380.6V385.3L1373.0 383.5V381.7L1373.5 381.9V385.1L1374.0 385.8V382.0L1374.5 381.9V385.5L1375.0 384.3V383.2L1375.5 383.7V384.9L1376.0 383.5V381.3L1376.5 382.5V385.2L1377.0 385.2V383.0L1377.5 382.3V386.1L1378.0 387.8V383.7L1378.5 384.7V387.2L1379.0 388.0V384.9L1379.5 387.2V382.6L1380.0 383.0V387.3L1380.5 384.2V393.2L1381.0 387.4V384.1L1381.5 381.0V388.1L1382.0 387.9V384.3L1382.5 384.5V387.8L1383.0 385.8V383.7L1383.5 384.4V385.5L1384.0 384.3V386.7L1384.5 389.5V382.5L1385.0 381.0V385.1L1385.5 386.2V382.8L1386.0 385.2V386.3L1386.5 386.7V383.9L1387.0 386.3V381.1L1387.5 383.1V384.2L1388.0 382.9V386.1L1388.5 386.0V382.8L1389.0 384.4V388.4L1389.5 387.8V382.6L1390.0 382.9V385.8L1390.5 386.7V384.2L1391.0 383.7V386.5L1391.5 386.4V384.8L1392.0 385.2V387.2L1392.5 385.9V384.3L1393.0 384.8V386.6L1393.5 384.6V390.8L1394.0 390.8V384.7L1394.5 384.3V387.9L1395.0 387.8V384.3L1395.5 385.2V386.7L1396.0 385.9V389.8L1396.5 390.1V384.4L1397.0 385.2V388.1L1397.5 387.3V386.2L1398.0 388.1V382.5L1398.5 384.2V388.9L1399.0 388.9V387.3L1399.5 387.5V389.1L1400.0 389.5V386.2L1400.5 385.6V386.8L1401.0 387.0V388.8L1401.5 390.3V386.7L1402.0 386.0V388.6L1402.5 389.8V387.0L1403.0 388.4V384.9L1403.5 386.1V389.9L1404.0 390.6V386.7L1404.5 385.9V390.5L1405.0 391.5V385.4L1405.5 385.7V390.2L1406.0 389.3V384.0L1406.5 385.7V389.1L1407.0 389.6V385.7L1407.5 387.1V389.5L1408.0 388.6V386.2L1408.5 386.8V388.7L1409.0 388.8V386.6L1409.5 389.3V391.9L1410.0 386.1V399.6L1410.5 389.8V383.9L1411.0 384.4V388.3L1411.5 389.6V385.0L1412.0 385.3V388.0L1412.5 388.2V390.0L1413.0 391.4V387.5L1413.5 384.6V390.7L1414.0 390.7V388.6L1414.5 388.5V391.1L1415.0 391.1V388.0L1415.5 388.9V394.9L1416.0 390.1V388.2L1416.5 388.2V393.7L1417.0 392.8V389.6L1417.5 390.0V388.2L1418.0 388.1V390.8L1418.5 390.7V393.7L1419.0 392.7V389.3L1419.5 388.3V390.4L1420.0 391.3V387.6L1420.5 387.7V391.8L1421.0 392.2V386.8L1421.5 390.4V393.0L1422.0 391.5V388.1L1422.5 386.8V392.7L1423.0 390.8V389.0L1423.5 390.6V392.7L1424.0 394.7V389.3L1424.5 389.1V391.1L1425.0 391.4V389.3L1425.5 389.1V393.1L1426.0 394.1V389.0L1426.5 390.0V393.1L1427.0 394.4V388.2L1427.5 388.2V392.7L1428.0 389.7V387.3L1428.5 389.6V393.3L1429.0 392.0V390.3L1429.5 390.2V391.4L1430.0 393.2V395.8L1430.5 394.0V390.2L1431.0 389.9V394.8L1431.5 392.8V391.4L1432.0 391.9V395.1L1432.5 394.7V391.9L1433.0 390.0V399.0L1433.5 394.8V389.3L1434.0 392.9V393.7L1434.5 393.4V395.3L1435.0 395.8V391.5L1435.5 391.9V396.1L1436.0 394.3V390.4L1436.5 392.9V394.9L1437.0 395.3V392.2L1437.5 393.2V390.8L1438.0 390.2V394.6L1438.5 395.7V391.5L1439.0 393.5V389.4L1439.5 391.1V393.7L1440.0 391.5V401.7L1440.5 394.0V392.5L1441.0 392.3V395.1L1441.5 396.5V392.7L1442.0 395.2V389.9L1442.5 390.1V395.4L1443.0 395.1V392.1L1443.5 390.9V394.4L1444.0 393.5V391.9L1444.5 392.2V396.1L1445.0 396.8V393.2L1445.5 392.8V395.0L1446.0 395.6V392.6L1446.5 392.9V396.1L1447.0 396.5V395.3L1447.5 395.6V393.1L1448.0 394.4V394.9L1448.5 394.6V397.4L1449.0 397.7V393.5L1449.5 393.9V398.8L1450.0 398.6V393.9L1450.5 393.9V397.4L1451.0 396.6V395.0L1451.5 394.2V397.3L1452.0 398.3V395.7L1452.5 396.8V392.7L1453.0 393.9V399.1L1453.5 397.7V392.9L1454.0 394.6V398.5L1454.5 397.4V396.1L1455.0 395.7V397.9L1455.5 398.4V394.9L1456.0 394.5V399.5L1456.5 399.4V397.1L1457.0 396.1V398.5L1457.5 396.4V393.1L1458.0 395.8V399.0L1458.5 398.9V394.6L1459.0 393.2V399.4L1459.5 398.9V394.3L1460.0 397.0V398.6L1460.5 398.1V396.0L1461.0 396.0V393.3L1461.5 395.4V402.3L1462.0 399.2V396.6L1462.5 396.0V398.6L1463.0 398.8V395.8L1463.5 397.9V393.3L1464.0 394.3V396.5L1464.5 396.3V393.1L1465.0 395.1V396.9L1465.5 397.8V394.1L1466.0 396.0V398.8L1466.5 396.9V394.5L1467.0 395.5V398.1L1467.5 399.3V394.4L1468.0 394.5V400.5L1468.5 404.0V394.7L1469.0 394.6V399.5L1469.5 397.9V395.2L1470.0 396.2V399.5L1470.5 398.2V395.4L1471.0 395.8V398.5L1471.5 399.2V394.4L1472.0 395.7V397.7L1472.5 396.7V399.7L1473.0 398.1V395.5L1473.5 394.3V400.2L1474.0 397.5V396.7L1474.5 396.6V401.6L1475.0 398.6V396.0L1475.5 397.0V399.3L1476.0 399.0V394.5L1476.5 396.3V399.0L1477.0 399.4V394.9L1477.5 396.2V397.6L1478.0 397.9V400.3L1478.5 400.1V396.6L1479.0 395.8V400.8L1479.5 401.8V396.7L1480.0 397.5V399.7L1480.5 399.5V395.3L1481.0 395.6V400.5L1481.5 398.9V396.9L1482.0 397.0V399.4L1482.5 399.6V394.4L1483.0 396.4V399.3L1483.5 400.3V394.6L1484.0 394.4V398.8L1484.5 400.0V397.4L1485.0 398.5V394.9L1485.5 395.8V400.1L1486.0 400.7V396.6L1486.5 397.6V399.7L1487.0 400.8V398.3L1487.5 397.3V401.0L1488.0 401.7V396.7L1488.5 398.3V402.5L1489.0 400.4V397.5L1489.5 397.7V400.3L1490.0 400.9V398.6L1490.5 397.5V400.2L1491.0 398.5V402.5L1491.5 399.1V394.9L1492.0 397.7V401.0L1492.5 400.5V398.5L1493.0 397.8V404.3L1493.5 398.5V396.6L1494.0 397.2V398.6L1494.5 397.5V400.8L1495.0 399.9V396.7L1495.5 398.1V402.2L1496.0 401.1V397.2L1496.5 396.2V401.3L1497.0 401.5V395.9L1497.5 396.3V400.1L1498.0 399.9V398.3L1498.5 399.2V410.6L1499.0 402.5V398.2L1499.5 399.4V401.0L1500.0 402.5V397.9L1500.5 399.5V402.7L1501.0 399.7V397.1L1501.5 400.1V400.7L1502.0 401.7V398.9L1502.5 397.2V402.5L1503.0 400.1V397.8L1503.5 396.6V401.6L1504.0 400.7V398.8L1504.5 397.7V403.4L1505.0 403.0V399.6L1505.5 397.6V402.6L1506.0 403.3V399.3L1506.5 399.5V401.6L1507.0 402.0V400.3L1507.5 400.8V399.3L1508.0 398.7V402.3L1508.5 402.7V400.2L1509.0 400.8V398.8L1509.5 397.8V401.8L1510.0 402.0V398.7L1510.5 400.1V402.8L1511.0 402.7V401.8L1511.5 400.9V403.8L1512.0 403.1V401.1L1512.5 401.0V400.6L1513.0 398.3V403.4L1513.5 403.0V399.6L1514.0 400.0V401.9L1514.5 404.0V399.2L1515.0 397.7V403.1L1515.5 403.8V399.5L1516.0 399.7V403.3L1516.5 403.7V406.2L1517.0 403.0V401.3L1517.5 401.2V404.4L1518.0 405.6V401.4L1518.5 399.9V403.8L1519.0 404.9V400.8L1519.5 400.3V407.7L1520.0 404.9V400.2L1520.5 400.9V403.9L1521.0 403.9V401.1L1521.5 402.0V406.3L1522.0 405.3V400.3L1522.5 401.0V405.9L1523.0 405.6V400.8L1523.5 401.6V404.2L1524.0 402.3V400.8L1524.5 398.3V405.5L1525.0 402.2V400.4L1525.5 400.2V403.0L1526.0 405.8V400.0L1526.5 400.1V409.6L1527.0 404.3V401.0L1527.5 402.2V405.8L1528.0 403.8V402.2L1528.5 403.6V399.7L1529.0 401.3V404.0L1529.5 403.7V404.9L1530.0 402.0V399.4L1530.5 401.6V404.9L1531.0 404.7V399.5L1531.5 403.1V404.4L1532.0 402.9V401.8L1532.5 400.3V404.0L1533.0 402.8V400.7L1533.5 402.5V404.8L1534.0 404.8V402.2L1534.5 403.0V405.4L1535.0 405.4V400.2L1535.5 400.3V405.5L1536.0 405.7V401.7L1536.5 402.6V404.9L1537.0 404.1V401.9L1537.5 401.7V404.6L1538.0 405.7V402.6L1538.5 402.3V405.4L1539.0 403.4V401.1L1539.5 403.3V405.5L1540.0 406.4V401.7L1540.5 403.5V404.9L1541.0 402.2V408.1L1541.5 407.8V402.6L1542.0 402.4V405.9L1542.5 407.5V403.2L1543.0 402.1V404.6L1543.5 404.2V402.1L1544.0 405.0V408.6L1544.5 404.2V402.6L1545.0 402.4V406.4L1545.5 408.2V402.1L1546.0 402.8V404.3L1546.5 402.7V406.0L1547.0 404.9V403.0L1547.5 403.9V404.3L1548.0 405.0V406.4L1548.5 407.5V405.1L1549.0 403.9V408.6L1549.5 407.8V405.0L1550.0 403.2V407.2L1550.5 405.8V408.9L1551.0 408.7V403.9L1551.5 402.6V405.4L1552.0 404.4V409.2L1552.5 407.0V403.8L1553.0 403.9V407.9L1553.5 404.8V401.1L1554.0 402.8V406.4L1554.5 403.6V413.8L1555.0 406.7V403.5L1555.5 404.7V406.7L1556.0 407.3V404.0L1556.5 403.3V408.1L1557.0 408.2V404.7L1557.5 405.0V407.5L1558.0 408.6V405.2L1558.5 404.8V409.1L1559.0 408.8V405.1L1559.5 405.6V410.7L1560.0 408.3V404.8L1560.5 404.5V408.7L1561.0 408.8V406.2L1561.5 405.7V409.3L1562.0 410.2V407.3L1562.5 407.7V404.8L1563.0 404.2V407.2L1563.5 407.6V405.4L1564.0 405.9V409.0L1564.5 409.8V405.5L1565.0 406.3V409.7L1565.5 411.4V406.9L1566.0 404.3V409.6L1566.5 410.4V404.2L1567.0 408.0V411.9L1567.5 410.9V408.9L1568.0 408.7V407.8L1568.5 409.3V405.5L1569.0 407.7V409.5L1569.5 410.4V405.7L1570.0 406.9V407.9L1570.5 406.9V411.8L1571.0 408.7V405.8L1571.5 405.7V408.2L1572.0 408.4V405.5L1572.5 406.6V409.1L1573.0 409.5V405.0L1573.5 405.9V410.2L1574.0 408.8V407.4L1574.5 406.2V409.6L1575.0 411.7V405.8L1575.5 405.5V410.5L1576.0 410.0V404.6L1576.5 407.5V411.3L1577.0 411.2V408.3L1577.5 407.9V409.2L1578.0 410.4V406.8L1578.5 406.2V411.0L1579.0 409.8V406.8L1579.5 405.0V409.7L1580.0 409.1V406.6L1580.5 408.3V413.2L1581.0 411.0V408.5L1581.5 409.3V412.4L1582.0 411.9V406.8L1582.5 408.2V412.1L1583.0 415.9V406.9L1583.5 407.5V409.6L1584.0 409.6V407.4L1584.5 406.1V409.9L1585.0 410.7V406.9L1585.5 409.2V410.4L1586.0 412.2V406.4L1586.5 405.7V412.7L1587.0 411.3V406.5L1587.5 406.7V408.5L1588.0 409.4V405.0L1588.5 406.8V413.2L1589.0 409.4V406.4L1589.5 409.1V413.0L1590.0 412.5V406.8L1590.5 408.2V410.0L1591.0 407.5V412.5L1591.5 411.9V409.6L1592.0 408.2V412.6L1592.5 411.4V406.5L1593.0 407.0V411.3L1593.5 409.6V407.0L1594.0 409.6V411.7L1594.5 411.5V407.1L1595.0 407.4V411.4L1595.5 411.0V407.2L1596.0 408.1V411.8L1596.5 409.4V409.0L1597.0 410.9V406.7L1597.5 407.0V411.9L1598.0 411.3V408.2L1598.5 407.5V412.4L1599.0 411.3V409.3L1599.5 410.0V408.4L1600.0 407.9V411.2L1600.5 409.9V407.5L1601.0 409.1V411.3L1601.5 410.6V407.5L1602.0 406.6V410.5L1602.5 411.5V407.3L1603.0 407.3V410.6L1603.5 409.1V407.8L1604.0 408.1V410.5L1604.5 410.4V406.2L1605.0 407.5V410.0L1605.5 411.3V407.7L1606.0 407.4V411.4L1606.5 412.7V409.2L1607.0 409.3V406.3L1607.5 410.8V412.9L1608.0 411.5V410.5L1608.5 409.8V409.0L1609.0 411.3V405.6L1609.5 408.9V410.6L1610.0 408.8V419.1L1610.5 413.5V407.4L1611.0 408.7V411.4L1611.5 412.0V408.6L1612.0 410.6V413.1L1612.5 413.2V408.5L1613.0 407.7V413.7L1613.5 409.7V406.6L1614.0 409.0V409.4L1614.5 408.8V412.9L1615.0 412.6V409.1L1615.5 409.8V415.0L1616.0 414.6V410.7L1616.5 411.4V409.7L1617.0 407.3V412.4L1617.5 411.9V413.7L1618.0 413.7V408.8L1618.5 409.0V414.1L1619.0 412.7V409.1L1619.5 410.2V412.5L1620.0 411.1V407.9L1620.5 410.3V410.7L1621.0 411.9V413.3L1621.5 414.0V410.6"/>
<path class="c" stroke="#008080" d="M973.0 372.5L973.0 372.5V373.7L973.5 373.5V369.3L974.0 369.3V372.5L974.5 371.1V374.7L975.0 374.2V370.6L975.5 369.4V372.9L976.0 372.6V369.8L976.5 369.1V374.2L977.0 375.1V368.5L977.5 371.3V373.8L978.0 373.5V370.0L978.5 369.6V371.8L979.0 370.5V373.4L979.5 371.6V369.1L980.0 369.9V372.4L980.5 373.2V369.9L981.0 367.9V372.8L981.5 373.7V369.9L982.0 368.9V374.1L982.5 374.9V370.3L983.0 368.3V374.5L983.5 375.8V369.2L984.0 371.2V373.7L984.5 376.1V371.0L985.0 370.1V374.1L985.5 374.2V371.1L986.0 371.1V373.4L986.5 374.8V369.3L987.0 371.4V373.2L987.5 372.6V368.2L988.0 369.5V372.7L988.5 371.0V368.1L989.0 369.6V371.7L989.5 372.0V367.7L990.0 369.2V370.9L990.5 370.1V373.4L991.0 372.8V368.6L991.5 368.1V373.1L992.0 373.9V370.6L992.5 371.2V374.6L993.0 372.5V370.1L993.5 368.1V374.1L994.0 370.6V368.2L994.5 369.3V372.6L995.0 372.2V369.5L995.5 368.8V374.5L996.0 375.5V368.2L996.5 367.6V374.5L997.0 372.3V368.5L997.5 369.5V372.4L998.0 372.0V370.4L998.5 370.1V366.3L999.0 366.7V373.1L999.5 372.4V367.5L1000.0 367.9V371.6L1000.5 371.2V366.4L1001.0 367.7V370.7L1001.5 371.6V367.6L1002.0 368.1V373.6L1002.5 370.6V368.8L1003.0 368.3V369.9L1003.5 369.0V367.7L1004.0 367.7V370.0L1004.5 371.4V367.2L1005.0 369.3V370.4L1005.5 370.0V371.4L1006.0 370.5V367.1L1006.5 368.3V370.0L1007.0 369.3V366.4L1007.5 367.3V370.0L1008.0 370.2V366.9L1008.5 369.1V370.5L1009.0 371.3V367.0L1009.5 366.7V372.0L1010.0 371.0V368.0L1010.5 369.3V370.4L1011.0 369.3V366.1L1011.5 366.2V369.2L1012.0 368.6V371.5L1012.5 372.6V367.9L1013.0 367.5V369.2L1013.5 370.3V368.1L1014.0 368.2V372.2L1014.5 371.1V368.0L1015.0 368.4V370.7L1015.5 371.9V367.1L1016.0 368.0V373.4L1016.5 370.7V368.4L1017.0 368.1L1017.5 368.7V370.3L1018.0 370.5V367.1L1018.5 369.5V370.6L1019.0 370.5V366.7L1019.5 364.9V370.1L1020.0 370.7V367.5L1020.5 367.1V369.6L1021.0 370.4V365.2L1021.5 364.6V370.1L1022.0 370.0V365.2L1022.5 364.8V369.7L1023.0 367.5V364.7L1023.5 366.0V367.3L1024.0 367.9V362.7L1024.5 365.4V367.3L1025.0 368.3V364.8L1025.5 366.2V368.5L1026.0 368.0V365.8L1026.5 367.7V363.8L1027.0 365.2V367.6L1027.5 367.9V364.3L1028.0 363.1V368.3L1028.5 369.5V366.7L1029.0 367.5V364.3L1029.5 366.4V369.1L1030.0 366.0V363.6L1030.5 363.7V368.0L1031.0 366.7V360.9L1031.5 362.9V367.9L1032.0 365.9V374.2L1032.5 368.4V365.8L1033.0 367.0V363.6L1033.5 363.2V366.1L1034.0 364.7V367.9L1034.5 366.4V361.5L1035.0 363.0V368.6L1035.5 364.5V362.1L1036.0 362.5V367.5L1036.5 365.6V359.8L1037.0 362.4V365.8L1037.5 367.4V362.7L1038.0 361.9V364.1L1038.5 365.5V362.1L1039.0 362.6V366.0L1039.5 365.5V362.8L1040.0 359.5V367.8L1040.5 365.0V361.9L1041.0 360.6V363.4L1041.5 362.4V365.4L1042.0 365.4V362.4L1042.5 360.3V366.0L1043.0 364.6V360.3L1043.5 360.5V363.7L1044.0 363.1V361.5L1044.5 359.9V363.3L1045.0 364.7V359.8L1045.5 360.6V366.6L1046.0 364.1V359.8L1046.5 357.7V362.5L1047.0 363.9V359.6L1047.5 360.2V362.5L1048.0 363.1V357.2L1048.5 359.8V362.5L1049.0 361.8V356.3L1049.5 359.1V361.7L1050.0 362.7V360.1L1050.5 359.9V360.4L1051.0 360.5V358.8L1051.5 356.5V361.1L1052.0 361.6V358.0L1052.5 355.8V360.5L1053.0 361.0V358.3L1053.5 356.1V361.2L1054.0 360.4V358.0L1054.5 359.5V362.7L1055.0 360.8V356.4L1055.5 358.3V361.4L1056.0 361.4V356.4L1056.5 355.2V359.7L1057.0 358.9V357.8L1057.5 358.3V355.5L1058.0 359.2V361.8L1058.5 359.2V358.0L1059.0 356.5V359.6L1059.5 359.4V357.9L1060.0 357.1V360.3L1060.5 360.2V356.9L1061.0 356.7V359.9L1061.5 358.7V356.6L1062.0 357.3V359.4L1062.5 359.4V356.3L1063.0 356.0V361.0L1063.5 359.9V355.7L1064.0 354.8V358.6L1064.5 357.8V354.0L1065.0 356.8V362.2L1065.5 360.0V358.1L1066.0 358.1V356.3L1066.5 359.1V353.3L1067.0 357.6V359.5L1067.5 357.7V355.6L1068.0 353.3V358.3L1068.5 357.5V355.2L1069.0 353.9V357.6L1069.5 357.1V353.0L1070.0 353.7V356.3L1070.5 354.2V358.8L1071.0 362.6V352.0L1071.5 353.7V355.8L1072.0 358.1V351.8L1072.5 352.2V355.2L1073.0 355.5V352.6L1073.5 353.8V356.6L1074.0 357.2V355.3L1074.5 353.3V357.7L1075.0 353.9V350.1L1075.5 352.1V354.4L1076.0 355.9V353.0L1076.5 351.5V354.4L1077.0 353.6V352.0L1077.5 351.7V354.5L1078.0 355.1V352.6L1078.5 351.8V355.9L1079.0 355.9V350.7L1079.5 351.2V356.3L1080.0 354.1V353.2L1080.5 353.7V352.3L1081.0 353.3V356.7L1081.5 356.2V350.1L1082.0 350.2V352.7L1082.5 354.6V350.5L1083.0 349.6V351.7L1083.5 353.1V348.7L1084.0 351.9V354.3L1084.5 354.0V349.9L1085.0 350.3V354.0L1085.5 353.9V349.4L1086.0 347.0V353.5L1086.5 351.6V346.7L1087.0 350.3V353.3L1087.5 353.4V348.2L1088.0 349.7V354.7L1088.5 353.6V347.5L1089.0 347.5V353.6L1089.5 351.6V348.1L1090.0 348.5V350.4L1090.5 350.2V345.9L1091.0 348.6V350.9L1091.5 349.5V345.9L1092.0 347.4V348.9L1092.5 348.8V345.9L1093.0 346.2V347.9L1093.5 346.0V351.2L1094.0 349.1V344.3L1094.5 343.8V348.2L1095.0 348.3V347.3L1095.5 348.6V345.9L1096.0 343.6V351.2L1096.5 347.8V345.6L1097.0 347.5V350.1L1097.5 347.9V344.3L1098.0 344.5V348.2L1098.5 346.8V342.5L1099.0 344.2V347.6L1099.5 345.4V342.7L1100.0 343.4V349.4L1100.5 346.7V345.6L1101.0 347.6V343.4L1101.5 344.4V348.7L1102.0 346.6V343.9L1102.5 341.6V347.8L1103.0 345.8V340.8L1103.5 343.9V346.6L1104.0 343.8V341.7L1104.5 341.0V344.8L1105.0 343.4V347.7L1105.5 343.9V341.5L1106.0 340.7V344.9L1106.5 344.8V342.8L1107.0 341.6V344.6L1107.5 343.8V341.6L1108.0 340.7V343.6L1108.5 344.7V341.2L1109.0 340.1V344.4L1109.5 345.0V340.4L1110.0 339.7V344.0L1110.5 344.6V341.4L1111.0 339.8V347.3L1111.5 344.1V339.2L1112.0 338.4V347.2L1112.5 343.2V339.4L1113.0 338.3V345.4L1113.5 343.1V340.5L1114.0 339.9V343.5L1114.5 343.0V341.5L1115.0 342.6V345.8L1115.5 344.4V340.1L1116.0 338.8V342.8L1116.5 344.3V340.7L1117.0 341.7V337.2L1117.5 339.8V342.6L1118.0 340.8V335.5L1118.5 336.2V342.1L1119.0 343.3V338.5L1119.5 336.7V341.7L1120.0 341.5V335.3L1120.5 337.8V341.5L1121.0 340.9V339.5L1121.5 339.1V342.1L1122.0 342.8V340.1L1122.5 339.1V335.3L1123.0 333.6V342.7L1123.5 339.2V334.4L1124.0 334.9V342.0L1124.5 340.1V336.2L1125.0 335.2V344.6L1125.5 340.8V336.1L1126.0 334.8V339.1L1126.5 341.7V336.4L1127.0 335.2V337.7L1127.5 336.6V334.0L1128.0 337.9V339.1L1128.5 339.7V338.3L1129.0 338.5V334.5L1129.5 331.8V343.4L1130.0 340.5V336.9L1130.5 336.8V334.9L1131.0 335.1V336.6L1131.5 336.0V338.9L1132.0 339.3V335.1L1132.5 334.9V338.7L1133.0 337.3V334.5L1133.5 331.3V338.2L1134.0 336.7V334.2L1134.5 332.6V336.3L1135.0 336.5V335.3L1135.5 333.1V338.5L1136.0 338.9V329.4L1136.5 333.0V334.3L1137.0 332.8V329.1L1137.5 330.8V336.6L1138.0 336.3V330.5L1138.5 332.9V334.6L1139.0 336.5V330.8L1139.5 328.9V334.9L1140.0 333.5V330.2L1140.5 329.4V334.1L1141.0 332.1V330.8L1141.5 331.3V332.5L1142.0 334.4V328.7L1142.5 330.1V333.8L1143.0 335.9V330.9L1143.5 332.6V328.2L1144.0 331.3V335.9L1144.5 333.8V330.4L1145.0 331.4V329.0L1145.5 329.5V334.0L1146.0 329.1V327.0L1146.5 327.1V330.6L1147.0 330.4V332.7L1147.5 329.5V327.7L1148.0 327.1V329.3L1148.5 328.7V332.5L1149.0 329.9V327.7L1149.5 327.2V328.7L1150.0 327.8V332.0L1150.5 328.7V326.1L1151.0 328.4V330.1L1151.5 331.9V328.1L1152.0 325.9V325.6L1152.5 325.5V329.4L1153.0 330.4V325.2L1153.5 326.6V328.2L1154.0 327.6V323.7L1154.5 323.6V328.1L1155.0 329.2V326.8L1155.5 325.9V327.8L1156.0 326.7V323.9L1156.5 325.1V329.6L1157.0 332.1V321.7L1157.5 322.4V327.0L1158.0 325.3V323.2L1158.5 322.9V329.3L1159.0 329.8V321.6L1159.5 324.0V325.9L1160.0 327.9V323.9L1160.5 323.8V328.3L1161.0 329.7V324.6L1161.5 325.6V322.5L1162.0 323.1V327.2L1162.5 327.4V323.8L1163.0 324.3V322.9L1163.5 322.9V328.2L1164.0 325.8V320.4L1164.5 321.3V324.1L1165.0 324.1V326.5L1165.5 324.9V321.5L1166.0 319.9V324.1L1166.5 324.5V319.2L1167.0 319.9V324.4L1167.5 326.1V321.9L1168.0 325.5V318.2L1168.5 319.3V323.3L1169.0 323.0V319.5L1169.5 319.2V323.3L1170.0 323.1V319.4L1170.5 321.1V324.8L1171.0 322.2V317.8L1171.5 320.6V321.8L1172.0 322.5V319.7L1172.5 322.4V316.2L1173.0 316.9V321.0L1173.5 319.4V314.3L1174.0 319.3V320.3L1174.5 322.1V316.4L1175.0 316.6V319.8L1175.5 321.0V316.8L1176.0 316.6V321.1L1176.5 320.4V317.2L1177.0 317.6V320.7L1177.5 318.4V316.4L1178.0 314.6V319.8L1178.5 318.6V315.5L1179.0 313.8V317.6L1179.5 316.0V320.2L1180.0 316.5V314.2L1180.5 312.6V317.6L1181.0 318.7V313.8L1181.5 315.1V317.0L1182.0 317.2V313.7L1182.5 314.9V317.8L1183.0 320.7V313.2L1183.5 315.1V317.2L1184.0 317.1V314.7L1184.5 313.5V317.9L1185.0 315.9V312.9L1185.5 314.0V317.5L1186.0 316.8V311.6L1186.5 312.4V320.7L1187.0 316.7V315.5L1187.5 313.2V318.6L1188.0 319.6V314.5L1188.5 316.7V311.2L1189.0 312.7V318.0L1189.5 315.2V313.1L1190.0 315.0V316.4L1190.5 316.9V311.2L1191.0 311.9V316.2L1191.5 317.7V309.7L1192.0 310.3V314.5L1192.5 317.7V311.2L1193.0 307.9V315.6L1193.5 313.1V312.2L1194.0 311.6V313.4L1194.5 312.3V318.8L1195.0 313.2V312.1L1195.5 312.3V312.6L1196.0 314.0V309.6L1196.5 306.6V318.2L1197.0 314.4V309.3L1197.5 309.2V312.4L1198.0 315.4V308.9L1198.5 309.1V312.9L1199.0 315.1V309.0L1199.5 309.4V312.2L1200.0 311.3V309.3L1200.5 310.0V313.0L1201.0 314.7V309.6L1201.5 312.0V316.6L1202.0 310.8V309.2L1202.5 309.1V311.4L1203.0 313.6V308.3L1203.5 308.3V313.3L1204.0 314.3V308.0L1204.5 306.9V313.3L1205.0 312.3V309.3L1205.5 305.7V314.1L1206.0 313.2V306.9L1206.5 307.2V312.0L1207.0 310.6V308.0L1207.5 307.7V313.9L1208.0 311.1V305.8L1208.5 308.8V311.5L1209.0 313.2V307.9L1209.5 305.1V313.0L1210.0 310.0V307.4L1210.5 305.4V312.7L1211.0 312.1V305.0L1211.5 305.9V310.6L1212.0 307.4V305.4L1212.5 302.8V310.1L1213.0 310.2V306.7L1213.5 306.6V309.5L1214.0 309.9V304.0L1214.5 306.5V308.9L1215.0 312.8V304.9L1215.5 305.3V308.5L1216.0 307.9V305.9L1216.5 307.2V310.8L1217.0 309.0V307.1L1217.5 306.5V307.9L1218.0 310.0V304.9L1218.5 306.2V310.7L1219.0 308.5V303.4L1219.5 306.9V312.6L1220.0 309.4V305.6L1220.5 305.6V309.2L1221.0 309.2V305.4L1221.5 306.8V303.3L1222.0 306.0V307.7L1222.5 307.4V306.6L1223.0 308.6V303.4L1223.5 303.2V307.4L1224.0 308.6V303.0L1224.5 304.0V307.1L1225.0 309.2V303.8L1225.5 303.7V310.5L1226.0 308.5V305.7L1226.5 303.6V307.9L1227.0 308.4V305.4L1227.5 305.7V302.5L1228.0 303.9V307.3L1228.5 308.6V303.7L1229.0 302.4V307.0L1229.5 308.6V303.0L1230.0 302.6V305.9L1230.5 307.2V303.4L1231.0 303.1V306.4L1231.5 306.2V302.8L1232.0 304.5V308.5L1232.5 305.1V304.1L1233.0 303.4V306.7L1233.5 305.9V302.8L1234.0 302.2V303.8L1234.5 303.0V306.0L1235.0 304.8V300.9L1235.5 302.1V305.0L1236.0 305.0V302.8L1236.5 303.2V305.7L1237.0 306.2V302.7L1237.5 303.0V304.1L1238.0 305.1V300.5L1238.5 300.3V305.9L1239.0 305.2V301.9L1239.5 303.1V306.8L1240.0 305.2V304.4L1240.5 306.6V300.0L1241.0 301.3V305.7L1241.5 306.5V302.6L1242.0 304.1V306.5L1242.5 308.7V303.0L1243.0 303.3V305.3L1243.5 305.3V302.7L1244.0 304.6V305.9L1244.5 306.5V303.5L1245.0 303.1V306.4L1245.5 304.2V302.0L1246.0 305.2V307.1L1246.5 306.5V303.9L1247.0 304.4V301.8L1247.5 301.2V306.7L1248.0 308.8V301.2L1248.5 302.7V303.7L1249.0 304.4V308.0L1249.5 305.6V300.6L1250.0 302.1V309.5L1250.5 305.8V303.6L1251.0 305.0V302.0L1251.5 299.4V307.1L1252.0 308.4V302.0L1252.5 301.5V307.0L1253.0 303.7V301.2L1253.5 302.0V305.6L1254.0 303.9V299.7L1254.5 301.6V307.0L1255.0 305.2V300.1L1255.5 300.0V301.3L1256.0 301.2V302.7L1256.5 301.4V305.4L1257.0 303.9V301.2L1257.5 301.4V303.7L1258.0 304.4V306.1L1258.5 305.9V301.1L1259.0 299.5V307.6L1259.5 306.5V301.0L1260.0 302.1V304.3L1260.5 304.0V307.7L1261.0 306.0V302.0L1261.5 301.8V305.9L1262.0 306.0V303.5L1262.5 304.7V308.3L1263.0 309.2V300.1L1263.5 305.5V310.0L1264.0 310.7V305.4L1264.5 304.1V307.7L1265.0 308.5V302.4L1265.5 304.7V306.3L1266.0 306.9V301.8L1266.5 301.5V305.3L1267.0 305.8V301.6L1267.5 302.6V305.3L1268.0 305.4V304.7L1268.5 306.6V300.8L1269.0 302.9V305.6L1269.5 306.2V301.0L1270.0 304.8V307.2L1270.5 304.9V302.2L1271.0 301.6V308.8L1271.5 305.9V304.4L1272.0 304.2V306.7L1272.5 302.8V310.8L1273.0 307.9V303.1L1273.5 303.6V304.2L1274.0 301.7V307.9L1274.5 309.5V304.6L1275.0 305.7V306.9L1275.5 306.1V308.9L1276.0 305.2V301.6L1276.5 301.8V307.8L1277.0 308.1V301.7L1277.5 304.2V308.5L1278.0 309.7V304.3L1278.5 306.7V299.7L1279.0 301.8V310.2L1279.5 307.8V304.8L1280.0 303.5V309.6L1280.5 309.8V305.4L1281.0 300.9V313.8L1281.5 308.7V306.0L1282.0 306.4V302.7L1282.5 302.6V305.4L1283.0 308.0V302.1L1283.5 302.2V308.6L1284.0 306.7V303.4L1284.5 306.8V300.1L1285.0 302.9V310.0L1285.5 305.2V303.3L1286.0 302.3V305.5L1286.5 303.6V309.1L1287.0 307.9V304.3L1287.5 304.8V307.7L1288.0 308.0V302.5L1288.5 300.4V305.7L1289.0 303.9V315.7L1289.5 308.3V304.1L1290.0 305.4V308.4L1290.5 306.5V303.7L1291.0 304.7V308.6L1291.5 309.5V303.2L1292.0 302.7V310.2L1292.5 310.0V304.9L1293.0 303.9V308.4L1293.5 308.4V306.8L1294.0 309.4V303.8L1294.5 304.6V308.2L1295.0 307.8V304.7L1295.5 300.8V310.0L1296.0 311.4V304.1L1296.5 305.5V310.4L1297.0 309.0V305.5L1297.5 304.1V309.8L1298.0 309.6V304.2L1298.5 304.0V309.3L1299.0 307.7V302.4L1299.5 302.7V307.8L1300.0 308.7V304.0L1300.5 304.1V309.4L1301.0 307.5V311.8L1301.5 309.5V306.7L1302.0 307.7V308.4L1302.5 310.5V304.3L1303.0 303.7V306.4L1303.5 307.9V304.4L1304.0 304.8V310.3L1304.5 312.2V307.3L1305.0 307.1V302.1L1305.5 306.9V308.7L1306.0 307.3V302.1L1306.5 305.7V308.9L1307.0 309.3V307.8L1307.5 307.6V305.1L1308.0 305.6V310.1L1308.5 311.6V305.6L1309.0 304.5V311.1L1309.5 310.7V305.5L1310.0 308.1V311.5L1310.5 309.8V304.3L1311.0 303.9V306.7L1311.5 305.3V310.3L1312.0 312.4V307.4L1312.5 305.8V311.3L1313.0 311.3V304.4L1313.5 304.3V310.0L1314.0 309.8V306.7L1314.5 308.9V304.4L1315.0 304.1V311.1L1315.5 309.0V305.4L1316.0 304.8V309.7L1316.5 308.3V303.3L1317.0 306.8V309.3L1317.5 306.6V305.4L1318.0 306.1V311.0L1318.5 312.6V304.8L1319.0 306.9V317.7L1319.5 310.7V305.8L1320.0 306.7V309.7L1320.5 310.8V304.0L1321.0 308.8V312.2L1321.5 309.4V306.4L1322.0 305.5V309.0L1322.5 307.2V303.8L1323.0 308.1V310.3L1323.5 308.8V301.8L1324.0 307.2V308.5L1324.5 308.9V303.5L1325.0 301.8V305.9L1325.5 306.6V309.0L1326.0 308.8V305.0L1326.5 305.9V311.5L1327.0 309.6V306.3L1327.5 304.1V311.0L1328.0 310.3V306.1L1328.5 303.4V311.9L1329.0 309.4V307.1L1329.5 309.6V304.1L1330.0 301.3V309.8L1330.5 309.5V304.3L1331.0 302.2V307.4L1331.5 307.3V310.0L1332.0 310.2V307.8L1332.5 309.4V302.6L1333.0 305.8V309.6L1333.5 307.6V307.0L1334.0 305.7V311.1L1334.5 309.5V304.7L1335.0 306.0V311.7L1335.5 308.5V307.4L1336.0 306.0V311.5L1336.5 309.9V307.2L1337.0 310.6V302.8L1337.5 307.4V310.0L1338.0 311.0V305.3L1338.5 304.4V308.5L1339.0 306.3V313.0L1339.5 309.1V303.8L1340.0 306.0V312.3L1340.5 310.4V306.3L1341.0 305.8V311.5L1341.5 309.1V308.2L1342.0 309.7V306.4L1342.5 305.6V311.4L1343.0 310.0V307.1L1343.5 307.3V310.3L1344.0 312.0V305.0L1344.5 305.0V309.5L1345.0 309.7V305.9L1345.5 307.8V309.6L1346.0 308.9V304.2L1346.5 304.7V311.5L1347.0 310.5V307.0L1347.5 305.7V310.7L1348.0 309.3V303.2L1348.5 306.2V310.5L1349.0 312.6V306.5L1349.5 309.2V303.1L1350.0 306.5V310.4L1350.5 308.6V305.1L1351.0 306.6V310.3L1351.5 307.3V302.5L1352.0 304.0V313.2L1352.5 308.8V306.1L1353.0 307.2V311.7L1353.5 310.5V306.4L1354.0 303.7V310.8L1354.5 309.4V303.4L1355.0 306.2V309.5L1355.5 309.9V303.2L1356.0 306.8V309.2L1356.5 312.7V304.6L1357.0 305.3V311.0L1357.5 309.4V308.6L1358.0 311.2V304.7L1358.5 304.8V315.8L1359.0 311.5V304.6L1359.5 307.2V310.1L1360.0 310.8V305.7L1360.5 305.4V309.7L1361.0 310.5V304.4L1361.5 306.1V312.1L1362.0 309.8V306.3L1362.5 304.7V310.0L1363.0 310.2V308.1L1363.5 309.3V305.7L1364.0 307.2V311.0L1364.5 310.2V305.2L1365.0 307.1V310.7L1365.5 312.5V303.8L1366.0 305.6V313.2L1366.5 310.6V308.1L1367.0 308.9V306.3L1367.5 305.2V310.4L1368.0 310.3V306.3L1368.5 306.4V316.2L1369.0 311.1V306.1L1369.5 307.7V311.2L1370.0 311.4V305.0L1370.5 303.8V309.6L1371.0 308.1V313.6L1371.5 312.8V307.6L1372.0 305.6V311.4L1372.5 310.4V315.9L1373.0 311.7V307.7L1373.5 309.4V311.5L1374.0 310.3V308.8L1374.5 310.2V306.4L1375.0 309.8V313.0L1375.5 314.2V309.0L1376.0 310.2V310.8L1376.5 308.8V314.5L1377.0 312.9V306.5L1377.5 308.4V314.5L1378.0 312.9V309.7L1378.5 310.8V307.7L1379.0 306.6V311.2L1379.5 308.4V314.6L1380.0 313.1V311.0L1380.5 309.5V313.1L1381.0 314.1V311.5L1381.5 312.4V309.6L1382.0 310.9V314.7L1382.5 312.5V311.6L1383.0 313.7V308.2L1383.5 312.4V314.9L1384.0 317.1V310.4L1384.5 314.0V314.3L1385.0 312.2V318.8L1385.5 314.8V312.1L1386.0 310.9V315.4L1386.5 316.4V313.4L1387.0 314.2V317.4L1387.5 314.6V311.2L1388.0 311.8V315.6L1388.5 312.4V318.9L1389.0 317.8V313.0L1389.5 311.1V315.2L1390.0 315.0V317.3L1390.5 318.8V314.8L1391.0 313.3V317.9L1391.5 318.7V314.9L1392.0 312.6V319.7L1392.5 317.5V311.3L1393.0 311.8V315.7L1393.5 317.7V312.9L1394.0 313.4V314.8L1394.5 319.0V310.5L1395.0 314.7V317.6L1395.5 315.9V320.0L1396.0 317.7V313.0L1396.5 313.2V320.5L1397.0 318.8V313.7L1397.5 311.8V317.5L1398.0 316.6V319.3L1398.5 319.1V316.6L1399.0 318.9V312.2L1399.5 315.8V318.9L1400.0 319.5V316.5L1400.5 315.8V320.6L1401.0 320.3V315.7L1401.5 318.6V320.9L1402.0 319.7V315.1L1402.5 314.2V320.8L1403.0 320.7V316.4L1403.5 318.9V320.8L1404.0 321.4V318.2L1404.5 317.2V322.1L1405.0 322.2V320.3L1405.5 319.4V321.4L1406.0 322.3V319.0L1406.5 318.5V323.5L1407.0 322.2V319.7L1407.5 318.7V323.2L1408.0 323.0V319.0L1408.5 319.2V322.4L1409.0 321.9V319.6L1409.5 318.0V322.0L1410.0 322.4V317.3L1410.5 318.9V321.9L1411.0 323.2V315.9L1411.5 320.3V323.6L1412.0 324.1V321.7L1412.5 323.0V318.6L1413.0 318.1V322.3L1413.5 320.2V326.2L1414.0 324.1V317.6L1414.5 319.7V322.8L1415.0 323.4V320.8L1415.5 320.2V323.3L1416.0 325.0V320.5L1416.5 322.8V326.1L1417.0 324.7V321.8L1417.5 319.6V325.8L1418.0 325.7V321.6L1418.5 323.4V329.4L1419.0 325.9V322.0L1419.5 324.4V327.7L1420.0 325.8V324.6L1420.5 322.1V327.5L1421.0 328.7V324.3L1421.5 324.8V322.4L1422.0 323.3V328.6L1422.5 326.2V323.3L1423.0 323.4V327.7L1423.5 329.6V323.4L1424.0 324.5V328.2L1424.5 329.4V324.9L1425.0 324.1V327.8L1425.5 326.5V324.7L1426.0 323.6V330.8L1426.5 332.0V323.3L1427.0 327.9V329.0L1427.5 329.3V326.5L1428.0 327.3V328.4L1428.5 329.1V323.2L1429.0 326.2V328.6L1429.5 327.0V323.6L1430.0 326.8V329.7L1430.5 330.1V325.6L1431.0 323.5V332.1L1431.5 331.0V323.6L1432.0 325.3V330.6L1432.5 332.1V324.2L1433.0 325.9V329.9L1433.5 332.6V326.2L1434.0 326.8V332.7L1434.5 331.4V327.7L1435.0 329.3V326.1L1435.5 326.9V334.1L1436.0 330.8V325.8L1436.5 325.8V334.2L1437.0 332.7V327.0L1437.5 328.8V330.7L1438.0 329.6V332.3L1438.5 334.1V327.3L1439.0 325.6V334.3L1439.5 335.5V328.4L1440.0 331.4V338.6L1440.5 333.3V327.6L1441.0 330.5V334.0L1441.5 334.0V330.7L1442.0 330.1V335.3L1442.5 335.2V330.6L1443.0 329.9V334.5L1443.5 333.5V331.9L1444.0 333.8V329.6L1444.5 331.6V333.0L1445.0 333.2V335.5L1445.5 333.1V329.2L1446.0 331.5V334.8L1446.5 335.2V331.8L1447.0 331.4V335.0L1447.5 334.5V330.5L1448.0 331.1V336.8L1448.5 338.1V329.3L1449.0 330.3V338.6L1449.5 336.4V331.2L1450.0 332.5V338.0L1450.5 335.9V333.4L1451.0 333.7V339.0L1451.5 339.6V334.4L1452.0 334.5V335.6L1452.5 334.5V337.9L1453.0 337.6V332.7L1453.5 333.9V336.8L1454.0 337.5V331.1L1454.5 333.4V339.2L1455.0 334.8V331.5L1455.5 332.0V335.1L1456.0 337.9V331.6L1456.5 333.1V337.3L1457.0 339.8V333.5L1457.5 335.3V338.9L1458.0 339.0V334.2L1458.5 334.0V338.3L1459.0 336.8V331.7L1459.5 335.3V338.6L1460.0 337.2V335.5L1460.5 335.3V338.4L1461.0 338.1V334.4L1461.5 335.8V339.7L1462.0 334.9V334.3L1462.5 334.2V341.0L1463.0 336.5V332.5L1463.5 333.0V336.9L1464.0 338.1V334.4L1464.5 335.4V339.9L1465.0 338.4V333.3L1465.5 333.6V337.1L1466.0 339.9V332.8L1466.5 337.0V340.5L1467.0 342.8V336.5L1467.5 337.9V341.1L1468.0 340.5V336.6L1468.5 337.7V343.7L1469.0 341.8V338.1L1469.5 337.3V340.3L1470.0 342.5V336.7L1470.5 337.3V341.4L1471.0 339.9V337.4L1471.5 337.4V339.9L1472.0 337.2V346.0L1472.5 343.0V335.2L1473.0 337.9V340.2L1473.5 340.1V337.7L1474.0 339.0V343.3L1474.5 343.7V338.6L1475.0 338.6V335.3L1475.5 338.4V342.4L1476.0 342.2V337.4L1476.5 339.1V341.1L1477.0 340.4V336.3L1477.5 338.6V342.3L1478.0 344.2V336.6L1478.5 337.1V340.3L1479.0 342.2V335.9L1479.5 337.2V339.5L1480.0 339.4V342.7L1480.5 340.1V335.8L1481.0 336.9V342.5L1481.5 339.9V339.2L1482.0 338.5V342.5L1482.5 339.7V337.1L1483.0 337.3V345.2L1483.5 345.4V339.7L1484.0 339.6V345.3L1484.5 339.7V337.3L1485.0 340.6V342.6L1485.5 342.8V339.4L1486.0 340.3V344.9L1486.5 343.9V341.1L1487.0 341.7V338.8L1487.5 339.1V345.3L1488.0 342.2V339.6L1488.5 340.5V342.8L1489.0 342.8V340.0L1489.5 339.3V343.9L1490.0 345.7V341.4L1490.5 340.9V343.1L1491.0 345.0V341.2L1491.5 340.8V344.2L1492.0 344.8V340.1L1492.5 341.3V343.7L1493.0 342.4V340.1L1493.5 340.3V343.9L1494.0 343.5V339.3L1494.5 340.4V345.2L1495.0 344.6V342.7L1495.5 344.6V308.4L1496.0 344.7V345.1L1496.5 345.4V342.3L1497.0 342.2V345.8L1497.5 343.2V342.1L1498.0 344.7V346.4L1498.5 342.9V353.7L1499.0 345.3V344.2L1499.5 344.7V341.6L1500.0 341.7V344.3L1500.5 343.9V342.0L1501.0 342.8V348.2L1501.5 345.2V344.3L1502.0 346.5V341.7L1502.5 341.8V345.0L1503.0 345.8V342.9L1503.5 344.3V347.8L1504.0 347.2V343.4L1504.5 343.1V349.6L1505.0 350.0V342.4L1505.5 342.5V346.0L1506.0 346.5V343.9L1506.5 345.4V347.0L1507.0 348.1V344.1L1507.5 344.8V349.8L1508.0 349.4V345.8L1508.5 347.4V350.4L1509.0 347.6V343.8L1509.5 345.8V350.0L1510.0 349.7V346.4L1510.5 346.7V349.9L1511.0 348.3V344.7L1511.5 344.2V349.2L1512.0 346.3V352.8L1512.5 347.6V344.1L1513.0 345.4V347.7L1513.5 345.9V349.8L1514.0 349.9V346.5L1514.5 346.9V351.6L1515.0 350.7V347.7L1515.5 347.0V349.5L1516.0 349.1V346.4L1516.5 346.0V347.6L1517.0 347.3V348.7L1517.5 348.7V346.3L1518.0 346.3V352.3L1518.5 349.7V347.4L1519.0 347.3V350.7L1519.5 351.4V348.3L1520.0 348.5V352.5L1520.5 352.1V348.3L1521.0 349.2V350.5L1521.5 351.1V346.5L1522.0 348.0V352.9L1522.5 350.4V346.9L1523.0 347.2V353.3L1523.5 352.3V349.0L1524.0 348.3V350.8L1524.5 348.3V354.5L1525.0 351.4V346.7L1525.5 349.4V350.7L1526.0 349.9V352.7L1526.5 353.5V347.5L1527.0 347.0V351.5L1527.5 351.6V349.6L1528.0 350.3V352.3L1528.5 352.7V347.4L1529.0 350.9V353.4L1529.5 355.6V351.0L1530.0 350.8V352.0L1530.5 351.8V349.5L1531.0 350.2V354.0L1531.5 353.4V350.7L1532.0 351.9V353.6L1532.5 353.8V349.4L1533.0 350.2V353.8L1533.5 354.7V350.9L1534.0 350.0V356.9L1534.5 353.6V350.8L1535.0 350.6V354.9L1535.5 355.6V349.6L1536.0 352.2V356.0L1536.5 355.5V352.0L1537.0 351.3V355.6L1537.5 356.6V353.2L1538.0 353.1V355.8L1538.5 355.0V352.1L1539.0 352.9V356.3L1539.5 357.4V350.0L1540.0 354.5V356.9L1540.5 355.4V353.4L1541.0 353.3V357.2L1541.5 359.6V352.9L1542.0 354.5V357.8L1542.5 356.1V351.2L1543.0 355.9V358.2L1543.5 360.0V353.9L1544.0 352.0V357.1L1544.5 357.4V355.5L1545.0 353.4V358.1L1545.5 355.5V361.1L1546.0 357.2V354.3L1546.5 353.5V356.6L1547.0 356.8V354.5L1547.5 355.5V358.4L1548.0 359.0V357.6L1548.5 356.3V359.3L1549.0 358.5V360.4L1549.5 358.2V356.6L1550.0 355.8V358.6L1550.5 358.5V360.8L1551.0 360.4V357.6L1551.5 357.7V361.1L1552.0 361.5V355.7L1552.5 357.8V363.6L1553.0 361.1V355.7L1553.5 357.9V362.0L1554.0 361.6V357.6L1554.5 358.2V364.6L1555.0 365.7V358.9L1555.5 357.0V364.4L1556.0 363.9V359.7L1556.5 359.4V360.3L1557.0 359.9V363.7L1557.5 363.9V357.7L1558.0 358.4V359.7L1558.5 359.0V360.7L1559.0 361.0V358.6L1559.5 360.4V361.8L1560.0 360.3V357.7L1560.5 357.1V362.1L1561.0 365.2V357.6L1561.5 358.9V363.3L1562.0 363.0V358.3L1562.5 363.1V364.4L1563.0 361.0V358.7L1563.5 360.4V363.7L1564.0 365.4V360.0L1564.5 360.9V363.6L1565.0 363.9V359.1L1565.5 360.5V364.1L1566.0 364.9V360.6L1566.5 360.5V364.1L1567.0 365.8V361.6L1567.5 359.9V364.0L1568.0 365.5V362.1L1568.5 362.4V364.0L1569.0 365.5V361.1L1569.5 361.8V362.9L1570.0 363.3V368.2L1570.5 365.2V360.2L1571.0 361.3V364.4L1571.5 366.2V362.4L1572.0 364.3V360.5L1572.5 361.3V364.4L1573.0 361.4V367.5L1573.5 366.8V361.6L1574.0 363.3V366.8L1574.5 365.7V360.8L1575.0 364.9V368.3L1575.5 368.0V363.0L1576.0 363.8V366.3L1576.5 366.0V363.5L1577.0 364.3V366.4L1577.5 367.4V362.6L1578.0 362.9V367.8L1578.5 367.7V362.8L1579.0 365.0V368.0L1579.5 368.0V362.4L1580.0 362.5V370.1L1580.5 370.1V364.4L1581.0 361.3V368.7L1581.5 366.6V362.5L1582.0 364.6V368.1L1582.5 366.9V369.9L1583.0 363.8V375.9L1583.5 368.8V362.9L1584.0 364.6V367.3L1584.5 368.2V364.6L1585.0 365.4V368.2L1585.5 367.1V364.7L1586.0 363.7V365.9L1586.5 364.6V369.2L1587.0 368.7V365.5L1587.5 366.3V373.2L1588.0 370.8V367.6L1588.5 366.9V368.4L1589.0 370.7V365.5L1589.5 365.1V367.5L1590.0 365.1V371.2L1590.5 372.0V367.6L1591.0 366.4V370.3L1591.5 371.7V366.2L1592.0 367.0V371.3L1592.5 368.9V366.2L1593.0 367.3V372.9L1593.5 372.3V366.8L1594.0 366.2V368.7L1594.5 369.1V371.5L1595.0 370.6V368.6L1595.5 370.4V366.3L1596.0 365.3V372.5L1596.5 373.0V367.3L1597.0 369.4V370.6L1597.5 369.4V367.8L1598.0 370.4V373.9L1598.5 373.9V368.6L1599.0 370.7V372.2L1599.5 372.6V368.3L1600.0 369.0V370.9L1600.5 373.3V368.1L1601.0 366.9V374.6L1601.5 371.4V369.6L1602.0 368.9V370.6L1602.5 367.4V374.3L1603.0 372.6V371.3L1603.5 369.6V373.8L1604.0 372.7V370.5L1604.5 370.0V371.2L1605.0 371.6V369.2L1605.5 368.3V370.4L1606.0 371.1V373.8L1606.5 372.1V366.4L1607.0 370.2V373.4L1607.5 372.7V370.2L1608.0 369.7V372.3L1608.5 374.4V369.8L1609.0 369.7V371.3L1609.5 371.6V369.1L1610.0 370.1V379.4L1610.5 374.9V368.4L1611.0 367.3V371.9L1611.5 371.8V367.8L1612.0 369.7V376.1L1612.5 373.8V372.4L1613.0 371.5V373.6L1613.5 373.8V370.5L1614.0 371.8V373.7L1614.5 373.1V369.3L1615.0 370.2V373.1L1615.5 376.0V367.9L1616.0 370.3V374.6L1616.5 372.9V371.3L1617.0 372.1V370.1L1617.5 370.8V373.9L1618.0 372.9V367.2L1618.5 368.9V372.1L1619.0 372.1V367.4L1619.5 369.9V373.4L1620.0 374.5V369.9L1620.5 368.5V372.4L1621.0 375.5V368.1L1621.5 367.8V368.6"/>
<path class="c" stroke="#ff00ff" d="M973.0 387.7L973.0 387.7V388.8L973.5 387.6V392.4L974.0 391.0V389.1L974.5 389.4V392.2L975.0 392.4V388.8L975.5 389.1V392.9L976.0 390.8V388.8L976.5 388.6V391.6L977.0 391.4V388.2L977.5 389.3V392.3L978.0 391.0V389.5L978.5 391.7V386.2L979.0 387.8V393.4L979.5 389.9V388.2L980.0 385.4V391.3L980.5 391.0V391.8L981.0 389.4V385.7L981.5 387.8V390.9L982.0 389.4V394.2L982.5 391.0V387.3L983.0 386.1V389.3L983.5 390.0V386.4L984.0 386.4V390.8L984.5 390.7V388.2L985.0 387.4V390.9L985.5 389.9V387.9L986.0 387.9V391.2L986.5 389.7V388.2L987.0 387.3V389.1L987.5 390.2V387.2L988.0 387.2V389.6L988.5 387.9V386.0L989.0 387.3V389.8L989.5 390.4V387.1L990.0 385.8V389.2L990.5 388.9V386.8L991.0 384.6V389.1L991.5 387.4V392.1L992.0 391.3V387.8L992.5 391.1V384.6L993.0 385.3V389.1L993.5 389.6V385.3L994.0 385.1V388.2L994.5 389.4V386.9L995.0 387.6V388.5L995.5 388.3V384.7L996.0 385.3V389.3L996.5 387.6V383.5L997.0 386.3V391.0L997.5 388.4V384.5L998.0 384.3V388.4L998.5 388.4V384.8L999.0 386.8V388.3L999.5 388.2V385.7L1000.0 386.2V388.4L1000.5 391.1V384.4L1001.0 386.8V389.1L1001.5 389.1V385.7L1002.0 384.1V389.0L1002.5 387.9V384.3L1003.0 382.4V388.8L1003.5 386.6V384.5L1004.0 385.9V389.8L1004.5 386.2V382.7L1005.0 382.8V386.9L1005.5 387.8V385.7L1006.0 383.9V388.4L1006.5 387.3V383.5L1007.0 383.3V385.5L1007.5 386.5V382.7L1008.0 382.1V385.4L1008.5 383.9V388.1L1009.0 386.7V384.6L1009.5 384.7V382.9L1010.0 384.6V386.3L1010.5 386.5V382.8L1011.0 380.8V385.0L1011.5 384.1V380.4L1012.0 380.8V384.6L1012.5 383.1V387.2L1013.0 385.0V384.0L1013.5 385.6V381.4L1014.0 381.6V387.2L1014.5 386.2V379.9L1015.0 382.0V383.4L1015.5 385.0V381.8L1016.0 380.1V385.9L1016.5 383.2V381.0L1017.0 381.9V385.9L1017.5 387.3V382.6L1018.0 383.1V386.1L1018.5 384.3V381.2L1019.0 378.5V386.5L1019.5 382.9V381.4L1020.0 382.9V384.9L1020.5 383.0V379.3L1021.0 382.6V384.3L1021.5 383.4V380.8L1022.0 380.9V385.6L1022.5 383.5V377.8L1023.0 378.8V383.2L1023.5 383.8V381.2L1024.0 381.6V379.9L1024.5 377.6V382.9L1025.0 382.8V377.9L1025.5 379.8V382.0L1026.0 382.2V379.0L1026.5 379.1V381.7L1027.0 380.5V377.5L1027.5 380.5V382.2L1028.0 380.6V379.2L1028.5 377.2V382.8L1029.0 381.5V378.4L1029.5 377.4V383.4L1030.0 380.0V378.6L1030.5 377.2V381.8L1031.0 381.5V378.1L1031.5 378.5V380.4L1032.0 375.6V387.7L1032.5 380.1V376.8L1033.0 377.4V381.0L1033.5 378.0V377.4L1034.0 377.6V381.9L1034.5 378.6V375.7L1035.0 378.3V380.3L1035.5 381.5V377.2L1036.0 375.9V382.1L1036.5 378.8V377.0L1037.0 375.1V379.7L1037.5 380.9V375.8L1038.0 374.0V378.0L1038.5 378.9V372.4L1039.0 375.3V379.8L1039.5 378.8V375.0L1040.0 373.8V377.3L1040.5 377.8V375.2L1041.0 377.1V372.4L1041.5 374.5V378.7L1042.0 375.8V372.9L1042.5 372.2V377.0L1043.0 376.4V371.6L1043.5 372.8V376.4L1044.0 376.3V372.6L1044.5 374.0V375.8L1045.0 376.7V373.4L1045.5 372.3V379.3L1046.0 376.4V372.0L1046.5 375.1V375.9L1047.0 374.2V370.0L1047.5 372.5V375.4L1048.0 376.2V371.1L1048.5 372.9V373.9L1049.0 372.9V376.3L1049.5 374.1V371.8L1050.0 372.3V376.2L1050.5 376.5V374.4L1051.0 375.1V372.3L1051.5 371.3V373.5L1052.0 374.5V370.3L1052.5 371.2V375.1L1053.0 374.1V370.9L1053.5 371.2V372.4L1054.0 373.0V368.5L1054.5 368.3V371.8L1055.0 374.1V369.0L1055.5 369.8V373.3L1056.0 373.2V369.2L1056.5 366.8V372.8L1057.0 371.7V367.2L1057.5 366.1V370.2L1058.0 370.7V367.8L1058.5 369.3V366.2L1059.0 368.6V373.9L1059.5 371.2V366.9L1060.0 368.4V371.2L1060.5 369.1V365.3L1061.0 364.8V369.6L1061.5 370.4V366.8L1062.0 368.3V370.8L1062.5 370.6V366.4L1063.0 367.0V371.3L1063.5 368.6V367.7L1064.0 366.8V371.5L1064.5 372.0V364.2L1065.0 366.6V375.8L1065.5 368.6V362.4L1066.0 365.6V367.1L1066.5 366.1V368.6L1067.0 366.3V362.5L1067.5 364.2V367.5L1068.0 367.7V364.6L1068.5 363.9V369.9L1069.0 365.2V364.9L1069.5 364.8V367.6L1070.0 367.1V364.9L1070.5 365.0V367.9L1071.0 368.7V366.3L1071.5 365.6V361.2L1072.0 364.1V365.6L1072.5 365.3V367.4L1073.0 364.0V361.6L1073.5 362.1V368.1L1074.0 368.8V363.4L1074.5 365.0V359.9L1075.0 361.1V365.8L1075.5 364.8V363.6L1076.0 362.7V361.8L1076.5 364.2V366.7L1077.0 364.1V360.8L1077.5 362.6V365.6L1078.0 364.3V360.9L1078.5 359.2V366.3L1079.0 361.7V359.9L1079.5 361.0V365.8L1080.0 363.3V359.2L1080.5 360.6V362.6L1081.0 361.6V364.2L1081.5 362.8V358.2L1082.0 358.2V363.0L1082.5 363.1V359.2L1083.0 357.3V362.5L1083.5 362.7V360.1L1084.0 362.0V356.6L1084.5 357.5V367.0L1085.0 362.3V357.9L1085.5 356.6V360.9L1086.0 361.9V358.4L1086.5 358.9V356.0L1087.0 357.5V360.4L1087.5 357.7V355.5L1088.0 357.1V358.3L1088.5 358.6V354.9L1089.0 356.5V357.7L1089.5 359.8V355.5L1090.0 353.2V358.4L1090.5 356.9V353.5L1091.0 356.5V356.8L1091.5 357.4V351.0L1092.0 354.1V359.4L1092.5 355.1V353.9L1093.0 355.8V360.0L1093.5 356.2V353.2L1094.0 353.7V356.9L1094.5 355.6V353.5L1095.0 354.0V350.7L1095.5 352.5V355.9L1096.0 355.5V353.0L1096.5 353.5V355.4L1097.0 356.0V352.9L1097.5 354.0V351.3L1098.0 352.1V355.0L1098.5 351.3V349.5L1099.0 350.3V352.9L1099.5 352.5V352.1L1100.0 351.8V350.4L1100.5 350.2V354.0L1101.0 353.3V348.8L1101.5 350.7V355.2L1102.0 351.3V350.6L1102.5 349.4V355.0L1103.0 351.5V348.3L1103.5 348.1V351.0L1104.0 348.7V344.7L1104.5 349.1V352.2L1105.0 350.7V347.2L1105.5 348.0V354.4L1106.0 351.3V348.5L1106.5 347.3V350.6L1107.0 350.4V347.9L1107.5 346.9V350.5L1108.0 350.8V345.0L1108.5 346.0V349.1L1109.0 349.6V345.1L1109.5 346.9V350.8L1110.0 348.7V343.7L1110.5 347.8V348.8L1111.0 350.4V347.1L1111.5 346.9V349.2L1112.0 348.3V343.9L1112.5 345.0V347.5L1113.0 348.2V345.6L1113.5 344.8V348.4L1114.0 348.9V343.3L1114.5 343.4V346.9L1115.0 349.1V341.9L1115.5 342.5V345.7L1116.0 347.9V342.6L1116.5 340.5V347.1L1117.0 344.7V341.6L1117.5 341.3V346.2L1118.0 347.3V342.5L1118.5 341.7V343.8L1119.0 344.9V340.3L1119.5 340.2V345.6L1120.0 346.7V340.6L1120.5 340.2V343.0L1121.0 341.3V346.0L1121.5 343.9V339.5L1122.0 338.5V345.3L1122.5 343.1V340.5L1123.0 338.6V344.3L1123.5 343.3V337.3L1124.0 336.7V341.7L1124.5 340.9V335.3L1125.0 334.3V340.5L1125.5 341.6V336.8L1126.0 338.5V334.3L1126.5 335.7V340.1L1127.0 341.2V334.7L1127.5 335.9V338.8L1128.0 339.7V337.6L1128.5 336.9V339.5L1129.0 339.5V333.4L1129.5 335.2V337.2L1130.0 337.1V335.1L1130.5 335.2V334.3L1131.0 333.5V337.1L1131.5 338.1V331.9L1132.0 332.1V336.3L1132.5 335.3V331.6L1133.0 330.7V338.5L1133.5 336.0V329.1L1134.0 330.7V334.3L1134.5 333.6V330.3L1135.0 330.7V333.0L1135.5 334.0V328.1L1136.0 330.9V334.6L1136.5 331.7V327.4L1137.0 329.2V331.4L1137.5 333.5V327.2L1138.0 327.1V330.1L1138.5 330.4V324.8L1139.0 326.7V331.9L1139.5 332.5V326.6L1140.0 324.6V329.0L1140.5 327.8V325.6L1141.0 322.6V328.9L1141.5 327.0V322.9L1142.0 324.1V327.1L1142.5 326.3V323.4L1143.0 322.0V326.1L1143.5 325.4V324.0L1144.0 326.1V320.9L1144.5 318.3V323.7L1145.0 325.0V319.6L1145.5 317.9V321.6L1146.0 320.4V323.9L1146.5 322.3V319.9L1147.0 317.8V322.2L1147.5 324.5V317.6L1148.0 318.2V324.7L1148.5 322.7V318.8L1149.0 318.4V325.3L1149.5 323.1V316.8L1150.0 316.5V318.4L1150.5 315.7V323.3L1151.0 318.9V314.1L1151.5 314.0V318.9L1152.0 318.1V314.8L1152.5 317.3V320.6L1153.0 317.2V314.2L1153.5 313.8V316.3L1154.0 319.8V312.5L1154.5 314.0V319.4L1155.0 317.3V310.1L1155.5 307.7V314.4L1156.0 313.5V312.0L1156.5 312.2V309.8L1157.0 308.0V312.3L1157.5 311.0V307.3L1158.0 307.1V318.3L1158.5 313.1V308.9L1159.0 309.1V312.7L1159.5 316.2V307.8L1160.0 308.1V313.2L1160.5 315.3V308.8L1161.0 307.6V311.5L1161.5 311.1V304.0L1162.0 307.7V312.6L1162.5 308.2V318.1L1163.0 308.7V304.0L1163.5 307.2V311.4L1164.0 309.8V302.5L1164.5 303.8V308.5L1165.0 310.0V304.4L1165.5 306.0V308.3L1166.0 309.5V304.9L1166.5 302.7V310.0L1167.0 307.6V302.5L1167.5 302.5V307.5L1168.0 308.7V304.0L1168.5 304.0V309.2L1169.0 310.1V306.0L1169.5 306.1V308.7L1170.0 308.5V302.2L1170.5 303.9V311.4L1171.0 307.5V304.2L1171.5 302.9V306.8L1172.0 307.9V301.3L1172.5 302.1V309.0L1173.0 304.0V301.6L1173.5 302.5V308.0L1174.0 305.3V301.6L1174.5 302.2V299.2L1175.0 297.6V303.9L1175.5 305.9V298.7L1176.0 298.6V301.4L1176.5 302.3V304.9L1177.0 305.0V299.2L1177.5 298.8V306.0L1178.0 302.1V297.6L1178.5 296.7V302.6L1179.0 303.4V300.6L1179.5 300.7V304.1L1180.0 303.6V297.7L1180.5 298.8V300.6L1181.0 299.9V297.1L1181.5 298.2V301.8L1182.0 301.7V299.4L1182.5 302.5V293.4L1183.0 293.2V299.1L1183.5 301.7V296.2L1184.0 296.1V300.4L1184.5 301.5V297.5L1185.0 295.6V304.1L1185.5 301.7V296.5L1186.0 296.6V299.8L1186.5 301.1V294.3L1187.0 294.5V301.9L1187.5 301.1V292.5L1188.0 294.8V301.3L1188.5 298.4V291.8L1189.0 293.3V298.4L1189.5 297.9V293.3L1190.0 296.2V299.0L1190.5 296.6V293.0L1191.0 293.3V298.8L1191.5 299.6V291.9L1192.0 291.5V296.5L1192.5 293.4V291.5L1193.0 290.4V293.2L1193.5 295.0V290.7L1194.0 290.2V293.6L1194.5 295.6V290.3L1195.0 292.3V294.6L1195.5 292.2V287.2L1196.0 290.3V294.2L1196.5 295.8V289.0L1197.0 287.2V298.0L1197.5 293.2V290.7L1198.0 291.1V294.6L1198.5 293.6V288.4L1199.0 288.3V290.9L1199.5 293.4V285.2L1200.0 289.3V300.1L1200.5 294.8V290.0L1201.0 289.9V291.5L1201.5 291.3V286.4L1202.0 286.3V293.4L1202.5 293.0V287.1L1203.0 288.3V294.4L1203.5 292.8V287.0L1204.0 286.9V290.7L1204.5 287.8V301.1L1205.0 290.1V284.1L1205.5 285.8V290.4L1206.0 290.4V283.3L1206.5 284.4V289.0L1207.0 292.2V283.6L1207.5 283.3V290.8L1208.0 289.2V280.6L1208.5 283.7V288.0L1209.0 285.8V283.3L1209.5 282.7V285.9L1210.0 285.2V281.8L1210.5 280.1V286.6L1211.0 285.7V283.2L1211.5 281.5V287.6L1212.0 289.7V282.1L1212.5 284.7V287.9L1213.0 289.4V279.3L1213.5 279.2V284.0L1214.0 281.7V290.7L1214.5 285.9V280.6L1215.0 279.8V283.7L1215.5 288.7V275.8L1216.0 280.4V283.5L1216.5 286.0V279.9L1217.0 279.1V283.5L1217.5 283.8V278.1L1218.0 278.1V285.1L1218.5 282.1V277.2L1219.0 275.9V281.5L1219.5 280.8V276.5L1220.0 276.2V281.7L1220.5 283.6V275.2L1221.0 278.1V281.4L1221.5 280.7V275.5L1222.0 276.0V281.0L1222.5 280.9V273.6L1223.0 272.5V275.4L1223.5 277.8V281.7L1224.0 281.3V275.5L1224.5 274.4V283.4L1225.0 277.7V273.9L1225.5 271.3V283.2L1226.0 286.4V276.2L1226.5 272.8V282.4L1227.0 282.1V272.2L1227.5 273.8V276.6L1228.0 276.2V272.0L1228.5 271.9V282.2L1229.0 278.7V271.9L1229.5 271.7V277.3L1230.0 275.1V280.3L1230.5 278.2V272.2L1231.0 274.3V278.1L1231.5 278.0V272.5L1232.0 272.2V277.5L1232.5 278.3V272.0L1233.0 272.7V277.1L1233.5 274.9V271.3L1234.0 271.2V276.6L1234.5 277.2V271.2L1235.0 272.1V276.8L1235.5 275.5V272.0L1236.0 269.3V276.8L1236.5 273.6V268.8L1237.0 268.6V276.1L1237.5 273.5V279.1L1238.0 277.4V272.4L1238.5 271.7V270.3L1239.0 268.9V276.5L1239.5 274.6V270.6L1240.0 269.2V273.1L1240.5 273.0V268.5L1241.0 267.3V272.6L1241.5 275.6V269.3L1242.0 266.6V275.7L1242.5 272.0V268.1L1243.0 269.6V274.7L1243.5 272.3V268.3L1244.0 271.3V277.6L1244.5 273.4V266.6L1245.0 265.3V274.4L1245.5 273.2V271.4L1246.0 269.0V274.6L1246.5 272.7V267.4L1247.0 271.2V275.6L1247.5 274.6V271.4L1248.0 272.4V269.3L1248.5 267.1V272.2L1249.0 273.5V267.7L1249.5 266.8V272.6L1250.0 273.0V268.5L1250.5 268.8V275.4L1251.0 274.0V268.7L1251.5 270.8V273.9L1252.0 270.5V266.3L1252.5 264.9V269.4L1253.0 269.6V272.1L1253.5 270.4V266.1L1254.0 265.7V268.2L1254.5 270.4V278.1L1255.0 272.2V268.3L1255.5 265.0V274.3L1256.0 270.6V267.9L1256.5 266.9V269.5L1257.0 269.4V276.1L1257.5 280.0V265.5L1258.0 264.8V275.5L1258.5 270.8V265.5L1259.0 263.7V270.8L1259.5 270.3V263.8L1260.0 262.1V274.4L1260.5 269.9V267.7L1261.0 265.6V275.4L1261.5 267.0V264.1L1262.0 265.2V270.3L1262.5 270.1V266.4L1263.0 267.7V271.8L1263.5 269.7V268.1L1264.0 267.1V273.7L1264.5 270.5V269.4L1265.0 270.7V262.5L1265.5 263.1V276.7L1266.0 269.6V265.0L1266.5 265.0V269.4L1267.0 268.2V264.0L1267.5 264.9V271.3L1268.0 267.9V264.0L1268.5 262.9V271.5L1269.0 266.6V262.6L1269.5 265.2V271.0L1270.0 271.4V264.2L1270.5 260.0V270.2L1271.0 268.2V263.0L1271.5 265.3V270.1L1272.0 271.2V262.6L1272.5 262.5V269.4L1273.0 268.6V265.6L1273.5 269.3V261.2L1274.0 262.1V269.0L1274.5 270.5V266.6L1275.0 270.0V262.2L1275.5 266.1V272.6L1276.0 271.5V263.9L1276.5 265.1V271.3L1277.0 267.9V263.7L1277.5 265.6V268.3L1278.0 266.8V271.0L1278.5 268.5V265.6L1279.0 266.8V268.8L1279.5 270.8V264.6L1280.0 265.1V267.5L1280.5 267.0V269.2L1281.0 265.3V273.7L1281.5 270.8V261.3L1282.0 260.7V266.0L1282.5 267.2V268.4L1283.0 267.6V263.7L1283.5 265.7V269.2L1284.0 267.9V265.1L1284.5 263.3V267.1L1285.0 269.3V263.1L1285.5 263.4V269.7L1286.0 266.8V261.6L1286.5 259.9V266.4L1287.0 267.9V261.3L1287.5 263.5V270.5L1288.0 266.8V260.9L1288.5 263.3V267.5L1289.0 264.2V270.9L1289.5 269.4V265.5L1290.0 263.0V272.5L1290.5 266.4V260.6L1291.0 259.5V267.2L1291.5 268.9V259.0L1292.0 265.6V270.1L1292.5 264.5V259.1L1293.0 262.3V265.2L1293.5 266.3V257.7L1294.0 262.4V265.7L1294.5 266.8V259.6L1295.0 262.5V265.5L1295.5 267.0V259.6L1296.0 263.2V270.1L1296.5 267.3V262.7L1297.0 261.6V265.7L1297.5 268.8V261.1L1298.0 263.4V265.4L1298.5 264.4V259.7L1299.0 262.1V266.5L1299.5 264.1V262.4L1300.0 266.0V270.8L1300.5 265.1V260.2L1301.0 263.7V267.4L1301.5 268.7V261.0L1302.0 262.6V267.0L1302.5 269.1V263.6L1303.0 263.2V261.2L1303.5 262.2V265.0L1304.0 267.2V259.9L1304.5 260.9V266.1L1305.0 267.8V260.9L1305.5 262.1V264.8L1306.0 269.0V258.6L1306.5 261.1V268.8L1307.0 267.6V260.6L1307.5 257.7V266.5L1308.0 269.6V263.5L1308.5 263.4V258.1L1309.0 262.8V267.3L1309.5 265.5V258.7L1310.0 260.1V266.4L1310.5 266.0V261.8L1311.0 258.2V265.5L1311.5 266.4V259.7L1312.0 259.8V266.9L1312.5 268.2V257.9L1313.0 257.9V263.4L1313.5 264.0V261.1L1314.0 260.2V266.7L1314.5 265.6V261.0L1315.0 259.7V265.3L1315.5 266.1V258.1L1316.0 262.2V262.9L1316.5 266.1V256.9L1317.0 260.4V264.0L1317.5 264.9V260.7L1318.0 263.5V267.0L1318.5 267.2V260.0L1319.0 263.4V270.3L1319.5 266.0V260.6L1320.0 260.6V259.5L1320.5 257.0V264.4L1321.0 262.9V259.6L1321.5 257.3V262.4L1322.0 263.5V258.9L1322.5 261.4V264.5L1323.0 262.3V259.8L1323.5 263.1V254.1L1324.0 256.0V265.8L1324.5 262.5V255.2L1325.0 256.2V267.8L1325.5 262.9V259.9L1326.0 259.7V257.6L1326.5 258.1V264.0L1327.0 265.7V253.9L1327.5 259.2V265.8L1328.0 261.1V258.2L1328.5 256.3V265.2L1329.0 264.7V257.9L1329.5 260.8V264.4L1330.0 265.2V257.2L1330.5 261.9V267.2L1331.0 264.2V262.1L1331.5 259.9V265.9L1332.0 268.5V258.8L1332.5 257.7V264.4L1333.0 265.1V261.9L1333.5 258.2V266.2L1334.0 266.4V260.1L1334.5 261.6V257.6L1335.0 259.4V262.0L1335.5 264.6V258.7L1336.0 255.7V262.4L1336.5 261.9V258.4L1337.0 259.9V266.5L1337.5 264.5V259.3L1338.0 258.4V261.3L1338.5 258.8V267.3L1339.0 260.0V258.4L1339.5 256.0V262.2L1340.0 262.2V259.7L1340.5 259.5V255.7L1341.0 254.9V258.3L1341.5 258.0V253.2L1342.0 257.2V262.2L1342.5 260.8V255.9L1343.0 253.4V258.9L1343.5 259.4V254.3L1344.0 255.7V260.7L1344.5 258.3V253.2L1345.0 253.5V259.8L1345.5 258.6V252.9L1346.0 254.9V248.4L1346.5 251.3V258.6L1347.0 258.4V255.0L1347.5 255.6V262.7L1348.0 259.8V253.2L1348.5 251.9V257.9L1349.0 260.5V253.9L1349.5 254.8V258.7L1350.0 256.7V264.9L1350.5 258.6V250.6L1351.0 255.8V259.4L1351.5 260.6V255.2L1352.0 256.6V249.4L1352.5 254.5V255.2L1353.0 252.8V260.2L1353.5 257.7V248.5L1354.0 250.0V258.1L1354.5 258.2V259.8L1355.0 258.7V252.0L1355.5 253.0V256.2L1356.0 259.9V250.9L1356.5 252.1V261.0L1357.0 262.6V254.0L1357.5 253.1V258.2L1358.0 259.4V256.5L1358.5 256.3V259.9L1359.0 257.9V251.0L1359.5 251.0V259.0L1360.0 258.9V252.0L1360.5 254.7V260.9L1361.0 258.0V250.9L1361.5 256.9V264.4L1362.0 260.6V254.4L1362.5 254.0V259.9L1363.0 257.8V255.1L1363.5 255.6V262.0L1364.0 263.8V252.9L1364.5 255.8V257.8L1365.0 262.9V252.6L1365.5 256.3V257.1L1366.0 259.8V252.4L1366.5 254.3V262.0L1367.0 259.8V254.3L1367.5 253.0V260.1L1368.0 260.1V252.4L1368.5 252.6V258.1L1369.0 261.3V253.6L1369.5 255.5V258.7L1370.0 257.4V252.4L1370.5 255.9V260.4L1371.0 256.5V254.8L1371.5 254.6V259.3L1372.0 257.5V249.8L1372.5 256.9V260.0L1373.0 260.0V256.4L1373.5 256.7V258.9L1374.0 258.6V250.9L1374.5 256.7V261.9L1375.0 264.4V257.7L1375.5 255.4V263.0L1376.0 255.9V254.8L1376.5 256.9V260.6L1377.0 262.6V256.6L1377.5 256.1V261.7L1378.0 263.5V254.7L1378.5 255.8V260.4L1379.0 261.9V254.7L1379.5 257.0V259.2L1380.0 256.3V254.1L1380.5 256.1V266.4L1381.0 261.1V259.4L1381.5 262.5V255.4L1382.0 255.0V260.0L1382.5 261.5V255.2L1383.0 257.4V262.1L1383.5 260.9V255.7L1384.0 255.3V259.1L1384.5 261.6V255.4L1385.0 257.0V261.6L1385.5 258.8V256.6L1386.0 258.0V262.3L1386.5 261.0V255.5L1387.0 259.1V262.2L1387.5 266.9V254.3L1388.0 254.5V263.0L1388.5 264.2V256.5L1389.0 255.5V262.6L1389.5 263.6V259.3L1390.0 258.9V261.0L1390.5 263.9V255.6L1391.0 256.9V264.6L1391.5 264.4V259.9L1392.0 256.5V265.4L1392.5 264.9V257.6L1393.0 259.1V266.4L1393.5 263.8V262.1L1394.0 263.6V256.0L1394.5 262.0V267.0L1395.0 267.4V262.1L1395.5 260.7V266.0L1396.0 265.5V263.1L1396.5 261.5V266.4L1397.0 263.5V260.1L1397.5 258.1V267.5L1398.0 265.0V261.5L1398.5 263.6V266.9L1399.0 265.3V261.7L1399.5 261.5V268.8L1400.0 267.1V260.9L1400.5 263.0V266.4L1401.0 268.8V263.1L1401.5 265.4V269.5L1402.0 270.2V264.4L1402.5 265.0V274.2L1403.0 268.8V265.5L1403.5 265.2V271.8L1404.0 276.4V264.0L1404.5 265.8V272.8L1405.0 271.5V268.0L1405.5 266.3V270.1L1406.0 269.0V264.5L1406.5 265.9V271.5L1407.0 273.9V267.9L1407.5 267.6V272.7L1408.0 273.9V271.2L1408.5 272.0V265.5L1409.0 267.2V272.3L1409.5 272.1V266.6L1410.0 267.1V271.9L1410.5 273.4V267.2L1411.0 268.0V271.4L1411.5 271.0V265.6L1412.0 269.7V271.8L1412.5 273.5V269.5L1413.0 267.3V272.9L1413.5 268.1V278.0L1414.0 275.4V268.4L1414.5 270.6V274.0L1415.0 271.7V267.0L1415.5 270.1V275.3L1416.0 270.4V268.5L1416.5 272.1V272.8L1417.0 274.6V269.2L1417.5 268.3V275.5L1418.0 269.3V283.2L1418.5 275.1V270.1L1419.0 268.4V276.7L1419.5 272.4V270.0L1420.0 269.6V274.5L1420.5 273.5V275.9L1421.0 275.5V270.3L1421.5 270.7V275.1L1422.0 274.6V268.9L1422.5 271.3V276.6L1423.0 276.9V271.9L1423.5 273.3V277.5L1424.0 274.9V270.8L1424.5 273.1V277.9L1425.0 274.5V271.6L1425.5 271.4V277.8L1426.0 279.5V269.4L1426.5 273.6V275.6L1427.0 277.3V273.5L1427.5 273.7V275.4L1428.0 272.2V283.3L1428.5 281.9V276.8L1429.0 276.6V271.2L1429.5 276.5V279.8L1430.0 278.9V274.0L1430.5 271.5V280.7L1431.0 277.3V276.5L1431.5 280.5V271.6L1432.0 277.1V279.1L1432.5 279.8V276.0L1433.0 274.1V282.6L1433.5 282.4V274.8L1434.0 273.1V279.8L1434.5 283.0V274.5L1435.0 277.3V280.4L1435.5 279.0V285.6L1436.0 284.0V279.3L1436.5 275.2V283.5L1437.0 283.6V274.6L1437.5 279.6V283.2L1438.0 278.4V277.0L1438.5 279.5V281.6L1439.0 281.3V274.1L1439.5 280.8V284.4L1440.0 288.8V278.8L1440.5 278.6V276.0L1441.0 278.6V280.2L1441.5 282.4V275.1L1442.0 275.4V283.4L1442.5 282.7V276.3L1443.0 274.8V286.9L1443.5 285.1V277.0L1444.0 277.9V281.3L1444.5 280.3V287.7L1445.0 283.1V281.0L1445.5 279.5V285.2L1446.0 285.8V279.1L1446.5 281.4V285.0L1447.0 283.8V280.6L1447.5 281.4V283.3L1448.0 283.0V276.7L1448.5 280.9V283.2L1449.0 280.5V287.0L1449.5 282.2V278.7L1450.0 279.3V283.8L1450.5 283.5V278.7L1451.0 281.3V282.6L1451.5 280.2V285.2L1452.0 284.4V280.7L1452.5 278.9V285.9L1453.0 289.7V280.9L1453.5 281.9V287.7L1454.0 286.8V284.3L1454.5 279.4V289.4L1455.0 290.7V285.0L1455.5 283.0V287.3L1456.0 287.5V282.0L1456.5 280.7V285.3L1457.0 285.8V283.9L1457.5 282.6V286.2L1458.0 283.7V291.4L1458.5 286.2V284.2L1459.0 285.8V289.3L1459.5 288.0V282.6L1460.0 282.8V288.6L1460.5 287.3V284.0L1461.0 282.5V286.5L1461.5 283.2V290.8L1462.0 287.2V282.5L1462.5 285.4V288.5L1463.0 286.6V284.1L1463.5 283.7V288.4L1464.0 289.6V286.3L1464.5 288.1V284.4L1465.0 284.1V291.2L1465.5 287.2V282.4L1466.0 282.8V288.3L1466.5 284.5V283.1L1467.0 284.8V285.9L1467.5 287.3V280.2L1468.0 281.5V288.9L1468.5 287.5V283.3L1469.0 285.5V292.1L1469.5 290.5V285.3L1470.0 285.4V292.1L1470.5 288.0V287.1L1471.0 288.1V293.6L1471.5 289.6V282.4L1472.0 284.4V292.2L1472.5 291.0V284.9L1473.0 284.2V291.4L1473.5 292.6V288.2L1474.0 286.7V290.7L1474.5 292.6V285.8L1475.0 285.0V291.1L1475.5 291.3V288.8L1476.0 291.3V285.0L1476.5 286.7V290.1L1477.0 289.0V284.9L1477.5 285.6V298.7L1478.0 295.5V290.8L1478.5 291.8V283.8L1479.0 287.2V289.2L1479.5 287.9V290.8L1480.0 292.3V288.3L1480.5 290.4V285.9L1481.0 289.0V291.0L1481.5 290.3V293.6L1482.0 293.3V288.8L1482.5 289.5V291.1L1483.0 291.8V287.8L1483.5 288.7V293.5L1484.0 291.6V286.2L1484.5 287.7V293.7L1485.0 292.8V288.9L1485.5 287.9V291.9L1486.0 290.7V297.6L1486.5 292.4V288.8L1487.0 291.4V293.4L1487.5 291.3V286.1L1488.0 287.7V292.6L1488.5 293.4V289.6L1489.0 287.8V291.7L1489.5 292.8V289.2L1490.0 289.2V297.6L1490.5 295.6V290.3L1491.0 293.4V295.7L1491.5 292.1V290.2L1492.0 292.4V295.8L1492.5 295.1V292.4L1493.0 289.5V297.5L1493.5 295.3V290.6L1494.0 292.2V295.7L1494.5 296.2V291.1L1495.0 291.9V297.1L1495.5 297.1V262.0L1496.0 293.4V295.1L1496.5 297.2V291.6L1497.0 292.3V295.7L1497.5 296.3V292.6L1498.0 293.4V297.4L1498.5 295.4V292.1L1499.0 293.5V301.6L1499.5 297.1V292.9L1500.0 291.9V297.1L1500.5 296.2V293.3L1501.0 292.9V299.4L1501.5 297.2V296.3L1502.0 294.6V298.1L1502.5 298.5V293.1L1503.0 292.8V298.4L1503.5 298.1V297.1L1504.0 295.9V292.7L1504.5 294.9V296.7L1505.0 297.7V295.0L1505.5 294.7V299.6L1506.0 299.8V293.6L1506.5 298.0V301.4L1507.0 301.0V294.7L1507.5 296.3V300.4L1508.0 302.9V297.5L1508.5 297.3V298.4L1509.0 297.6V301.6L1509.5 300.5V298.1L1510.0 297.2V303.7L1510.5 300.1V295.1L1511.0 297.5V299.2L1511.5 299.9V296.6L1512.0 295.0V300.9L1512.5 300.7V296.7L1513.0 298.0V301.4L1513.5 302.9V293.6L1514.0 294.9V304.9L1514.5 304.7V294.0L1515.0 298.8V305.0L1515.5 303.0V298.4L1516.0 299.0V301.2L1516.5 304.3V296.9L1517.0 299.4V304.4L1517.5 302.9V298.6L1518.0 299.3V304.2L1518.5 304.2V299.9L1519.0 301.2V296.4L1519.5 297.8V302.4L1520.0 302.2V306.5L1520.5 304.1V300.1L1521.0 301.4V303.2L1521.5 302.1V305.4L1522.0 306.9V299.8L1522.5 300.3V304.5L1523.0 307.7V301.3L1523.5 303.0V304.8L1524.0 301.3V308.4L1524.5 306.5V303.3L1525.0 305.2V301.2L1525.5 301.7V307.8L1526.0 308.5V302.4L1526.5 304.9V315.3L1527.0 305.0V302.8L1527.5 303.8V309.1L1528.0 303.8V303.3L1528.5 305.1V308.4L1529.0 309.3V303.6L1529.5 302.8V310.0L1530.0 310.1V302.6L1530.5 303.7V307.9L1531.0 310.4V303.7L1531.5 302.9V307.8L1532.0 309.4V303.7L1532.5 305.5V308.3L1533.0 309.1V304.1L1533.5 304.0V308.0L1534.0 310.0V303.9L1534.5 306.8V308.0L1535.0 312.0V301.5L1535.5 305.6V310.9L1536.0 309.2V305.6L1536.5 305.2V310.8L1537.0 313.0V308.4L1537.5 307.7V305.8L1538.0 308.9V310.6L1538.5 310.4V305.5L1539.0 304.5V311.7L1539.5 310.9V305.9L1540.0 306.4V314.9L1540.5 311.1V307.9L1541.0 310.8V312.8L1541.5 312.5V306.5L1542.0 306.4V313.5L1542.5 312.4V307.4L1543.0 306.8V313.7L1543.5 310.5V307.3L1544.0 308.2V314.0L1544.5 312.0V305.5L1545.0 308.6V312.3L1545.5 313.7V308.5L1546.0 309.4V312.3L1546.5 311.3V313.7L1547.0 314.0V310.9L1547.5 313.0V308.5L1548.0 312.2V316.0L1548.5 313.8V307.3L1549.0 310.4V315.4L1549.5 312.6V310.7L1550.0 310.7V313.5L1550.5 314.2V307.7L1551.0 312.3V317.8L1551.5 315.7V314.4L1552.0 317.2V308.9L1552.5 309.8V318.0L1553.0 318.1V312.0L1553.5 310.6V315.9L1554.0 315.9V311.0L1554.5 313.6V316.3L1555.0 317.0V314.9L1555.5 312.7V319.3L1556.0 316.0V312.8L1556.5 312.5V317.2L1557.0 317.5V314.7L1557.5 317.3V321.9L1558.0 321.2V313.9L1558.5 316.3V321.0L1559.0 318.6V313.0L1559.5 315.5V320.0L1560.0 322.7V314.6L1560.5 315.4V322.4L1561.0 320.5V315.8L1561.5 316.0V321.3L1562.0 321.0V315.1L1562.5 316.6V322.0L1563.0 320.8V317.0L1563.5 319.1V313.6L1564.0 316.3V318.8L1564.5 317.1V314.5L1565.0 315.7V320.1L1565.5 320.3V318.2L1566.0 315.7V321.0L1566.5 319.2V318.0L1567.0 317.8V322.5L1567.5 320.7V317.4L1568.0 320.1V322.3L1568.5 322.3V316.1L1569.0 318.4V323.5L1569.5 318.6V316.0L1570.0 314.7V321.7L1570.5 323.1V318.5L1571.0 318.6V326.4L1571.5 322.4V316.3L1572.0 319.5V324.3L1572.5 323.2V317.4L1573.0 321.3V322.9L1573.5 323.4V317.3L1574.0 319.9V326.7L1574.5 326.0V321.7L1575.0 321.8V329.0L1575.5 324.5V317.2L1576.0 321.0V323.8L1576.5 321.3V327.2L1577.0 325.6V322.4L1577.5 325.3V318.1L1578.0 323.5V325.9L1578.5 325.5V321.0L1579.0 320.6V325.4L1579.5 324.2V326.6L1580.0 327.7V322.9L1580.5 323.5V327.2L1581.0 328.1V323.5L1581.5 322.0V328.5L1582.0 330.4V323.0L1582.5 322.5V328.8L1583.0 325.5V333.2L1583.5 328.0V324.4L1584.0 322.1V326.9L1584.5 326.2V324.5L1585.0 323.8V327.4L1585.5 327.1V331.3L1586.0 327.8V325.5L1586.5 328.2V329.9L1587.0 332.5V326.8L1587.5 325.9V328.2L1588.0 328.0V332.5L1588.5 331.2V326.0L1589.0 328.7V333.3L1589.5 333.8V327.5L1590.0 329.2V332.4L1590.5 329.8V325.7L1591.0 328.0V335.0L1591.5 331.5V328.4L1592.0 327.4V332.3L1592.5 332.3V327.9L1593.0 328.0V330.1L1593.5 329.6V332.1L1594.0 331.2V333.3L1594.5 333.4V326.4L1595.0 330.8V332.8L1595.5 332.8V330.5L1596.0 328.8V333.6L1596.5 333.9V329.7L1597.0 331.3V335.8L1597.5 336.5V331.0L1598.0 329.7V334.6L1598.5 333.5V330.8L1599.0 332.2V333.6L1599.5 333.9V332.0L1600.0 331.4V333.9L1600.5 334.2V329.3L1601.0 333.9V337.0L1601.5 334.0V329.4L1602.0 331.5V336.1L1602.5 333.4V330.6L1603.0 333.6V337.9L1603.5 334.0V332.1L1604.0 334.3V336.0L1604.5 337.6V331.2L1605.0 334.3V335.4L1605.5 333.5V338.5L1606.0 336.9V332.9L1606.5 332.1V337.3L1607.0 337.4V332.7L1607.5 332.0V337.8L1608.0 337.4V330.6L1608.5 332.4V338.5L1609.0 337.8V334.7L1609.5 336.0V340.3L1610.0 341.9V332.0L1610.5 333.1V338.3L1611.0 339.2V334.8L1611.5 332.9V338.9L1612.0 337.1V332.2L1612.5 336.3V339.3L1613.0 339.1V336.3L1613.5 335.6V340.8L1614.0 338.4V336.0L1614.5 335.4V341.6L1615.0 344.3V335.1L1615.5 334.5V338.4L1616.0 336.8V340.4L1616.5 339.2V333.6L1617.0 335.0V337.0L1617.5 334.6V339.6L1618.0 339.0V335.4L1618.5 334.9V340.9L1619.0 337.4V336.6L1619.5 337.3V339.5L1620.0 340.9V334.4L1620.5 334.0V340.0L1621.0 338.4V335.1L1621.5 338.6V339.5"/>
<path class="c" stroke="#808000" d="M973.0 377.7L973.0 377.7V376.8L973.5 377.5V374.2L974.0 374.4V378.1L974.5 376.2V373.3L975.0 371.9V376.8L975.5 375.7V373.0L976.0 375.8V369.6L976.5 372.9V376.2L977.0 377.1V371.1L977.5 371.6V374.3L978.0 372.6V372.0L978.5 372.1V376.9L979.0 373.8V372.1L979.5 373.5V369.6L980.0 371.3V373.8L980.5 371.8V369.8L981.0 371.9V376.7L981.5 374.4V368.5L982.0 370.2V373.0L982.5 373.2V374.9L983.0 375.3V370.4L983.5 369.7V374.1L984.0 374.4V370.2L984.5 371.7V375.3L985.0 375.0V369.9L985.5 372.0V377.2L986.0 372.4V370.5L986.5 369.8V373.4L987.0 373.5V369.9L987.5 369.3V373.4L988.0 372.9V368.9L988.5 368.4V374.9L989.0 373.2V366.4L989.5 368.8V375.7L990.0 374.7V369.0L990.5 368.9V371.8L991.0 371.6V369.3L991.5 370.2V367.9L992.0 369.6V374.0L992.5 371.1V369.2L993.0 368.3V371.5L993.5 373.5V368.9L994.0 369.5V373.3L994.5 372.1V368.9L995.0 372.3V374.3L995.5 372.8V370.2L996.0 368.8V373.1L996.5 373.0V371.1L997.0 370.2V372.2L997.5 372.9V371.0L998.0 370.3V372.6L998.5 371.9V377.1L999.0 373.4V366.9L999.5 369.7V372.7L1000.0 373.0V367.8L1000.5 367.1V373.2L1001.0 374.9V368.2L1001.5 369.1V371.7L1002.0 372.0V368.3L1002.5 368.8V370.6L1003.0 370.9V366.8L1003.5 367.2V370.7L1004.0 369.8V375.2L1004.5 371.5V368.1L1005.0 368.0V372.5L1005.5 371.5V368.1L1006.0 369.0V374.3L1006.5 371.3V367.6L1007.0 369.2V371.6L1007.5 371.8V370.0L1008.0 370.8V367.1L1008.5 367.9V374.0L1009.0 372.9V365.4L1009.5 368.1V370.4L1010.0 370.1V366.3L1010.5 365.4V371.2L1011.0 369.4V367.5L1011.5 367.6V369.6L1012.0 368.5V372.1L1012.5 372.1V367.3L1013.0 367.7V368.9L1013.5 370.0V366.0L1014.0 368.0V373.6L1014.5 372.6V365.5L1015.0 364.6V371.8L1015.5 370.5V366.6L1016.0 366.3V369.2L1016.5 370.9V365.8L1017.0 365.6V371.5L1017.5 368.7V363.9L1018.0 364.8V368.5L1018.5 367.7V364.8L1019.0 364.2V366.5L1019.5 365.4V369.5L1020.0 367.7V366.7L1020.5 366.6V370.1L1021.0 365.9V364.8L1021.5 363.9V367.4L1022.0 367.5V365.7L1022.5 362.8V368.8L1023.0 369.6V362.6L1023.5 363.8V364.8L1024.0 364.6V366.4L1024.5 363.8V362.2L1025.0 363.4V368.0L1025.5 366.9V364.6L1026.0 365.4V361.0L1026.5 362.0V366.2L1027.0 366.6V360.9L1027.5 360.8V365.2L1028.0 365.4V360.3L1028.5 361.8V366.1L1029.0 363.7V361.5L1029.5 359.7V363.9L1030.0 365.3V361.0L1030.5 361.9V364.3L1031.0 363.5V361.9L1031.5 362.7V366.7L1032.0 366.1V362.9L1032.5 364.2V360.1L1033.0 362.2V362.7L1033.5 361.2V365.4L1034.0 364.5V362.9L1034.5 360.4V367.4L1035.0 363.6V357.9L1035.5 358.0V362.0L1036.0 363.0V359.8L1036.5 360.2V363.5L1037.0 364.7V360.9L1037.5 358.3V364.3L1038.0 359.9V357.5L1038.5 360.2V363.6L1039.0 362.7V359.5L1039.5 358.8V361.6L1040.0 361.7V360.1L1040.5 359.1V361.1L1041.0 362.2V355.3L1041.5 358.8V360.9L1042.0 363.1V356.7L1042.5 357.7V363.5L1043.0 361.7V355.7L1043.5 356.0V361.2L1044.0 359.5V355.8L1044.5 354.6V362.3L1045.0 360.0V355.9L1045.5 354.8V359.4L1046.0 356.8V363.1L1046.5 359.6V357.5L1047.0 357.7V352.2L1047.5 355.9V360.4L1048.0 361.1V354.0L1048.5 353.3V358.3L1049.0 361.7V353.7L1049.5 354.9V359.0L1050.0 356.5V361.8L1050.5 358.1V355.7L1051.0 352.9V360.8L1051.5 357.4V352.3L1052.0 353.0V356.6L1052.5 357.4V355.0L1053.0 354.7V356.8L1053.5 356.4V353.7L1054.0 355.6V351.4L1054.5 351.3V355.5L1055.0 354.6V352.0L1055.5 353.3V355.5L1056.0 354.9V350.9L1056.5 350.3V355.8L1057.0 356.3V352.2L1057.5 352.5V349.9L1058.0 349.0V355.1L1058.5 357.5V349.8L1059.0 349.8V354.9L1059.5 354.9V348.0L1060.0 350.9V355.8L1060.5 355.3V352.5L1061.0 352.3V355.6L1061.5 353.1V350.6L1062.0 349.5V352.1L1062.5 351.5V348.1L1063.0 351.1V355.3L1063.5 352.3V344.9L1064.0 348.5V351.5L1064.5 350.6V347.2L1065.0 349.7V358.0L1065.5 352.2V346.5L1066.0 346.7V351.8L1066.5 350.4V346.1L1067.0 346.8V354.0L1067.5 350.6V346.4L1068.0 346.3V350.0L1068.5 349.9V346.7L1069.0 344.5V349.0L1069.5 348.9V344.1L1070.0 347.3V350.3L1070.5 350.2V343.7L1071.0 347.1V348.1L1071.5 349.2V342.2L1072.0 344.0V348.7L1072.5 348.6V346.8L1073.0 349.8V342.5L1073.5 343.8V349.1L1074.0 348.7V343.8L1074.5 344.6V348.8L1075.0 348.3V343.0L1075.5 344.1V348.6L1076.0 347.3V343.6L1076.5 346.8V339.1L1077.0 342.2V343.4L1077.5 345.2V340.9L1078.0 339.9V346.3L1078.5 346.0V339.3L1079.0 340.7V342.8L1079.5 343.6V337.8L1080.0 340.2V342.4L1080.5 344.7V338.9L1081.0 339.0V343.9L1081.5 345.5V340.0L1082.0 340.0V342.3L1082.5 342.1V340.5L1083.0 342.4V337.1L1083.5 340.5V343.2L1084.0 341.8V338.9L1084.5 338.1V343.8L1085.0 340.7V337.1L1085.5 336.6V341.2L1086.0 341.3V336.8L1086.5 334.7V340.3L1087.0 343.0V335.7L1087.5 334.5V340.8L1088.0 339.3V333.5L1088.5 331.7V340.8L1089.0 344.5V336.3L1089.5 337.9V334.7L1090.0 334.9V338.6L1090.5 338.7V334.1L1091.0 334.2V336.4L1091.5 337.7V333.1L1092.0 335.1V337.7L1092.5 335.3V332.5L1093.0 335.5V328.8L1093.5 333.1V335.9L1094.0 332.9V331.1L1094.5 330.7V334.4L1095.0 336.2V326.7L1095.5 329.6V332.3L1096.0 331.1V337.1L1096.5 332.1V326.5L1097.0 328.7V335.4L1097.5 337.3V328.3L1098.0 328.0V334.0L1098.5 328.7V328.5L1099.0 326.2V333.1L1099.5 332.3V328.0L1100.0 323.4V334.2L1100.5 332.4V326.7L1101.0 326.8V332.2L1101.5 332.2V325.8L1102.0 325.8V330.1L1102.5 331.2V325.0L1103.0 325.6V332.3L1103.5 331.2V326.2L1104.0 324.1V330.4L1104.5 326.2V322.3L1105.0 323.4V327.5L1105.5 329.9V324.0L1106.0 322.3V329.1L1106.5 326.7V324.0L1107.0 322.7V327.9L1107.5 326.1V322.9L1108.0 322.7V326.1L1108.5 328.7V323.1L1109.0 322.8V317.1L1109.5 318.9V324.1L1110.0 325.7V317.0L1110.5 317.6V328.4L1111.0 326.1V315.8L1111.5 317.9V325.9L1112.0 321.0V317.9L1112.5 321.1V325.6L1113.0 323.8V321.4L1113.5 321.8V324.5L1114.0 324.1V321.0L1114.5 320.7V322.3L1115.0 322.3V316.3L1115.5 316.6V321.7L1116.0 322.3V319.6L1116.5 316.4V323.2L1117.0 323.9V322.4L1117.5 321.5V316.0L1118.0 312.8V322.7L1118.5 321.1V312.2L1119.0 317.0V324.3L1119.5 320.1V313.9L1120.0 314.0V320.0L1120.5 318.6V316.6L1121.0 320.2V311.8L1121.5 313.9V317.5L1122.0 316.6V320.7L1122.5 321.8V311.1L1123.0 313.3V315.6L1123.5 318.8V310.8L1124.0 311.4V320.1L1124.5 315.6V306.5L1125.0 307.8V317.1L1125.5 316.4V310.6L1126.0 312.7V314.4L1126.5 309.6V307.3L1127.0 310.0V314.0L1127.5 310.9V309.4L1128.0 309.2V312.8L1128.5 309.9V305.7L1129.0 308.8V314.2L1129.5 311.7V305.1L1130.0 306.1V312.0L1130.5 312.9V305.7L1131.0 302.0V311.9L1131.5 310.0V302.9L1132.0 302.6V310.5L1132.5 309.1V303.5L1133.0 301.8V307.0L1133.5 308.2V302.5L1134.0 302.3V308.8L1134.5 304.4V300.8L1135.0 303.8V307.2L1135.5 308.3V301.9L1136.0 302.0V309.0L1136.5 307.7V301.2L1137.0 302.4V304.3L1137.5 301.8V298.6L1138.0 299.9V303.2L1138.5 300.0V307.8L1139.0 303.3V297.8L1139.5 300.7V304.6L1140.0 304.4V297.8L1140.5 301.3V294.0L1141.0 298.4V304.0L1141.5 301.8V295.0L1142.0 298.1V302.2L1142.5 304.1V296.8L1143.0 298.3V292.1L1143.5 295.3V299.0L1144.0 300.0V294.2L1144.5 292.3V296.3L1145.0 295.0V293.1L1145.5 295.0V297.4L1146.0 298.1V293.2L1146.5 290.4V298.5L1147.0 297.9V294.0L1147.5 295.1V296.4L1148.0 295.2V288.5L1148.5 289.8V293.5L1149.0 293.3V296.2L1149.5 299.5V290.1L1150.0 292.9V299.1L1150.5 297.4V288.3L1151.0 292.4V300.2L1151.5 294.6V289.6L1152.0 289.0V293.4L1152.5 293.9V291.8L1153.0 289.8V298.6L1153.5 295.1V287.4L1154.0 290.8V293.0L1154.5 289.6V286.1L1155.0 287.1V294.3L1155.5 293.6V287.0L1156.0 285.9V289.7L1156.5 291.4V283.2L1157.0 283.3V287.6L1157.5 286.5V290.1L1158.0 289.6V285.0L1158.5 284.7V289.1L1159.0 288.5V282.6L1159.5 285.3V293.1L1160.0 288.6V285.9L1160.5 286.4V284.6L1161.0 282.2V292.5L1161.5 285.9V282.9L1162.0 284.8V278.8L1162.5 276.0V286.5L1163.0 287.6V282.7L1163.5 287.5V275.8L1164.0 282.8V286.2L1164.5 285.7V283.5L1165.0 281.1V287.6L1165.5 282.9V280.4L1166.0 280.2V289.7L1166.5 284.7V275.9L1167.0 278.2V286.2L1167.5 287.4V279.5L1168.0 280.7V282.8L1168.5 280.7V277.6L1169.0 277.2V286.3L1169.5 283.2V277.5L1170.0 279.8V283.5L1170.5 282.6V272.8L1171.0 273.6V278.3L1171.5 274.9V283.5L1172.0 280.1V277.5L1172.5 274.4V284.0L1173.0 279.7V273.7L1173.5 275.1V283.0L1174.0 281.0V274.3L1174.5 277.2V283.3L1175.0 281.9V271.8L1175.5 270.5V276.1L1176.0 275.6V271.4L1176.5 269.9V281.9L1177.0 277.1V270.8L1177.5 270.6V276.1L1178.0 273.1V267.2L1178.5 268.0V274.9L1179.0 273.0V268.4L1179.5 268.5V272.5L1180.0 271.8V265.0L1180.5 266.4V273.5L1181.0 274.5V270.4L1181.5 271.3V267.5L1182.0 268.2V272.5L1182.5 269.2V265.2L1183.0 264.7V271.3L1183.5 270.0V262.2L1184.0 265.4V270.5L1184.5 272.4V261.5L1185.0 264.5V270.4L1185.5 272.7V262.2L1186.0 263.4V268.2L1186.5 268.3V262.6L1187.0 263.3V267.0L1187.5 266.0V258.7L1188.0 260.1V264.6L1188.5 268.2V259.8L1189.0 261.4V267.2L1189.5 269.9V261.6L1190.0 261.7V258.1L1190.5 257.8V267.5L1191.0 264.9V258.7L1191.5 255.5V264.3L1192.0 266.6V255.0L1192.5 253.9V266.8L1193.0 263.4V256.1L1193.5 254.6V262.4L1194.0 256.4V255.0L1194.5 255.6V270.1L1195.0 261.4V252.2L1195.5 252.7V259.6L1196.0 260.4V254.3L1196.5 254.2V260.6L1197.0 258.7V265.0L1197.5 259.8V250.3L1198.0 253.3V258.4L1198.5 253.4V251.5L1199.0 253.0V256.6L1199.5 260.5V250.2L1200.0 248.8V256.4L1200.5 256.7V252.9L1201.0 250.6V256.0L1201.5 255.6V249.1L1202.0 252.8V254.9L1202.5 255.6V249.9L1203.0 249.2V254.4L1203.5 252.1V245.2L1204.0 251.5V256.5L1204.5 252.5V248.4L1205.0 248.6V253.2L1205.5 252.5V243.1L1206.0 244.7V254.0L1206.5 249.4V245.5L1207.0 249.9V238.3L1207.5 246.3V253.6L1208.0 253.5V244.1L1208.5 245.9V252.6L1209.0 244.6V243.6L1209.5 241.9V239.3L1210.0 239.7V256.0L1210.5 246.9V240.5L1211.0 241.6V246.8L1211.5 242.8V236.0L1212.0 233.4V242.0L1212.5 243.8V239.3L1213.0 244.6V232.7L1213.5 238.5V241.6L1214.0 244.0V236.2L1214.5 238.0V241.3L1215.0 242.0V236.3L1215.5 237.4V243.6L1216.0 243.6V236.9L1216.5 236.6V241.3L1217.0 241.6V234.1L1217.5 234.0V244.3L1218.0 244.2V233.5L1218.5 229.3V241.4L1219.0 237.8V234.1L1219.5 236.0V238.6L1220.0 244.0V232.1L1220.5 231.8V240.7L1221.0 238.5V232.6L1221.5 234.6V239.2L1222.0 236.4V231.8L1222.5 229.9V237.3L1223.0 236.3V231.1L1223.5 234.6V227.1L1224.0 230.6V236.2L1224.5 236.8V231.3L1225.0 230.6V239.7L1225.5 232.7V230.7L1226.0 228.0V236.9L1226.5 240.7V230.6L1227.0 229.0V238.4L1227.5 237.3V230.8L1228.0 223.3V239.1L1228.5 235.6V231.4L1229.0 228.5V236.8L1229.5 232.2V226.1L1230.0 226.6V238.3L1230.5 231.0V226.5L1231.0 227.9V235.6L1231.5 233.3V227.5L1232.0 223.8V221.8L1232.5 226.4V236.0L1233.0 233.1V222.4L1233.5 225.6V233.3L1234.0 231.6V227.9L1234.5 227.3V232.3L1235.0 231.3V228.8L1235.5 231.1V222.7L1236.0 227.3V231.5L1236.5 238.1V224.5L1237.0 228.1V243.1L1237.5 232.5V226.3L1238.0 225.3V230.9L1238.5 233.1V228.3L1239.0 229.7V234.5L1239.5 231.3V229.5L1240.0 229.4V238.1L1240.5 232.0V226.4L1241.0 228.0V233.4L1241.5 232.9V223.7L1242.0 228.1V235.2L1242.5 232.6V225.5L1243.0 219.9V231.6L1243.5 232.8V221.5L1244.0 223.6V229.0L1244.5 232.0V218.1L1245.0 221.1V225.2L1245.5 225.8V231.6L1246.0 227.9V224.4L1246.5 222.2V226.7L1247.0 221.7V235.2L1247.5 228.9V219.7L1248.0 227.3V232.7L1248.5 225.3V221.6L1249.0 222.4V236.3L1249.5 229.7V220.6L1250.0 222.4V231.3L1250.5 233.0V224.0L1251.0 225.9V221.9L1251.5 218.6V229.5L1252.0 230.1V220.4L1252.5 217.2V229.1L1253.0 225.4V219.3L1253.5 219.9V228.5L1254.0 225.8V218.9L1254.5 219.8V225.4L1255.0 231.2V218.5L1255.5 215.0V228.3L1256.0 231.7V216.0L1256.5 224.8V228.2L1257.0 227.4V214.4L1257.5 218.8V234.7L1258.0 222.0V218.2L1258.5 223.3V227.7L1259.0 226.6V218.4L1259.5 221.6V226.7L1260.0 227.6V219.8L1260.5 225.5V228.0L1261.0 229.3V220.4L1261.5 222.4V225.2L1262.0 227.4V218.9L1262.5 219.7V229.2L1263.0 227.8V222.8L1263.5 224.4V218.6L1264.0 215.7V231.7L1264.5 227.6V218.6L1265.0 216.7V230.6L1265.5 224.5V216.1L1266.0 216.9V223.2L1266.5 225.3V218.2L1267.0 216.5V225.6L1267.5 220.6V215.3L1268.0 220.3V223.9L1268.5 225.1V217.8L1269.0 216.9V226.7L1269.5 224.0V215.8L1270.0 217.8V226.1L1270.5 226.7V214.3L1271.0 215.3V222.7L1271.5 225.9V215.5L1272.0 217.8V225.6L1272.5 224.6V211.9L1273.0 220.4V230.5L1273.5 226.8V217.9L1274.0 218.8V222.6L1274.5 222.2V219.5L1275.0 219.6V222.5L1275.5 225.9V218.0L1276.0 214.2V224.6L1276.5 224.8V214.8L1277.0 212.9V221.9L1277.5 221.1V217.4L1278.0 213.8V223.9L1278.5 224.2V217.5L1279.0 215.9V221.9L1279.5 223.6V218.6L1280.0 218.9V222.5L1280.5 224.2V220.4L1281.0 221.2V218.2L1281.5 216.7V227.9L1282.0 223.2V216.3L1282.5 215.5V222.4L1283.0 224.6V214.8L1283.5 217.4V223.1L1284.0 222.0V212.5L1284.5 217.8V225.0L1285.0 224.6V216.4L1285.5 217.4V224.5L1286.0 224.1V220.8L1286.5 220.5V226.7L1287.0 225.7V216.4L1287.5 218.7V224.9L1288.0 223.4V212.4L1288.5 217.2V225.7L1289.0 225.1V214.0L1289.5 212.5V225.3L1290.0 221.5V216.6L1290.5 213.8V227.9L1291.0 228.4V215.7L1291.5 219.1V224.1L1292.0 221.4V217.0L1292.5 215.4V226.0L1293.0 219.7V210.5L1293.5 213.7V223.6L1294.0 220.1V214.3L1294.5 215.9V223.4L1295.0 224.6V215.2L1295.5 213.2V227.0L1296.0 224.6V211.1L1296.5 211.2V223.5L1297.0 228.3V212.6L1297.5 214.9V228.5L1298.0 220.2V218.5L1298.5 222.0V214.4L1299.0 217.9V220.6L1299.5 221.4V216.3L1300.0 214.2V221.3L1300.5 224.9V212.4L1301.0 216.1V226.7L1301.5 222.1V211.6L1302.0 212.9V224.7L1302.5 217.4V211.8L1303.0 213.6V218.4L1303.5 221.6V210.6L1304.0 215.2V225.4L1304.5 220.0V211.5L1305.0 213.9V222.1L1305.5 219.5V210.5L1306.0 214.3V218.8L1306.5 218.2V213.3L1307.0 214.7V224.3L1307.5 221.3V216.7L1308.0 217.1V226.3L1308.5 224.5V211.8L1309.0 214.7V221.5L1309.5 223.1V216.3L1310.0 218.8V226.0L1310.5 222.5V211.8L1311.0 214.9V221.5L1311.5 220.3V214.7L1312.0 216.6V219.1L1312.5 223.3V208.8L1313.0 213.9V227.1L1313.5 225.1V214.9L1314.0 214.8V221.7L1314.5 222.2V215.4L1315.0 211.7V220.1L1315.5 218.2V209.2L1316.0 212.2V218.9L1316.5 221.1V213.4L1317.0 209.4V219.3L1317.5 218.5V212.1L1318.0 209.4V214.9L1318.5 210.8V221.0L1319.0 229.3V209.8L1319.5 210.7V212.4L1320.0 216.8V207.4L1320.5 212.6V218.8L1321.0 218.5V205.0L1321.5 212.9V220.7L1322.0 218.2V211.5L1322.5 214.2V218.7L1323.0 218.7V212.6L1323.5 212.8V219.2L1324.0 219.3V215.1L1324.5 217.3V211.8L1325.0 211.3V215.6L1325.5 219.0V209.8L1326.0 209.6V216.0L1326.5 213.5V208.7L1327.0 205.8V218.3L1327.5 217.8V212.8L1328.0 210.5V219.6L1328.5 217.4V210.3L1329.0 210.8V214.7L1329.5 214.3V207.1L1330.0 206.9V217.8L1330.5 212.9V210.8L1331.0 212.4V207.0L1331.5 207.8V217.2L1332.0 211.5V206.9L1332.5 207.2V219.0L1333.0 216.5V213.8L1333.5 217.6V206.6L1334.0 210.3V213.8L1334.5 214.1V215.2L1335.0 218.7V209.6L1335.5 207.3V215.2L1336.0 215.7V212.7L1336.5 207.9V217.7L1337.0 216.7V227.6L1337.5 218.9V208.5L1338.0 209.3V221.4L1338.5 220.5V206.6L1339.0 207.6V217.3L1339.5 216.7V206.0L1340.0 202.6V211.1L1340.5 207.0V216.0L1341.0 212.7V202.2L1341.5 207.7V215.2L1342.0 214.9V206.7L1342.5 202.6V212.5L1343.0 210.1V206.3L1343.5 200.8V214.0L1344.0 209.7V204.5L1344.5 209.6V217.2L1345.0 213.5V206.9L1345.5 205.3V216.2L1346.0 214.2V208.6L1346.5 213.0V202.5L1347.0 209.5V210.6L1347.5 213.0V206.0L1348.0 205.5V210.7L1348.5 213.4V205.1L1349.0 203.1V210.1L1349.5 206.0V215.8L1350.0 208.2V206.1L1350.5 205.4V211.2L1351.0 214.5V204.8L1351.5 207.5V212.6L1352.0 211.1V203.3L1352.5 205.3V209.0L1353.0 209.3V198.4L1353.5 203.5V212.2L1354.0 208.2V201.8L1354.5 205.6V208.6L1355.0 213.6V201.3L1355.5 200.5V206.6L1356.0 204.5V200.1L1356.5 204.8V212.4L1357.0 213.3V205.1L1357.5 207.9V213.4L1358.0 213.9V202.4L1358.5 204.2V216.7L1359.0 212.8V204.9L1359.5 206.6V215.7L1360.0 213.1V205.8L1360.5 207.0V213.3L1361.0 216.6V201.2L1361.5 209.1V211.2L1362.0 211.7V202.5L1362.5 199.8V217.6L1363.0 215.2V208.1L1363.5 212.1V202.3L1364.0 205.7V215.5L1364.5 217.7V205.3L1365.0 206.3V211.4L1365.5 215.6V206.9L1366.0 205.3V213.3L1366.5 217.4V207.3L1367.0 206.9V217.2L1367.5 214.9V204.4L1368.0 206.9V210.9L1368.5 217.2V202.6L1369.0 204.7V213.4L1369.5 214.9V210.9L1370.0 206.8V216.0L1370.5 213.1V209.7L1371.0 210.1V221.0L1371.5 216.3V210.0L1372.0 211.2V217.2L1372.5 213.9V209.4L1373.0 207.1V219.2L1373.5 217.2V207.9L1374.0 208.3V216.2L1374.5 217.5V208.7L1375.0 207.7V214.6L1375.5 215.0V204.3L1376.0 207.8V211.1L1376.5 211.6V208.2L1377.0 210.4V221.4L1377.5 217.3V207.8L1378.0 211.8V214.7L1378.5 216.9V211.7L1379.0 205.8V219.4L1379.5 214.3V211.2L1380.0 210.6V213.9L1380.5 209.7V226.2L1381.0 214.1V206.1L1381.5 205.0V217.0L1382.0 215.5V212.1L1382.5 210.9V215.7L1383.0 214.8V206.8L1383.5 208.4V218.2L1384.0 217.9V209.8L1384.5 208.0V218.7L1385.0 218.8V209.9L1385.5 208.0V212.3L1386.0 208.1V218.6L1386.5 215.9V208.2L1387.0 212.3V218.4L1387.5 221.1V207.3L1388.0 214.9V221.0L1388.5 220.8V212.0L1389.0 212.1V218.0L1389.5 217.5V206.2L1390.0 213.9V219.8L1390.5 220.8V217.9L1391.0 220.6V213.4L1391.5 216.6V226.6L1392.0 224.0V215.2L1392.5 214.4V224.5L1393.0 218.1V215.1L1393.5 215.2V220.5L1394.0 222.3V214.6L1394.5 215.3V221.6L1395.0 220.0V214.6L1395.5 211.9V220.2L1396.0 226.2V213.4L1396.5 220.8V225.7L1397.0 220.9V218.1L1397.5 215.4V223.6L1398.0 224.8V214.7L1398.5 213.7V224.3L1399.0 226.4V214.9L1399.5 220.0V226.5L1400.0 222.7V219.5L1400.5 219.6V226.4L1401.0 225.0V219.4L1401.5 217.1V223.4L1402.0 229.0V215.2L1402.5 218.8V225.4L1403.0 223.9V221.1L1403.5 216.4V227.9L1404.0 229.0V222.5L1404.5 224.5V219.9L1405.0 227.0V230.2L1405.5 226.7V219.1L1406.0 225.3V232.2L1406.5 227.8V220.3L1407.0 217.9V228.4L1407.5 231.6V222.1L1408.0 223.8V235.5L1408.5 229.2V219.5L1409.0 217.4V231.0L1409.5 228.8V221.0L1410.0 221.4V231.6L1410.5 233.7V226.0L1411.0 229.1V220.8L1411.5 220.8V227.9L1412.0 226.7V224.6L1412.5 219.1V233.0L1413.0 233.7V225.8L1413.5 228.0V221.6L1414.0 224.1V229.2L1414.5 229.5V224.5L1415.0 225.9V232.2L1415.5 227.2V240.4L1416.0 234.9V223.8L1416.5 226.4V232.8L1417.0 231.9V225.1L1417.5 224.9V234.2L1418.0 230.7V228.1L1418.5 227.7V236.3L1419.0 235.7V231.1L1419.5 234.7V227.0L1420.0 230.5V235.0L1420.5 231.4V241.2L1421.0 236.8V228.4L1421.5 225.7V233.7L1422.0 236.3V228.1L1422.5 227.6V236.0L1423.0 236.2V230.9L1423.5 227.5V235.1L1424.0 234.7V226.3L1424.5 227.6V235.2L1425.0 233.4V239.8L1425.5 241.7V230.2L1426.0 228.4V240.1L1426.5 234.9V231.9L1427.0 231.2V236.5L1427.5 234.3V239.1L1428.0 239.2V229.0L1428.5 233.0V238.1L1429.0 238.2V229.9L1429.5 232.7V238.7L1430.0 236.5V232.4L1430.5 233.0V237.6L1431.0 243.4V231.2L1431.5 234.1V238.9L1432.0 239.9V235.8L1432.5 233.1V242.7L1433.0 242.7V237.5L1433.5 241.4V233.1L1434.0 233.0V242.1L1434.5 244.7V234.5L1435.0 238.0V241.5L1435.5 239.4V237.7L1436.0 236.0V244.1L1436.5 245.1V241.2L1437.0 241.4V239.1L1437.5 241.2V244.1L1438.0 244.6V240.5L1438.5 240.7V237.8L1439.0 239.9V247.9L1439.5 242.7V240.6L1440.0 237.8V252.4L1440.5 246.5V237.3L1441.0 240.6V247.1L1441.5 242.9V238.2L1442.0 246.1V249.6L1442.5 245.9V241.7L1443.0 242.1V251.8L1443.5 245.1V241.4L1444.0 239.2V250.7L1444.5 251.4V241.0L1445.0 242.5V247.5L1445.5 244.7V242.3L1446.0 240.1V247.5L1446.5 244.7V242.8L1447.0 243.4V252.5L1447.5 246.7V243.6L1448.0 246.0V250.5L1448.5 248.6V245.5L1449.0 243.7V248.8L1449.5 251.5V243.7L1450.0 240.6V253.9L1450.5 249.6V244.5L1451.0 242.4V251.4L1451.5 251.8V247.7L1452.0 248.6V246.6L1452.5 245.4V249.9L1453.0 254.2V244.1L1453.5 246.2V251.9L1454.0 249.2V244.4L1454.5 243.5V258.9L1455.0 256.2V244.8L1455.5 246.7V258.2L1456.0 254.8V245.6L1456.5 249.4V251.8L1457.0 246.8V257.5L1457.5 251.7V248.5L1458.0 251.7V255.7L1458.5 257.7V251.0L1459.0 249.7V253.6L1459.5 251.4V247.3L1460.0 251.0V257.1L1460.5 255.1V249.6L1461.0 248.8V256.3L1461.5 250.8V245.1L1462.0 246.6V250.4L1462.5 249.9V242.7L1463.0 249.7V254.0L1463.5 255.1V244.3L1464.0 246.3V254.8L1464.5 252.5V248.9L1465.0 246.6V253.2L1465.5 256.1V249.7L1466.0 246.4V256.6L1466.5 255.0V250.1L1467.0 253.9V244.9L1467.5 250.0V260.2L1468.0 255.2V249.2L1468.5 248.8V260.8L1469.0 256.7V251.3L1469.5 253.1V254.8L1470.0 255.0V256.6L1470.5 256.9V251.4L1471.0 252.8V257.7L1471.5 260.4V252.4L1472.0 252.4V254.6L1472.5 250.7V258.7L1473.0 255.3V263.1L1473.5 260.2V249.7L1474.0 249.1V256.4L1474.5 254.6V259.3L1475.0 257.5V255.5L1475.5 254.2V264.2L1476.0 256.2V250.3L1476.5 250.6V258.3L1477.0 260.7V254.3L1477.5 253.1V256.7L1478.0 259.0V249.6L1478.5 249.8V260.5L1479.0 264.0V253.5L1479.5 247.3V262.5L1480.0 259.4V254.5L1480.5 251.9V258.6L1481.0 261.3V254.2L1481.5 253.1V259.5L1482.0 260.4V252.1L1482.5 254.4V257.4L1483.0 256.3V261.0L1483.5 261.5V257.1L1484.0 259.7V250.8L1484.5 255.3V263.0L1485.0 258.0V248.5L1485.5 255.4V259.1L1486.0 257.2V253.0L1486.5 254.3V260.6L1487.0 261.2V258.1L1487.5 262.4V253.8L1488.0 250.0V259.7L1488.5 260.6V255.7L1489.0 260.0V265.0L1489.5 268.3V257.8L1490.0 256.9V261.1L1490.5 263.1V256.2L1491.0 256.7V260.9L1491.5 263.7V257.7L1492.0 255.5V261.5L1492.5 261.8V258.2L1493.0 256.8V265.0L1493.5 264.4V257.8L1494.0 257.0V266.2L1494.5 268.0V259.0L1495.0 261.1V262.8L1495.5 261.5V202.2L1496.0 257.4V265.9L1496.5 264.1V258.4L1497.0 255.1V264.3L1497.5 259.8V269.2L1498.0 263.6V259.8L1498.5 257.6V273.6L1499.0 266.3V256.9L1499.5 264.3V269.4L1500.0 267.2V260.5L1500.5 263.7V269.7L1501.0 266.4V261.6L1501.5 259.5V265.8L1502.0 267.6V257.4L1502.5 261.5V264.7L1503.0 265.8V258.1L1503.5 262.9V267.9L1504.0 273.4V259.8L1504.5 257.8V265.3L1505.0 263.3V269.5L1505.5 265.9V261.4L1506.0 261.0V266.0L1506.5 268.6V262.4L1507.0 260.7V269.3L1507.5 267.5V261.4L1508.0 261.0V270.0L1508.5 270.4V260.9L1509.0 265.1V274.7L1509.5 268.9V265.5L1510.0 264.3V267.6L1510.5 268.5V259.3L1511.0 261.4V265.8L1511.5 266.7V268.8L1512.0 263.6V278.0L1512.5 273.4V264.6L1513.0 262.8V271.1L1513.5 271.2V268.0L1514.0 266.1V270.5L1514.5 268.3V274.7L1515.0 274.1V268.4L1515.5 267.5V272.1L1516.0 269.3V275.4L1516.5 274.7V271.2L1517.0 267.6V275.0L1517.5 275.5V272.2L1518.0 269.6V275.6L1518.5 274.8V270.3L1519.0 267.4V276.9L1519.5 273.7V266.0L1520.0 268.4V276.9L1520.5 274.9V269.3L1521.0 266.5V279.0L1521.5 276.9V269.3L1522.0 269.9V276.7L1522.5 271.2V267.6L1523.0 271.3V272.6L1523.5 271.6V275.4L1524.0 277.0V270.9L1524.5 265.9V279.4L1525.0 277.7V271.2L1525.5 272.4V273.5L1526.0 274.1V276.5L1526.5 273.5V286.7L1527.0 279.6V267.2L1527.5 270.9V274.0L1528.0 281.1V266.1L1528.5 269.0V275.4L1529.0 276.4V271.4L1529.5 269.7V275.0L1530.0 272.6V278.9L1530.5 281.6V271.1L1531.0 271.0V276.7L1531.5 278.6V271.9L1532.0 270.3V276.4L1532.5 277.2V270.4L1533.0 273.4V277.7L1533.5 281.1V273.4L1534.0 276.0V281.8L1534.5 281.7V272.8L1535.0 278.0V285.9L1535.5 286.3V273.9L1536.0 276.6V280.0L1536.5 279.5V277.5L1537.0 276.2V282.7L1537.5 285.3V274.4L1538.0 276.6V281.1L1538.5 281.4V279.9L1539.0 279.6V274.0L1539.5 276.8V282.1L1540.0 282.4V277.6L1540.5 279.7V284.7L1541.0 285.4V275.3L1541.5 280.0V283.1L1542.0 281.8V280.3L1542.5 278.9V285.2L1543.0 288.3V280.1L1543.5 281.0V288.2L1544.0 285.9V279.3L1544.5 282.3V288.2L1545.0 285.9V282.9L1545.5 283.1V286.8L1546.0 287.7V282.4L1546.5 277.6V287.4L1547.0 287.6V282.2L1547.5 282.3V284.0L1548.0 285.1V289.3L1548.5 287.6V279.3L1549.0 284.1V290.5L1549.5 289.1V285.4L1550.0 286.5V287.5L1550.5 286.6V291.0L1551.0 292.3V289.3L1551.5 289.5V287.1L1552.0 288.1V294.1L1552.5 291.6V285.2L1553.0 287.9V292.0L1553.5 291.6V288.7L1554.0 289.1V293.9L1554.5 288.5V300.8L1555.0 293.9V289.6L1555.5 288.2V293.1L1556.0 294.6V289.9L1556.5 287.3V294.3L1557.0 293.4V285.8L1557.5 289.4V294.9L1558.0 291.9V285.8L1558.5 287.9V293.3L1559.0 294.5V285.5L1559.5 291.3V300.7L1560.0 298.7V289.5L1560.5 292.9V301.1L1561.0 294.6V291.1L1561.5 291.1V299.5L1562.0 291.5V290.7L1562.5 290.3V292.8L1563.0 290.4V295.4L1563.5 295.5V292.5L1564.0 293.0V297.0L1564.5 294.5V292.6L1565.0 291.8V296.6L1565.5 295.8V299.4L1566.0 296.8V293.2L1566.5 291.6V301.1L1567.0 300.3V293.5L1567.5 291.7V298.0L1568.0 299.0V290.1L1568.5 290.7V297.8L1569.0 298.5V291.8L1569.5 293.4V300.0L1570.0 298.6V291.4L1570.5 291.8V297.2L1571.0 299.2V295.1L1571.5 296.2V297.6L1572.0 293.8V301.5L1572.5 299.8V297.7L1573.0 299.7V292.2L1573.5 294.9V303.7L1574.0 302.9V293.4L1574.5 296.1V299.4L1575.0 296.7V302.3L1575.5 303.2V296.2L1576.0 296.3V301.7L1576.5 303.8V298.9L1577.0 297.7V306.7L1577.5 300.2V295.6L1578.0 298.3V301.6L1578.5 300.6V296.7L1579.0 295.9V300.2L1579.5 297.6V305.2L1580.0 303.7V298.5L1580.5 298.5V304.6L1581.0 301.3V298.0L1581.5 300.0V309.0L1582.0 304.7V298.8L1582.5 300.3V304.8L1583.0 301.8V309.6L1583.5 307.8V302.5L1584.0 306.7V297.7L1584.5 303.1V305.4L1585.0 307.3V302.4L1585.5 299.9V307.3L1586.0 304.6V299.1L1586.5 300.9V310.3L1587.0 303.2V299.7L1587.5 301.6V306.0L1588.0 303.2V299.4L1588.5 305.2V309.5L1589.0 310.7V301.3L1589.5 303.5V304.5L1590.0 305.6V300.4L1590.5 303.7V310.8L1591.0 309.6V302.5L1591.5 299.8V305.5L1592.0 305.3V304.5L1592.5 307.1V311.2L1593.0 312.5V304.3L1593.5 305.7V309.3L1594.0 308.4V300.6L1594.5 304.7V311.1L1595.0 312.3V304.5L1595.5 304.5V313.8L1596.0 309.6V307.1L1596.5 306.1V309.0L1597.0 309.5V304.6L1597.5 303.9V311.5L1598.0 312.7V307.1L1598.5 308.5V315.0L1599.0 308.4V303.2L1599.5 309.7V311.2L1600.0 313.7V304.8L1600.5 308.1V311.5L1601.0 313.5V305.2L1601.5 309.6V314.4L1602.0 311.9V306.4L1602.5 304.5V309.3L1603.0 309.1V316.3L1603.5 312.6V308.3L1604.0 307.1V313.0L1604.5 315.0V310.0L1605.0 310.2V312.0L1605.5 314.0V305.5L1606.0 310.3V318.6L1606.5 313.9V311.1L1607.0 311.2V311.6L1607.5 308.5V315.4L1608.0 314.9V309.3L1608.5 308.8V316.7L1609.0 316.5V310.4L1609.5 309.9V318.4L1610.0 320.4V312.2L1610.5 311.7V315.8L1611.0 315.2V311.1L1611.5 310.0V315.1L1612.0 317.5V311.3L1612.5 314.2V317.7L1613.0 315.4V312.9L1613.5 312.4V318.9L1614.0 317.0V314.5L1614.5 316.3V311.1L1615.0 311.2V317.9L1615.5 319.6V311.7L1616.0 314.6V317.4L1616.5 317.3V313.4L1617.0 312.5V318.4L1617.5 318.9V312.6L1618.0 314.6V322.9L1618.5 321.8V313.3L1619.0 314.1V319.5L1619.5 319.2V317.2L1620.0 315.0V323.2L1620.5 320.6V312.9L1621.0 312.8V317.0L1621.5 313.4V310.5"/>
</g>
<rect x="1096.4" y="12.6" width="517.1" height="58.8" fill="#fff" stroke="#000" stroke-width="1.2"/>
<line x1="1101.2" y1="27.7" x2="1154.8999999999999" y2="27.7" stroke="#ff0000" stroke-width="3.5" stroke-linecap="round"/>
<text class="lg" x="1161.0" y="34.1">V</text>
<line x1="1275.7" y1="27.7" x2="1330.0" y2="27.7" stroke="#0000ff" stroke-width="3.5" stroke-linecap="round"/>
<text class="lg" x="1334.7" y="34.1">V-1 sccm</text>
<line x1="1101.2" y1="57.1" x2="1154.8999999999999" y2="57.1" stroke="#008080" stroke-width="3.5" stroke-linecap="round"/>
<text class="lg" x="1160.8" y="64.8">V-5 sccm</text>
<line x1="1272.5" y1="57.1" x2="1326.8999999999999" y2="57.1" stroke="#ff00ff" stroke-width="3.5" stroke-linecap="round"/>
<text class="lg" x="1333.4" y="64.8">V-10 sccm</text>
<line x1="1444.9" y1="57.1" x2="1498.8" y2="57.1" stroke="#808000" stroke-width="3.5" stroke-linecap="round"/>
<text class="lg" x="1504.6" y="64.8">V-20 sccm</text>
<text class="pl" x="1574.5" y="124.8" text-anchor="middle">(b)</text>
<text class="tk an" x="1247.2" y="112.3" fill="#808000">600 nm</text>
<text class="tk an" x="1367.3" y="107.9" fill="#ff00ff">600 nm</text>
<text class="tk an" x="1058.0" y="222.0" fill="#008080">545 nm</text>
<text class="tk an" x="1016.0" y="287.8" fill="#0000ff">537 nm</text>
<line x1="1339.7" y1="128.4" x2="1365.7" y2="174.7" stroke="#808000" stroke-width="3.0" stroke-linecap="round"/><polygon points="1374.5,190.4 1359.3,176.0 1370.2,169.9" fill="#808000"/>
<line x1="1411.1" y1="115.2" x2="1380.4" y2="227.4" stroke="#ff00ff" stroke-width="3.0" stroke-linecap="round"/><polygon points="1375.7,244.8 1374.9,223.9 1387.0,227.2" fill="#ff00ff"/>
<line x1="1117.2" y1="226.6" x2="1205.6" y2="285.9" stroke="#008080" stroke-width="3.0" stroke-linecap="round"/><polygon points="1220.6,295.9 1200.5,290.0 1207.5,279.6" fill="#008080"/>
<line x1="1123.5" y1="285.3" x2="1180.1" y2="331.2" stroke="#0000ff" stroke-width="3.0" stroke-linecap="round"/><polygon points="1194.1,342.5 1174.6,334.8 1182.5,325.1" fill="#0000ff"/>
</g>
</svg>
</body></html>
